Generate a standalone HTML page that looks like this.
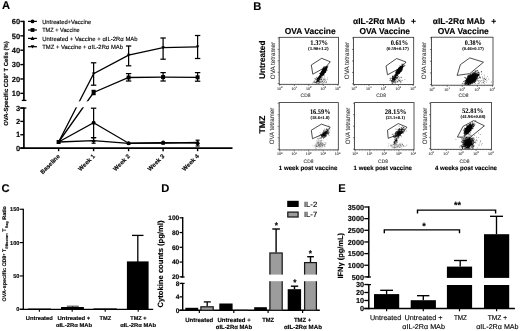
<!DOCTYPE html>
<html lang="en"><head><meta charset="utf-8"><title>Figure</title>
<style>
html,body{margin:0;padding:0;background:#fff;}
body{width:520px;height:331px;overflow:hidden;}
svg{display:block;font-family:"Liberation Sans", Arial, Helvetica, sans-serif;text-rendering:geometricPrecision;}
svg text{stroke:#000;stroke-width:0.13px;stroke-linejoin:round;}
svg text.s{stroke-width:0.05px;}
svg text.g{stroke:#3a3a3a;stroke-width:0.1px;}
</style></head>
<body>
<svg width="520" height="331" viewBox="0 0 520 331" style="filter:blur(0.35px)">
<rect width="520" height="331" fill="#fff"/>
<text x="1.90" y="9.20" font-size="11.2" text-anchor="start" fill="#000" font-weight="bold" >A</text>
<text x="253.30" y="9.60" font-size="11.2" text-anchor="start" fill="#000" font-weight="bold" >B</text>
<text x="1.60" y="191.60" font-size="11.2" text-anchor="start" fill="#000" font-weight="bold" >C</text>
<text x="161.30" y="191.60" font-size="11.2" text-anchor="start" fill="#000" font-weight="bold" >D</text>
<text x="338.30" y="191.60" font-size="11.2" text-anchor="start" fill="#000" font-weight="bold" >E</text>
<line x1="23.90" y1="20.70" x2="23.90" y2="101.00" stroke="#000" stroke-width="1.7" stroke-linecap="butt"/>
<line x1="23.90" y1="107.40" x2="23.90" y2="148.80" stroke="#000" stroke-width="1.7" stroke-linecap="butt"/>
<line x1="20.30" y1="148.10" x2="232.50" y2="148.10" stroke="#000" stroke-width="1.6" stroke-linecap="butt"/>
<line x1="20.30" y1="21.45" x2="23.90" y2="21.45" stroke="#000" stroke-width="1.4" stroke-linecap="butt"/>
<text x="20.10" y="24.14" font-size="7.5" text-anchor="end" fill="#000" font-weight="bold" >60</text>
<line x1="20.30" y1="35.83" x2="23.90" y2="35.83" stroke="#000" stroke-width="1.4" stroke-linecap="butt"/>
<text x="20.10" y="38.52" font-size="7.5" text-anchor="end" fill="#000" font-weight="bold" >50</text>
<line x1="20.30" y1="50.21" x2="23.90" y2="50.21" stroke="#000" stroke-width="1.4" stroke-linecap="butt"/>
<text x="20.10" y="52.89" font-size="7.5" text-anchor="end" fill="#000" font-weight="bold" >40</text>
<line x1="20.30" y1="64.59" x2="23.90" y2="64.59" stroke="#000" stroke-width="1.4" stroke-linecap="butt"/>
<text x="20.10" y="67.28" font-size="7.5" text-anchor="end" fill="#000" font-weight="bold" >30</text>
<line x1="20.30" y1="78.97" x2="23.90" y2="78.97" stroke="#000" stroke-width="1.4" stroke-linecap="butt"/>
<text x="20.10" y="81.66" font-size="7.5" text-anchor="end" fill="#000" font-weight="bold" >20</text>
<line x1="20.30" y1="93.35" x2="23.90" y2="93.35" stroke="#000" stroke-width="1.4" stroke-linecap="butt"/>
<text x="20.10" y="96.03" font-size="7.5" text-anchor="end" fill="#000" font-weight="bold" >10</text>
<line x1="20.30" y1="108.05" x2="23.90" y2="108.05" stroke="#000" stroke-width="1.4" stroke-linecap="butt"/>
<text x="20.10" y="110.73" font-size="7.5" text-anchor="end" fill="#000" font-weight="bold" >3</text>
<line x1="20.30" y1="121.40" x2="23.90" y2="121.40" stroke="#000" stroke-width="1.4" stroke-linecap="butt"/>
<text x="20.10" y="124.08" font-size="7.5" text-anchor="end" fill="#000" font-weight="bold" >2</text>
<line x1="20.30" y1="134.75" x2="23.90" y2="134.75" stroke="#000" stroke-width="1.4" stroke-linecap="butt"/>
<text x="20.10" y="137.44" font-size="7.5" text-anchor="end" fill="#000" font-weight="bold" >1</text>
<line x1="20.30" y1="148.10" x2="23.90" y2="148.10" stroke="#000" stroke-width="1.4" stroke-linecap="butt"/>
<text x="20.10" y="150.78" font-size="7.5" text-anchor="end" fill="#000" font-weight="bold" >0</text>
<line x1="21.80" y1="100.40" x2="26.40" y2="100.40" stroke="#000" stroke-width="1.3" stroke-linecap="butt"/>
<line x1="20.30" y1="108.05" x2="26.40" y2="108.05" stroke="#000" stroke-width="1.3" stroke-linecap="butt"/>
<line x1="58.60" y1="148.00" x2="58.60" y2="151.20" stroke="#000" stroke-width="1.4" stroke-linecap="butt"/>
<line x1="93.60" y1="148.00" x2="93.60" y2="151.20" stroke="#000" stroke-width="1.4" stroke-linecap="butt"/>
<line x1="128.60" y1="148.00" x2="128.60" y2="151.20" stroke="#000" stroke-width="1.4" stroke-linecap="butt"/>
<line x1="163.10" y1="148.00" x2="163.10" y2="151.20" stroke="#000" stroke-width="1.4" stroke-linecap="butt"/>
<line x1="197.60" y1="148.00" x2="197.60" y2="151.20" stroke="#000" stroke-width="1.4" stroke-linecap="butt"/>
<text transform="translate(58.1 154.4) rotate(-45)" font-size="6.1" font-weight="bold" text-anchor="end" x="0" y="3.2">Baseline</text>
<text transform="translate(93.1 154.4) rotate(-45)" font-size="6.1" font-weight="bold" text-anchor="end" x="0" y="3.2">Week 1</text>
<text transform="translate(128.1 154.4) rotate(-45)" font-size="6.1" font-weight="bold" text-anchor="end" x="0" y="3.2">Week 2</text>
<text transform="translate(162.6 154.4) rotate(-45)" font-size="6.1" font-weight="bold" text-anchor="end" x="0" y="3.2">Week 3</text>
<text transform="translate(197.1 154.4) rotate(-45)" font-size="6.1" font-weight="bold" text-anchor="end" x="0" y="3.2">Week 4</text>
<text transform="translate(5.90 83.50) rotate(-90)" x="0" y="2.11" font-size="5.9" text-anchor="middle" fill="#000" font-weight="bold" textLength="84.60" lengthAdjust="spacingAndGlyphs">OVA-Specific CD8<tspan dy="-2" font-size="3.8">+</tspan><tspan dy="2"> T Cells (%)</tspan></text>
<polyline fill="none" stroke="#000" stroke-width="1.3" points="58.60,142.00 93.60,73.80 128.60,55.10 163.10,47.60 197.60,46.80"/>
<polyline fill="none" stroke="#000" stroke-width="1.3" points="58.60,142.00 93.60,92.50 128.60,77.50 163.10,77.10 197.60,77.30"/>
<polyline fill="none" stroke="#000" stroke-width="1.3" points="58.60,142.00 93.60,122.80 128.60,143.20 163.10,142.60 197.60,143.20"/>
<polyline fill="none" stroke="#000" stroke-width="1.3" points="58.60,142.00 93.60,140.60 128.60,143.40 163.10,143.20 197.60,142.40"/>
<rect x="27.00" y="101.30" width="65.00" height="6.00" fill="#fff"/>
<line x1="93.60" y1="62.80" x2="93.60" y2="85.20" stroke="#000" stroke-width="1.25" stroke-linecap="butt"/>
<line x1="90.90" y1="62.80" x2="96.30" y2="62.80" stroke="#000" stroke-width="1.25" stroke-linecap="butt"/>
<line x1="90.90" y1="85.20" x2="96.30" y2="85.20" stroke="#000" stroke-width="1.25" stroke-linecap="butt"/>
<line x1="128.60" y1="46.00" x2="128.60" y2="65.80" stroke="#000" stroke-width="1.25" stroke-linecap="butt"/>
<line x1="125.90" y1="46.00" x2="131.30" y2="46.00" stroke="#000" stroke-width="1.25" stroke-linecap="butt"/>
<line x1="125.90" y1="65.80" x2="131.30" y2="65.80" stroke="#000" stroke-width="1.25" stroke-linecap="butt"/>
<line x1="163.10" y1="38.00" x2="163.10" y2="59.20" stroke="#000" stroke-width="1.25" stroke-linecap="butt"/>
<line x1="160.40" y1="38.00" x2="165.80" y2="38.00" stroke="#000" stroke-width="1.25" stroke-linecap="butt"/>
<line x1="160.40" y1="59.20" x2="165.80" y2="59.20" stroke="#000" stroke-width="1.25" stroke-linecap="butt"/>
<line x1="197.60" y1="35.50" x2="197.60" y2="58.50" stroke="#000" stroke-width="1.25" stroke-linecap="butt"/>
<line x1="194.90" y1="35.50" x2="200.30" y2="35.50" stroke="#000" stroke-width="1.25" stroke-linecap="butt"/>
<line x1="194.90" y1="58.50" x2="200.30" y2="58.50" stroke="#000" stroke-width="1.25" stroke-linecap="butt"/>
<line x1="93.60" y1="90.40" x2="93.60" y2="94.60" stroke="#000" stroke-width="1.25" stroke-linecap="butt"/>
<line x1="91.60" y1="90.40" x2="95.60" y2="90.40" stroke="#000" stroke-width="1.25" stroke-linecap="butt"/>
<line x1="91.60" y1="94.60" x2="95.60" y2="94.60" stroke="#000" stroke-width="1.25" stroke-linecap="butt"/>
<line x1="128.60" y1="73.60" x2="128.60" y2="81.00" stroke="#000" stroke-width="1.25" stroke-linecap="butt"/>
<line x1="125.90" y1="73.60" x2="131.30" y2="73.60" stroke="#000" stroke-width="1.25" stroke-linecap="butt"/>
<line x1="125.90" y1="81.00" x2="131.30" y2="81.00" stroke="#000" stroke-width="1.25" stroke-linecap="butt"/>
<line x1="163.10" y1="72.60" x2="163.10" y2="81.00" stroke="#000" stroke-width="1.25" stroke-linecap="butt"/>
<line x1="160.40" y1="72.60" x2="165.80" y2="72.60" stroke="#000" stroke-width="1.25" stroke-linecap="butt"/>
<line x1="160.40" y1="81.00" x2="165.80" y2="81.00" stroke="#000" stroke-width="1.25" stroke-linecap="butt"/>
<line x1="197.60" y1="72.60" x2="197.60" y2="81.20" stroke="#000" stroke-width="1.25" stroke-linecap="butt"/>
<line x1="194.90" y1="72.60" x2="200.30" y2="72.60" stroke="#000" stroke-width="1.25" stroke-linecap="butt"/>
<line x1="194.90" y1="81.20" x2="200.30" y2="81.20" stroke="#000" stroke-width="1.25" stroke-linecap="butt"/>
<line x1="93.60" y1="108.20" x2="93.60" y2="137.60" stroke="#000" stroke-width="1.25" stroke-linecap="butt"/>
<line x1="90.90" y1="108.20" x2="96.30" y2="108.20" stroke="#000" stroke-width="1.25" stroke-linecap="butt"/>
<line x1="90.90" y1="137.60" x2="96.30" y2="137.60" stroke="#000" stroke-width="1.25" stroke-linecap="butt"/>
<line x1="197.60" y1="140.20" x2="197.60" y2="146.00" stroke="#000" stroke-width="1.25" stroke-linecap="butt"/>
<line x1="195.60" y1="140.20" x2="199.60" y2="140.20" stroke="#000" stroke-width="1.25" stroke-linecap="butt"/>
<line x1="195.60" y1="146.00" x2="199.60" y2="146.00" stroke="#000" stroke-width="1.25" stroke-linecap="butt"/>
<line x1="93.60" y1="137.80" x2="93.60" y2="143.20" stroke="#000" stroke-width="1.25" stroke-linecap="butt"/>
<line x1="91.60" y1="137.80" x2="95.60" y2="137.80" stroke="#000" stroke-width="1.25" stroke-linecap="butt"/>
<line x1="91.60" y1="143.20" x2="95.60" y2="143.20" stroke="#000" stroke-width="1.25" stroke-linecap="butt"/>
<polygon points="91.90,72.44 95.30,72.44 93.60,75.50" fill="#000"/>
<polygon points="126.90,53.74 130.30,53.74 128.60,56.80" fill="#000"/>
<polygon points="161.40,46.24 164.80,46.24 163.10,49.30" fill="#000"/>
<polygon points="195.90,45.44 199.30,45.44 197.60,48.50" fill="#000"/>
<rect x="56.60" y="140.00" width="4.00" height="4.00" fill="#000"/>
<rect x="91.60" y="90.50" width="4.00" height="4.00" fill="#000"/>
<rect x="126.60" y="75.50" width="4.00" height="4.00" fill="#000"/>
<rect x="161.10" y="75.10" width="4.00" height="4.00" fill="#000"/>
<rect x="195.60" y="75.30" width="4.00" height="4.00" fill="#000"/>
<circle cx="93.60" cy="122.80" r="2.0" fill="#000"/>
<circle cx="128.60" cy="143.20" r="2.0" fill="#000"/>
<circle cx="163.10" cy="142.60" r="2.0" fill="#000"/>
<circle cx="197.60" cy="143.20" r="2.0" fill="#000"/>
<polygon points="91.60,142.10 95.60,142.10 93.60,138.50" fill="#000"/>
<polygon points="126.60,144.90 130.60,144.90 128.60,141.30" fill="#000"/>
<polygon points="161.10,144.70 165.10,144.70 163.10,141.10" fill="#000"/>
<polygon points="195.60,143.90 199.60,143.90 197.60,140.30" fill="#000"/>
<line x1="28.00" y1="21.40" x2="36.90" y2="21.40" stroke="#000" stroke-width="1.25" stroke-linecap="butt"/>
<circle cx="32.50" cy="21.40" r="1.9" fill="#000"/>
<text x="42.20" y="23.65" font-size="6.0" text-anchor="start" fill="#000" textLength="49.00" lengthAdjust="spacingAndGlyphs" >Untreated+Vaccine</text>
<line x1="28.00" y1="30.00" x2="36.90" y2="30.00" stroke="#000" stroke-width="1.25" stroke-linecap="butt"/>
<rect x="30.60" y="28.10" width="3.80" height="3.80" fill="#000"/>
<text x="42.20" y="32.25" font-size="6.0" text-anchor="start" fill="#000" textLength="37.50" lengthAdjust="spacingAndGlyphs" >TMZ + Vaccine</text>
<line x1="28.00" y1="38.40" x2="36.90" y2="38.40" stroke="#000" stroke-width="1.25" stroke-linecap="butt"/>
<polygon points="30.50,39.90 34.50,39.90 32.50,36.30" fill="#000"/>
<text x="42.20" y="40.65" font-size="6.0" text-anchor="start" fill="#000" textLength="95.40" lengthAdjust="spacingAndGlyphs" >Untreated + Vaccine + αIL-2Rα MAb</text>
<line x1="28.00" y1="46.70" x2="36.90" y2="46.70" stroke="#000" stroke-width="1.25" stroke-linecap="butt"/>
<polygon points="30.70,45.26 34.30,45.26 32.50,48.50" fill="#000"/>
<text x="42.20" y="48.95" font-size="6.0" text-anchor="start" fill="#000" textLength="80.80" lengthAdjust="spacingAndGlyphs" >TMZ + Vaccine + αIL-2Rα MAb</text>
<text x="310.20" y="33.84" font-size="8.5" text-anchor="middle" fill="#000" font-weight="bold" textLength="51.00" lengthAdjust="spacingAndGlyphs" >OVA Vaccine</text>
<text x="353.10" y="24.04" font-size="8.5" text-anchor="start" fill="#000" font-weight="bold" textLength="52.00" lengthAdjust="spacingAndGlyphs" >αIL-2Rα MAb</text>
<text x="411.00" y="24.04" font-size="8.5" text-anchor="start" fill="#000" font-weight="bold" >+</text>
<text x="384.70" y="33.74" font-size="8.5" text-anchor="middle" fill="#000" font-weight="bold" textLength="50.60" lengthAdjust="spacingAndGlyphs" >OVA Vaccine</text>
<text x="432.80" y="24.04" font-size="8.5" text-anchor="start" fill="#000" font-weight="bold" textLength="52.20" lengthAdjust="spacingAndGlyphs" >αIL-2Rα MAb</text>
<text x="491.20" y="24.04" font-size="8.5" text-anchor="start" fill="#000" font-weight="bold" >+</text>
<text x="463.30" y="33.74" font-size="8.5" text-anchor="middle" fill="#000" font-weight="bold" textLength="51.00" lengthAdjust="spacingAndGlyphs" >OVA Vaccine</text>
<text transform="translate(262.40 59.80) rotate(-90)" x="0" y="2.97" font-size="8.3" text-anchor="middle" fill="#000" font-weight="bold" textLength="38.40" lengthAdjust="spacingAndGlyphs">Untreated</text>
<text transform="translate(262.20 124.60) rotate(-90)" x="0" y="2.97" font-size="8.3" text-anchor="middle" fill="#000" font-weight="bold" textLength="17.90" lengthAdjust="spacingAndGlyphs">TMZ</text>
<text transform="translate(272.30 60.50) rotate(-90)" x="0" y="2.29" font-size="6.4" text-anchor="middle" fill="#3a3a3a" class="g" textLength="37.30" lengthAdjust="spacingAndGlyphs">OVA tetramer</text>
<text transform="translate(271.70 126.00) rotate(-90)" x="0" y="2.29" font-size="6.4" text-anchor="middle" fill="#3a3a3a" class="g" textLength="36.60" lengthAdjust="spacingAndGlyphs">OVA tetramer</text>
<text transform="translate(346.80 60.50) rotate(-90)" x="0" y="2.29" font-size="6.4" text-anchor="middle" fill="#3a3a3a" class="g" textLength="37.30" lengthAdjust="spacingAndGlyphs">OVA tetramer</text>
<text transform="translate(347.50 126.00) rotate(-90)" x="0" y="2.29" font-size="6.4" text-anchor="middle" fill="#3a3a3a" class="g" textLength="36.60" lengthAdjust="spacingAndGlyphs">OVA tetramer</text>
<text transform="translate(424.00 60.50) rotate(-90)" x="0" y="2.29" font-size="6.4" text-anchor="middle" fill="#3a3a3a" class="g" textLength="37.30" lengthAdjust="spacingAndGlyphs">OVA tetramer</text>
<text transform="translate(424.90 126.00) rotate(-90)" x="0" y="2.29" font-size="6.4" text-anchor="middle" fill="#3a3a3a" class="g" textLength="36.60" lengthAdjust="spacingAndGlyphs">OVA tetramer</text>
<rect x="279.20" y="37.30" width="59.20" height="47.00" fill="none" stroke="#2a2a2a" stroke-width="0.8"/>
<line x1="279.80" y1="84.30" x2="279.80" y2="85.90" stroke="#222" stroke-width="0.6" stroke-linecap="butt"/>
<text x="276.90" y="89.60" font-size="3.7" fill="#333" class="g">10<tspan dy="-1.5" font-size="2.6">0</tspan></text>
<line x1="277.60" y1="83.70" x2="279.20" y2="83.70" stroke="#222" stroke-width="0.6" stroke-linecap="butt"/>
<line x1="284.16" y1="84.30" x2="284.16" y2="85.20" stroke="#444" stroke-width="0.35" stroke-linecap="butt"/>
<line x1="278.30" y1="80.25" x2="279.20" y2="80.25" stroke="#444" stroke-width="0.35" stroke-linecap="butt"/>
<line x1="286.72" y1="84.30" x2="286.72" y2="85.20" stroke="#444" stroke-width="0.35" stroke-linecap="butt"/>
<line x1="278.30" y1="78.24" x2="279.20" y2="78.24" stroke="#444" stroke-width="0.35" stroke-linecap="butt"/>
<line x1="289.94" y1="84.30" x2="289.94" y2="85.20" stroke="#444" stroke-width="0.35" stroke-linecap="butt"/>
<line x1="278.30" y1="75.70" x2="279.20" y2="75.70" stroke="#444" stroke-width="0.35" stroke-linecap="butt"/>
<line x1="292.05" y1="84.30" x2="292.05" y2="85.20" stroke="#444" stroke-width="0.35" stroke-linecap="butt"/>
<line x1="278.30" y1="74.02" x2="279.20" y2="74.02" stroke="#444" stroke-width="0.35" stroke-linecap="butt"/>
<line x1="294.30" y1="84.30" x2="294.30" y2="85.90" stroke="#222" stroke-width="0.6" stroke-linecap="butt"/>
<text x="291.40" y="89.60" font-size="3.7" fill="#333" class="g">10<tspan dy="-1.5" font-size="2.6">1</tspan></text>
<line x1="277.60" y1="72.25" x2="279.20" y2="72.25" stroke="#222" stroke-width="0.6" stroke-linecap="butt"/>
<line x1="298.66" y1="84.30" x2="298.66" y2="85.20" stroke="#444" stroke-width="0.35" stroke-linecap="butt"/>
<line x1="278.30" y1="68.80" x2="279.20" y2="68.80" stroke="#444" stroke-width="0.35" stroke-linecap="butt"/>
<line x1="301.22" y1="84.30" x2="301.22" y2="85.20" stroke="#444" stroke-width="0.35" stroke-linecap="butt"/>
<line x1="278.30" y1="66.79" x2="279.20" y2="66.79" stroke="#444" stroke-width="0.35" stroke-linecap="butt"/>
<line x1="304.44" y1="84.30" x2="304.44" y2="85.20" stroke="#444" stroke-width="0.35" stroke-linecap="butt"/>
<line x1="278.30" y1="64.25" x2="279.20" y2="64.25" stroke="#444" stroke-width="0.35" stroke-linecap="butt"/>
<line x1="306.55" y1="84.30" x2="306.55" y2="85.20" stroke="#444" stroke-width="0.35" stroke-linecap="butt"/>
<line x1="278.30" y1="62.57" x2="279.20" y2="62.57" stroke="#444" stroke-width="0.35" stroke-linecap="butt"/>
<line x1="308.80" y1="84.30" x2="308.80" y2="85.90" stroke="#222" stroke-width="0.6" stroke-linecap="butt"/>
<text x="305.90" y="89.60" font-size="3.7" fill="#333" class="g">10<tspan dy="-1.5" font-size="2.6">2</tspan></text>
<line x1="277.60" y1="60.80" x2="279.20" y2="60.80" stroke="#222" stroke-width="0.6" stroke-linecap="butt"/>
<line x1="313.16" y1="84.30" x2="313.16" y2="85.20" stroke="#444" stroke-width="0.35" stroke-linecap="butt"/>
<line x1="278.30" y1="57.35" x2="279.20" y2="57.35" stroke="#444" stroke-width="0.35" stroke-linecap="butt"/>
<line x1="315.72" y1="84.30" x2="315.72" y2="85.20" stroke="#444" stroke-width="0.35" stroke-linecap="butt"/>
<line x1="278.30" y1="55.34" x2="279.20" y2="55.34" stroke="#444" stroke-width="0.35" stroke-linecap="butt"/>
<line x1="318.94" y1="84.30" x2="318.94" y2="85.20" stroke="#444" stroke-width="0.35" stroke-linecap="butt"/>
<line x1="278.30" y1="52.80" x2="279.20" y2="52.80" stroke="#444" stroke-width="0.35" stroke-linecap="butt"/>
<line x1="321.05" y1="84.30" x2="321.05" y2="85.20" stroke="#444" stroke-width="0.35" stroke-linecap="butt"/>
<line x1="278.30" y1="51.12" x2="279.20" y2="51.12" stroke="#444" stroke-width="0.35" stroke-linecap="butt"/>
<line x1="323.30" y1="84.30" x2="323.30" y2="85.90" stroke="#222" stroke-width="0.6" stroke-linecap="butt"/>
<text x="320.40" y="89.60" font-size="3.7" fill="#333" class="g">10<tspan dy="-1.5" font-size="2.6">3</tspan></text>
<line x1="277.60" y1="49.35" x2="279.20" y2="49.35" stroke="#222" stroke-width="0.6" stroke-linecap="butt"/>
<line x1="327.66" y1="84.30" x2="327.66" y2="85.20" stroke="#444" stroke-width="0.35" stroke-linecap="butt"/>
<line x1="278.30" y1="45.90" x2="279.20" y2="45.90" stroke="#444" stroke-width="0.35" stroke-linecap="butt"/>
<line x1="330.22" y1="84.30" x2="330.22" y2="85.20" stroke="#444" stroke-width="0.35" stroke-linecap="butt"/>
<line x1="278.30" y1="43.89" x2="279.20" y2="43.89" stroke="#444" stroke-width="0.35" stroke-linecap="butt"/>
<line x1="333.44" y1="84.30" x2="333.44" y2="85.20" stroke="#444" stroke-width="0.35" stroke-linecap="butt"/>
<line x1="278.30" y1="41.35" x2="279.20" y2="41.35" stroke="#444" stroke-width="0.35" stroke-linecap="butt"/>
<line x1="335.55" y1="84.30" x2="335.55" y2="85.20" stroke="#444" stroke-width="0.35" stroke-linecap="butt"/>
<line x1="278.30" y1="39.67" x2="279.20" y2="39.67" stroke="#444" stroke-width="0.35" stroke-linecap="butt"/>
<line x1="337.80" y1="84.30" x2="337.80" y2="85.90" stroke="#222" stroke-width="0.6" stroke-linecap="butt"/>
<text x="334.90" y="89.60" font-size="3.7" fill="#333" class="g">10<tspan dy="-1.5" font-size="2.6">4</tspan></text>
<line x1="277.60" y1="37.90" x2="279.20" y2="37.90" stroke="#222" stroke-width="0.6" stroke-linecap="butt"/>
<text x="305.50" y="96.55" font-size="4.9" text-anchor="middle" fill="#3a3a3a" class="g" >CD8</text>
<rect x="353.60" y="37.30" width="60.10" height="47.20" fill="none" stroke="#2a2a2a" stroke-width="0.8"/>
<line x1="354.20" y1="84.50" x2="354.20" y2="86.10" stroke="#222" stroke-width="0.6" stroke-linecap="butt"/>
<text x="351.30" y="89.80" font-size="3.7" fill="#333" class="g">10<tspan dy="-1.5" font-size="2.6">0</tspan></text>
<line x1="352.00" y1="83.90" x2="353.60" y2="83.90" stroke="#222" stroke-width="0.6" stroke-linecap="butt"/>
<line x1="358.63" y1="84.50" x2="358.63" y2="85.40" stroke="#444" stroke-width="0.35" stroke-linecap="butt"/>
<line x1="352.70" y1="80.44" x2="353.60" y2="80.44" stroke="#444" stroke-width="0.35" stroke-linecap="butt"/>
<line x1="361.23" y1="84.50" x2="361.23" y2="85.40" stroke="#444" stroke-width="0.35" stroke-linecap="butt"/>
<line x1="352.70" y1="78.41" x2="353.60" y2="78.41" stroke="#444" stroke-width="0.35" stroke-linecap="butt"/>
<line x1="364.49" y1="84.50" x2="364.49" y2="85.40" stroke="#444" stroke-width="0.35" stroke-linecap="butt"/>
<line x1="352.70" y1="75.86" x2="353.60" y2="75.86" stroke="#444" stroke-width="0.35" stroke-linecap="butt"/>
<line x1="366.64" y1="84.50" x2="366.64" y2="85.40" stroke="#444" stroke-width="0.35" stroke-linecap="butt"/>
<line x1="352.70" y1="74.18" x2="353.60" y2="74.18" stroke="#444" stroke-width="0.35" stroke-linecap="butt"/>
<line x1="368.93" y1="84.50" x2="368.93" y2="86.10" stroke="#222" stroke-width="0.6" stroke-linecap="butt"/>
<text x="366.03" y="89.80" font-size="3.7" fill="#333" class="g">10<tspan dy="-1.5" font-size="2.6">1</tspan></text>
<line x1="352.00" y1="72.40" x2="353.60" y2="72.40" stroke="#222" stroke-width="0.6" stroke-linecap="butt"/>
<line x1="373.36" y1="84.50" x2="373.36" y2="85.40" stroke="#444" stroke-width="0.35" stroke-linecap="butt"/>
<line x1="352.70" y1="68.94" x2="353.60" y2="68.94" stroke="#444" stroke-width="0.35" stroke-linecap="butt"/>
<line x1="375.95" y1="84.50" x2="375.95" y2="85.40" stroke="#444" stroke-width="0.35" stroke-linecap="butt"/>
<line x1="352.70" y1="66.91" x2="353.60" y2="66.91" stroke="#444" stroke-width="0.35" stroke-linecap="butt"/>
<line x1="379.22" y1="84.50" x2="379.22" y2="85.40" stroke="#444" stroke-width="0.35" stroke-linecap="butt"/>
<line x1="352.70" y1="64.36" x2="353.60" y2="64.36" stroke="#444" stroke-width="0.35" stroke-linecap="butt"/>
<line x1="381.37" y1="84.50" x2="381.37" y2="85.40" stroke="#444" stroke-width="0.35" stroke-linecap="butt"/>
<line x1="352.70" y1="62.68" x2="353.60" y2="62.68" stroke="#444" stroke-width="0.35" stroke-linecap="butt"/>
<line x1="383.65" y1="84.50" x2="383.65" y2="86.10" stroke="#222" stroke-width="0.6" stroke-linecap="butt"/>
<text x="380.75" y="89.80" font-size="3.7" fill="#333" class="g">10<tspan dy="-1.5" font-size="2.6">2</tspan></text>
<line x1="352.00" y1="60.90" x2="353.60" y2="60.90" stroke="#222" stroke-width="0.6" stroke-linecap="butt"/>
<line x1="388.08" y1="84.50" x2="388.08" y2="85.40" stroke="#444" stroke-width="0.35" stroke-linecap="butt"/>
<line x1="352.70" y1="57.44" x2="353.60" y2="57.44" stroke="#444" stroke-width="0.35" stroke-linecap="butt"/>
<line x1="390.68" y1="84.50" x2="390.68" y2="85.40" stroke="#444" stroke-width="0.35" stroke-linecap="butt"/>
<line x1="352.70" y1="55.41" x2="353.60" y2="55.41" stroke="#444" stroke-width="0.35" stroke-linecap="butt"/>
<line x1="393.94" y1="84.50" x2="393.94" y2="85.40" stroke="#444" stroke-width="0.35" stroke-linecap="butt"/>
<line x1="352.70" y1="52.86" x2="353.60" y2="52.86" stroke="#444" stroke-width="0.35" stroke-linecap="butt"/>
<line x1="396.09" y1="84.50" x2="396.09" y2="85.40" stroke="#444" stroke-width="0.35" stroke-linecap="butt"/>
<line x1="352.70" y1="51.18" x2="353.60" y2="51.18" stroke="#444" stroke-width="0.35" stroke-linecap="butt"/>
<line x1="398.38" y1="84.50" x2="398.38" y2="86.10" stroke="#222" stroke-width="0.6" stroke-linecap="butt"/>
<text x="395.48" y="89.80" font-size="3.7" fill="#333" class="g">10<tspan dy="-1.5" font-size="2.6">3</tspan></text>
<line x1="352.00" y1="49.40" x2="353.60" y2="49.40" stroke="#222" stroke-width="0.6" stroke-linecap="butt"/>
<line x1="402.81" y1="84.50" x2="402.81" y2="85.40" stroke="#444" stroke-width="0.35" stroke-linecap="butt"/>
<line x1="352.70" y1="45.94" x2="353.60" y2="45.94" stroke="#444" stroke-width="0.35" stroke-linecap="butt"/>
<line x1="405.40" y1="84.50" x2="405.40" y2="85.40" stroke="#444" stroke-width="0.35" stroke-linecap="butt"/>
<line x1="352.70" y1="43.91" x2="353.60" y2="43.91" stroke="#444" stroke-width="0.35" stroke-linecap="butt"/>
<line x1="408.67" y1="84.50" x2="408.67" y2="85.40" stroke="#444" stroke-width="0.35" stroke-linecap="butt"/>
<line x1="352.70" y1="41.36" x2="353.60" y2="41.36" stroke="#444" stroke-width="0.35" stroke-linecap="butt"/>
<line x1="410.82" y1="84.50" x2="410.82" y2="85.40" stroke="#444" stroke-width="0.35" stroke-linecap="butt"/>
<line x1="352.70" y1="39.68" x2="353.60" y2="39.68" stroke="#444" stroke-width="0.35" stroke-linecap="butt"/>
<line x1="413.10" y1="84.50" x2="413.10" y2="86.10" stroke="#222" stroke-width="0.6" stroke-linecap="butt"/>
<text x="410.20" y="89.80" font-size="3.7" fill="#333" class="g">10<tspan dy="-1.5" font-size="2.6">4</tspan></text>
<line x1="352.00" y1="37.90" x2="353.60" y2="37.90" stroke="#222" stroke-width="0.6" stroke-linecap="butt"/>
<text x="381.20" y="96.55" font-size="4.9" text-anchor="middle" fill="#3a3a3a" class="g" >CD8</text>
<rect x="431.50" y="37.20" width="61.50" height="48.00" fill="none" stroke="#2a2a2a" stroke-width="0.8"/>
<line x1="432.10" y1="85.20" x2="432.10" y2="86.80" stroke="#222" stroke-width="0.6" stroke-linecap="butt"/>
<text x="429.20" y="90.50" font-size="3.7" fill="#333" class="g">10<tspan dy="-1.5" font-size="2.6">0</tspan></text>
<line x1="429.90" y1="84.60" x2="431.50" y2="84.60" stroke="#222" stroke-width="0.6" stroke-linecap="butt"/>
<line x1="436.64" y1="85.20" x2="436.64" y2="86.10" stroke="#444" stroke-width="0.35" stroke-linecap="butt"/>
<line x1="430.60" y1="81.08" x2="431.50" y2="81.08" stroke="#444" stroke-width="0.35" stroke-linecap="butt"/>
<line x1="439.29" y1="85.20" x2="439.29" y2="86.10" stroke="#444" stroke-width="0.35" stroke-linecap="butt"/>
<line x1="430.60" y1="79.02" x2="431.50" y2="79.02" stroke="#444" stroke-width="0.35" stroke-linecap="butt"/>
<line x1="442.64" y1="85.20" x2="442.64" y2="86.10" stroke="#444" stroke-width="0.35" stroke-linecap="butt"/>
<line x1="430.60" y1="76.42" x2="431.50" y2="76.42" stroke="#444" stroke-width="0.35" stroke-linecap="butt"/>
<line x1="444.84" y1="85.20" x2="444.84" y2="86.10" stroke="#444" stroke-width="0.35" stroke-linecap="butt"/>
<line x1="430.60" y1="74.71" x2="431.50" y2="74.71" stroke="#444" stroke-width="0.35" stroke-linecap="butt"/>
<line x1="447.18" y1="85.20" x2="447.18" y2="86.80" stroke="#222" stroke-width="0.6" stroke-linecap="butt"/>
<text x="444.28" y="90.50" font-size="3.7" fill="#333" class="g">10<tspan dy="-1.5" font-size="2.6">1</tspan></text>
<line x1="429.90" y1="72.90" x2="431.50" y2="72.90" stroke="#222" stroke-width="0.6" stroke-linecap="butt"/>
<line x1="451.71" y1="85.20" x2="451.71" y2="86.10" stroke="#444" stroke-width="0.35" stroke-linecap="butt"/>
<line x1="430.60" y1="69.38" x2="431.50" y2="69.38" stroke="#444" stroke-width="0.35" stroke-linecap="butt"/>
<line x1="454.37" y1="85.20" x2="454.37" y2="86.10" stroke="#444" stroke-width="0.35" stroke-linecap="butt"/>
<line x1="430.60" y1="67.32" x2="431.50" y2="67.32" stroke="#444" stroke-width="0.35" stroke-linecap="butt"/>
<line x1="457.71" y1="85.20" x2="457.71" y2="86.10" stroke="#444" stroke-width="0.35" stroke-linecap="butt"/>
<line x1="430.60" y1="64.72" x2="431.50" y2="64.72" stroke="#444" stroke-width="0.35" stroke-linecap="butt"/>
<line x1="459.91" y1="85.20" x2="459.91" y2="86.10" stroke="#444" stroke-width="0.35" stroke-linecap="butt"/>
<line x1="430.60" y1="63.01" x2="431.50" y2="63.01" stroke="#444" stroke-width="0.35" stroke-linecap="butt"/>
<line x1="462.25" y1="85.20" x2="462.25" y2="86.80" stroke="#222" stroke-width="0.6" stroke-linecap="butt"/>
<text x="459.35" y="90.50" font-size="3.7" fill="#333" class="g">10<tspan dy="-1.5" font-size="2.6">2</tspan></text>
<line x1="429.90" y1="61.20" x2="431.50" y2="61.20" stroke="#222" stroke-width="0.6" stroke-linecap="butt"/>
<line x1="466.79" y1="85.20" x2="466.79" y2="86.10" stroke="#444" stroke-width="0.35" stroke-linecap="butt"/>
<line x1="430.60" y1="57.68" x2="431.50" y2="57.68" stroke="#444" stroke-width="0.35" stroke-linecap="butt"/>
<line x1="469.44" y1="85.20" x2="469.44" y2="86.10" stroke="#444" stroke-width="0.35" stroke-linecap="butt"/>
<line x1="430.60" y1="55.62" x2="431.50" y2="55.62" stroke="#444" stroke-width="0.35" stroke-linecap="butt"/>
<line x1="472.79" y1="85.20" x2="472.79" y2="86.10" stroke="#444" stroke-width="0.35" stroke-linecap="butt"/>
<line x1="430.60" y1="53.02" x2="431.50" y2="53.02" stroke="#444" stroke-width="0.35" stroke-linecap="butt"/>
<line x1="474.99" y1="85.20" x2="474.99" y2="86.10" stroke="#444" stroke-width="0.35" stroke-linecap="butt"/>
<line x1="430.60" y1="51.31" x2="431.50" y2="51.31" stroke="#444" stroke-width="0.35" stroke-linecap="butt"/>
<line x1="477.33" y1="85.20" x2="477.33" y2="86.80" stroke="#222" stroke-width="0.6" stroke-linecap="butt"/>
<text x="474.43" y="90.50" font-size="3.7" fill="#333" class="g">10<tspan dy="-1.5" font-size="2.6">3</tspan></text>
<line x1="429.90" y1="49.50" x2="431.50" y2="49.50" stroke="#222" stroke-width="0.6" stroke-linecap="butt"/>
<line x1="481.86" y1="85.20" x2="481.86" y2="86.10" stroke="#444" stroke-width="0.35" stroke-linecap="butt"/>
<line x1="430.60" y1="45.98" x2="431.50" y2="45.98" stroke="#444" stroke-width="0.35" stroke-linecap="butt"/>
<line x1="484.52" y1="85.20" x2="484.52" y2="86.10" stroke="#444" stroke-width="0.35" stroke-linecap="butt"/>
<line x1="430.60" y1="43.92" x2="431.50" y2="43.92" stroke="#444" stroke-width="0.35" stroke-linecap="butt"/>
<line x1="487.86" y1="85.20" x2="487.86" y2="86.10" stroke="#444" stroke-width="0.35" stroke-linecap="butt"/>
<line x1="430.60" y1="41.32" x2="431.50" y2="41.32" stroke="#444" stroke-width="0.35" stroke-linecap="butt"/>
<line x1="490.06" y1="85.20" x2="490.06" y2="86.10" stroke="#444" stroke-width="0.35" stroke-linecap="butt"/>
<line x1="430.60" y1="39.61" x2="431.50" y2="39.61" stroke="#444" stroke-width="0.35" stroke-linecap="butt"/>
<line x1="492.40" y1="85.20" x2="492.40" y2="86.80" stroke="#222" stroke-width="0.6" stroke-linecap="butt"/>
<text x="489.50" y="90.50" font-size="3.7" fill="#333" class="g">10<tspan dy="-1.5" font-size="2.6">4</tspan></text>
<line x1="429.90" y1="37.80" x2="431.50" y2="37.80" stroke="#222" stroke-width="0.6" stroke-linecap="butt"/>
<text x="463.50" y="96.55" font-size="4.9" text-anchor="middle" fill="#3a3a3a" class="g" >CD8</text>
<rect x="279.20" y="102.60" width="59.10" height="47.30" fill="none" stroke="#2a2a2a" stroke-width="0.8"/>
<line x1="279.80" y1="149.90" x2="279.80" y2="151.50" stroke="#222" stroke-width="0.6" stroke-linecap="butt"/>
<text x="276.90" y="155.20" font-size="3.7" fill="#333" class="g">10<tspan dy="-1.5" font-size="2.6">0</tspan></text>
<line x1="277.60" y1="149.30" x2="279.20" y2="149.30" stroke="#222" stroke-width="0.6" stroke-linecap="butt"/>
<line x1="284.16" y1="149.90" x2="284.16" y2="150.80" stroke="#444" stroke-width="0.35" stroke-linecap="butt"/>
<line x1="278.30" y1="145.83" x2="279.20" y2="145.83" stroke="#444" stroke-width="0.35" stroke-linecap="butt"/>
<line x1="286.71" y1="149.90" x2="286.71" y2="150.80" stroke="#444" stroke-width="0.35" stroke-linecap="butt"/>
<line x1="278.30" y1="143.80" x2="279.20" y2="143.80" stroke="#444" stroke-width="0.35" stroke-linecap="butt"/>
<line x1="289.92" y1="149.90" x2="289.92" y2="150.80" stroke="#444" stroke-width="0.35" stroke-linecap="butt"/>
<line x1="278.30" y1="141.24" x2="279.20" y2="141.24" stroke="#444" stroke-width="0.35" stroke-linecap="butt"/>
<line x1="292.03" y1="149.90" x2="292.03" y2="150.80" stroke="#444" stroke-width="0.35" stroke-linecap="butt"/>
<line x1="278.30" y1="139.56" x2="279.20" y2="139.56" stroke="#444" stroke-width="0.35" stroke-linecap="butt"/>
<line x1="294.28" y1="149.90" x2="294.28" y2="151.50" stroke="#222" stroke-width="0.6" stroke-linecap="butt"/>
<text x="291.38" y="155.20" font-size="3.7" fill="#333" class="g">10<tspan dy="-1.5" font-size="2.6">1</tspan></text>
<line x1="277.60" y1="137.78" x2="279.20" y2="137.78" stroke="#222" stroke-width="0.6" stroke-linecap="butt"/>
<line x1="298.63" y1="149.90" x2="298.63" y2="150.80" stroke="#444" stroke-width="0.35" stroke-linecap="butt"/>
<line x1="278.30" y1="134.31" x2="279.20" y2="134.31" stroke="#444" stroke-width="0.35" stroke-linecap="butt"/>
<line x1="301.18" y1="149.90" x2="301.18" y2="150.80" stroke="#444" stroke-width="0.35" stroke-linecap="butt"/>
<line x1="278.30" y1="132.28" x2="279.20" y2="132.28" stroke="#444" stroke-width="0.35" stroke-linecap="butt"/>
<line x1="304.39" y1="149.90" x2="304.39" y2="150.80" stroke="#444" stroke-width="0.35" stroke-linecap="butt"/>
<line x1="278.30" y1="129.72" x2="279.20" y2="129.72" stroke="#444" stroke-width="0.35" stroke-linecap="butt"/>
<line x1="306.51" y1="149.90" x2="306.51" y2="150.80" stroke="#444" stroke-width="0.35" stroke-linecap="butt"/>
<line x1="278.30" y1="128.04" x2="279.20" y2="128.04" stroke="#444" stroke-width="0.35" stroke-linecap="butt"/>
<line x1="308.75" y1="149.90" x2="308.75" y2="151.50" stroke="#222" stroke-width="0.6" stroke-linecap="butt"/>
<text x="305.85" y="155.20" font-size="3.7" fill="#333" class="g">10<tspan dy="-1.5" font-size="2.6">2</tspan></text>
<line x1="277.60" y1="126.25" x2="279.20" y2="126.25" stroke="#222" stroke-width="0.6" stroke-linecap="butt"/>
<line x1="313.11" y1="149.90" x2="313.11" y2="150.80" stroke="#444" stroke-width="0.35" stroke-linecap="butt"/>
<line x1="278.30" y1="122.78" x2="279.20" y2="122.78" stroke="#444" stroke-width="0.35" stroke-linecap="butt"/>
<line x1="315.66" y1="149.90" x2="315.66" y2="150.80" stroke="#444" stroke-width="0.35" stroke-linecap="butt"/>
<line x1="278.30" y1="120.75" x2="279.20" y2="120.75" stroke="#444" stroke-width="0.35" stroke-linecap="butt"/>
<line x1="318.87" y1="149.90" x2="318.87" y2="150.80" stroke="#444" stroke-width="0.35" stroke-linecap="butt"/>
<line x1="278.30" y1="118.19" x2="279.20" y2="118.19" stroke="#444" stroke-width="0.35" stroke-linecap="butt"/>
<line x1="320.98" y1="149.90" x2="320.98" y2="150.80" stroke="#444" stroke-width="0.35" stroke-linecap="butt"/>
<line x1="278.30" y1="116.51" x2="279.20" y2="116.51" stroke="#444" stroke-width="0.35" stroke-linecap="butt"/>
<line x1="323.23" y1="149.90" x2="323.23" y2="151.50" stroke="#222" stroke-width="0.6" stroke-linecap="butt"/>
<text x="320.33" y="155.20" font-size="3.7" fill="#333" class="g">10<tspan dy="-1.5" font-size="2.6">3</tspan></text>
<line x1="277.60" y1="114.73" x2="279.20" y2="114.73" stroke="#222" stroke-width="0.6" stroke-linecap="butt"/>
<line x1="327.58" y1="149.90" x2="327.58" y2="150.80" stroke="#444" stroke-width="0.35" stroke-linecap="butt"/>
<line x1="278.30" y1="111.26" x2="279.20" y2="111.26" stroke="#444" stroke-width="0.35" stroke-linecap="butt"/>
<line x1="330.13" y1="149.90" x2="330.13" y2="150.80" stroke="#444" stroke-width="0.35" stroke-linecap="butt"/>
<line x1="278.30" y1="109.23" x2="279.20" y2="109.23" stroke="#444" stroke-width="0.35" stroke-linecap="butt"/>
<line x1="333.34" y1="149.90" x2="333.34" y2="150.80" stroke="#444" stroke-width="0.35" stroke-linecap="butt"/>
<line x1="278.30" y1="106.67" x2="279.20" y2="106.67" stroke="#444" stroke-width="0.35" stroke-linecap="butt"/>
<line x1="335.46" y1="149.90" x2="335.46" y2="150.80" stroke="#444" stroke-width="0.35" stroke-linecap="butt"/>
<line x1="278.30" y1="104.99" x2="279.20" y2="104.99" stroke="#444" stroke-width="0.35" stroke-linecap="butt"/>
<line x1="337.70" y1="149.90" x2="337.70" y2="151.50" stroke="#222" stroke-width="0.6" stroke-linecap="butt"/>
<text x="334.80" y="155.20" font-size="3.7" fill="#333" class="g">10<tspan dy="-1.5" font-size="2.6">4</tspan></text>
<line x1="277.60" y1="103.20" x2="279.20" y2="103.20" stroke="#222" stroke-width="0.6" stroke-linecap="butt"/>
<text x="308.50" y="162.85" font-size="4.9" text-anchor="middle" fill="#3a3a3a" class="g" >CD8</text>
<rect x="354.60" y="102.60" width="59.40" height="47.20" fill="none" stroke="#2a2a2a" stroke-width="0.8"/>
<line x1="355.20" y1="149.80" x2="355.20" y2="151.40" stroke="#222" stroke-width="0.6" stroke-linecap="butt"/>
<text x="352.30" y="155.10" font-size="3.7" fill="#333" class="g">10<tspan dy="-1.5" font-size="2.6">0</tspan></text>
<line x1="353.00" y1="149.20" x2="354.60" y2="149.20" stroke="#222" stroke-width="0.6" stroke-linecap="butt"/>
<line x1="359.58" y1="149.80" x2="359.58" y2="150.70" stroke="#444" stroke-width="0.35" stroke-linecap="butt"/>
<line x1="353.70" y1="145.74" x2="354.60" y2="145.74" stroke="#444" stroke-width="0.35" stroke-linecap="butt"/>
<line x1="362.14" y1="149.80" x2="362.14" y2="150.70" stroke="#444" stroke-width="0.35" stroke-linecap="butt"/>
<line x1="353.70" y1="143.71" x2="354.60" y2="143.71" stroke="#444" stroke-width="0.35" stroke-linecap="butt"/>
<line x1="365.37" y1="149.80" x2="365.37" y2="150.70" stroke="#444" stroke-width="0.35" stroke-linecap="butt"/>
<line x1="353.70" y1="141.16" x2="354.60" y2="141.16" stroke="#444" stroke-width="0.35" stroke-linecap="butt"/>
<line x1="367.50" y1="149.80" x2="367.50" y2="150.70" stroke="#444" stroke-width="0.35" stroke-linecap="butt"/>
<line x1="353.70" y1="139.48" x2="354.60" y2="139.48" stroke="#444" stroke-width="0.35" stroke-linecap="butt"/>
<line x1="369.75" y1="149.80" x2="369.75" y2="151.40" stroke="#222" stroke-width="0.6" stroke-linecap="butt"/>
<text x="366.85" y="155.10" font-size="3.7" fill="#333" class="g">10<tspan dy="-1.5" font-size="2.6">1</tspan></text>
<line x1="353.00" y1="137.70" x2="354.60" y2="137.70" stroke="#222" stroke-width="0.6" stroke-linecap="butt"/>
<line x1="374.13" y1="149.80" x2="374.13" y2="150.70" stroke="#444" stroke-width="0.35" stroke-linecap="butt"/>
<line x1="353.70" y1="134.24" x2="354.60" y2="134.24" stroke="#444" stroke-width="0.35" stroke-linecap="butt"/>
<line x1="376.69" y1="149.80" x2="376.69" y2="150.70" stroke="#444" stroke-width="0.35" stroke-linecap="butt"/>
<line x1="353.70" y1="132.21" x2="354.60" y2="132.21" stroke="#444" stroke-width="0.35" stroke-linecap="butt"/>
<line x1="379.92" y1="149.80" x2="379.92" y2="150.70" stroke="#444" stroke-width="0.35" stroke-linecap="butt"/>
<line x1="353.70" y1="129.66" x2="354.60" y2="129.66" stroke="#444" stroke-width="0.35" stroke-linecap="butt"/>
<line x1="382.05" y1="149.80" x2="382.05" y2="150.70" stroke="#444" stroke-width="0.35" stroke-linecap="butt"/>
<line x1="353.70" y1="127.98" x2="354.60" y2="127.98" stroke="#444" stroke-width="0.35" stroke-linecap="butt"/>
<line x1="384.30" y1="149.80" x2="384.30" y2="151.40" stroke="#222" stroke-width="0.6" stroke-linecap="butt"/>
<text x="381.40" y="155.10" font-size="3.7" fill="#333" class="g">10<tspan dy="-1.5" font-size="2.6">2</tspan></text>
<line x1="353.00" y1="126.20" x2="354.60" y2="126.20" stroke="#222" stroke-width="0.6" stroke-linecap="butt"/>
<line x1="388.68" y1="149.80" x2="388.68" y2="150.70" stroke="#444" stroke-width="0.35" stroke-linecap="butt"/>
<line x1="353.70" y1="122.74" x2="354.60" y2="122.74" stroke="#444" stroke-width="0.35" stroke-linecap="butt"/>
<line x1="391.24" y1="149.80" x2="391.24" y2="150.70" stroke="#444" stroke-width="0.35" stroke-linecap="butt"/>
<line x1="353.70" y1="120.71" x2="354.60" y2="120.71" stroke="#444" stroke-width="0.35" stroke-linecap="butt"/>
<line x1="394.47" y1="149.80" x2="394.47" y2="150.70" stroke="#444" stroke-width="0.35" stroke-linecap="butt"/>
<line x1="353.70" y1="118.16" x2="354.60" y2="118.16" stroke="#444" stroke-width="0.35" stroke-linecap="butt"/>
<line x1="396.60" y1="149.80" x2="396.60" y2="150.70" stroke="#444" stroke-width="0.35" stroke-linecap="butt"/>
<line x1="353.70" y1="116.48" x2="354.60" y2="116.48" stroke="#444" stroke-width="0.35" stroke-linecap="butt"/>
<line x1="398.85" y1="149.80" x2="398.85" y2="151.40" stroke="#222" stroke-width="0.6" stroke-linecap="butt"/>
<text x="395.95" y="155.10" font-size="3.7" fill="#333" class="g">10<tspan dy="-1.5" font-size="2.6">3</tspan></text>
<line x1="353.00" y1="114.70" x2="354.60" y2="114.70" stroke="#222" stroke-width="0.6" stroke-linecap="butt"/>
<line x1="403.23" y1="149.80" x2="403.23" y2="150.70" stroke="#444" stroke-width="0.35" stroke-linecap="butt"/>
<line x1="353.70" y1="111.24" x2="354.60" y2="111.24" stroke="#444" stroke-width="0.35" stroke-linecap="butt"/>
<line x1="405.79" y1="149.80" x2="405.79" y2="150.70" stroke="#444" stroke-width="0.35" stroke-linecap="butt"/>
<line x1="353.70" y1="109.21" x2="354.60" y2="109.21" stroke="#444" stroke-width="0.35" stroke-linecap="butt"/>
<line x1="409.02" y1="149.80" x2="409.02" y2="150.70" stroke="#444" stroke-width="0.35" stroke-linecap="butt"/>
<line x1="353.70" y1="106.66" x2="354.60" y2="106.66" stroke="#444" stroke-width="0.35" stroke-linecap="butt"/>
<line x1="411.15" y1="149.80" x2="411.15" y2="150.70" stroke="#444" stroke-width="0.35" stroke-linecap="butt"/>
<line x1="353.70" y1="104.98" x2="354.60" y2="104.98" stroke="#444" stroke-width="0.35" stroke-linecap="butt"/>
<line x1="413.40" y1="149.80" x2="413.40" y2="151.40" stroke="#222" stroke-width="0.6" stroke-linecap="butt"/>
<text x="410.50" y="155.10" font-size="3.7" fill="#333" class="g">10<tspan dy="-1.5" font-size="2.6">4</tspan></text>
<line x1="353.00" y1="103.20" x2="354.60" y2="103.20" stroke="#222" stroke-width="0.6" stroke-linecap="butt"/>
<text x="383.00" y="162.85" font-size="4.9" text-anchor="middle" fill="#3a3a3a" class="g" >CD8</text>
<rect x="430.70" y="102.60" width="60.90" height="46.70" fill="none" stroke="#2a2a2a" stroke-width="0.8"/>
<line x1="431.30" y1="149.30" x2="431.30" y2="150.90" stroke="#222" stroke-width="0.6" stroke-linecap="butt"/>
<text x="428.40" y="154.60" font-size="3.7" fill="#333" class="g">10<tspan dy="-1.5" font-size="2.6">0</tspan></text>
<line x1="429.10" y1="148.70" x2="430.70" y2="148.70" stroke="#222" stroke-width="0.6" stroke-linecap="butt"/>
<line x1="435.79" y1="149.30" x2="435.79" y2="150.20" stroke="#444" stroke-width="0.35" stroke-linecap="butt"/>
<line x1="429.80" y1="145.28" x2="430.70" y2="145.28" stroke="#444" stroke-width="0.35" stroke-linecap="butt"/>
<line x1="438.42" y1="149.30" x2="438.42" y2="150.20" stroke="#444" stroke-width="0.35" stroke-linecap="butt"/>
<line x1="429.80" y1="143.27" x2="430.70" y2="143.27" stroke="#444" stroke-width="0.35" stroke-linecap="butt"/>
<line x1="441.73" y1="149.30" x2="441.73" y2="150.20" stroke="#444" stroke-width="0.35" stroke-linecap="butt"/>
<line x1="429.80" y1="140.75" x2="430.70" y2="140.75" stroke="#444" stroke-width="0.35" stroke-linecap="butt"/>
<line x1="443.91" y1="149.30" x2="443.91" y2="150.20" stroke="#444" stroke-width="0.35" stroke-linecap="butt"/>
<line x1="429.80" y1="139.09" x2="430.70" y2="139.09" stroke="#444" stroke-width="0.35" stroke-linecap="butt"/>
<line x1="446.23" y1="149.30" x2="446.23" y2="150.90" stroke="#222" stroke-width="0.6" stroke-linecap="butt"/>
<text x="443.33" y="154.60" font-size="3.7" fill="#333" class="g">10<tspan dy="-1.5" font-size="2.6">1</tspan></text>
<line x1="429.10" y1="137.33" x2="430.70" y2="137.33" stroke="#222" stroke-width="0.6" stroke-linecap="butt"/>
<line x1="450.72" y1="149.30" x2="450.72" y2="150.20" stroke="#444" stroke-width="0.35" stroke-linecap="butt"/>
<line x1="429.80" y1="133.90" x2="430.70" y2="133.90" stroke="#444" stroke-width="0.35" stroke-linecap="butt"/>
<line x1="453.35" y1="149.30" x2="453.35" y2="150.20" stroke="#444" stroke-width="0.35" stroke-linecap="butt"/>
<line x1="429.80" y1="131.90" x2="430.70" y2="131.90" stroke="#444" stroke-width="0.35" stroke-linecap="butt"/>
<line x1="456.66" y1="149.30" x2="456.66" y2="150.20" stroke="#444" stroke-width="0.35" stroke-linecap="butt"/>
<line x1="429.80" y1="129.37" x2="430.70" y2="129.37" stroke="#444" stroke-width="0.35" stroke-linecap="butt"/>
<line x1="458.84" y1="149.30" x2="458.84" y2="150.20" stroke="#444" stroke-width="0.35" stroke-linecap="butt"/>
<line x1="429.80" y1="127.71" x2="430.70" y2="127.71" stroke="#444" stroke-width="0.35" stroke-linecap="butt"/>
<line x1="461.15" y1="149.30" x2="461.15" y2="150.90" stroke="#222" stroke-width="0.6" stroke-linecap="butt"/>
<text x="458.25" y="154.60" font-size="3.7" fill="#333" class="g">10<tspan dy="-1.5" font-size="2.6">2</tspan></text>
<line x1="429.10" y1="125.95" x2="430.70" y2="125.95" stroke="#222" stroke-width="0.6" stroke-linecap="butt"/>
<line x1="465.64" y1="149.30" x2="465.64" y2="150.20" stroke="#444" stroke-width="0.35" stroke-linecap="butt"/>
<line x1="429.80" y1="122.53" x2="430.70" y2="122.53" stroke="#444" stroke-width="0.35" stroke-linecap="butt"/>
<line x1="468.27" y1="149.30" x2="468.27" y2="150.20" stroke="#444" stroke-width="0.35" stroke-linecap="butt"/>
<line x1="429.80" y1="120.52" x2="430.70" y2="120.52" stroke="#444" stroke-width="0.35" stroke-linecap="butt"/>
<line x1="471.58" y1="149.30" x2="471.58" y2="150.20" stroke="#444" stroke-width="0.35" stroke-linecap="butt"/>
<line x1="429.80" y1="118.00" x2="430.70" y2="118.00" stroke="#444" stroke-width="0.35" stroke-linecap="butt"/>
<line x1="473.76" y1="149.30" x2="473.76" y2="150.20" stroke="#444" stroke-width="0.35" stroke-linecap="butt"/>
<line x1="429.80" y1="116.34" x2="430.70" y2="116.34" stroke="#444" stroke-width="0.35" stroke-linecap="butt"/>
<line x1="476.08" y1="149.30" x2="476.08" y2="150.90" stroke="#222" stroke-width="0.6" stroke-linecap="butt"/>
<text x="473.18" y="154.60" font-size="3.7" fill="#333" class="g">10<tspan dy="-1.5" font-size="2.6">3</tspan></text>
<line x1="429.10" y1="114.58" x2="430.70" y2="114.58" stroke="#222" stroke-width="0.6" stroke-linecap="butt"/>
<line x1="480.57" y1="149.30" x2="480.57" y2="150.20" stroke="#444" stroke-width="0.35" stroke-linecap="butt"/>
<line x1="429.80" y1="111.15" x2="430.70" y2="111.15" stroke="#444" stroke-width="0.35" stroke-linecap="butt"/>
<line x1="483.20" y1="149.30" x2="483.20" y2="150.20" stroke="#444" stroke-width="0.35" stroke-linecap="butt"/>
<line x1="429.80" y1="109.15" x2="430.70" y2="109.15" stroke="#444" stroke-width="0.35" stroke-linecap="butt"/>
<line x1="486.51" y1="149.30" x2="486.51" y2="150.20" stroke="#444" stroke-width="0.35" stroke-linecap="butt"/>
<line x1="429.80" y1="106.62" x2="430.70" y2="106.62" stroke="#444" stroke-width="0.35" stroke-linecap="butt"/>
<line x1="488.69" y1="149.30" x2="488.69" y2="150.20" stroke="#444" stroke-width="0.35" stroke-linecap="butt"/>
<line x1="429.80" y1="104.96" x2="430.70" y2="104.96" stroke="#444" stroke-width="0.35" stroke-linecap="butt"/>
<line x1="491.00" y1="149.30" x2="491.00" y2="150.90" stroke="#222" stroke-width="0.6" stroke-linecap="butt"/>
<text x="488.10" y="154.60" font-size="3.7" fill="#333" class="g">10<tspan dy="-1.5" font-size="2.6">4</tspan></text>
<line x1="429.10" y1="103.20" x2="430.70" y2="103.20" stroke="#222" stroke-width="0.6" stroke-linecap="butt"/>
<text x="464.50" y="162.85" font-size="4.9" text-anchor="middle" fill="#3a3a3a" class="g" >CD8</text>
<text x="319.20" y="45.11" font-size="7.0" text-anchor="middle" fill="#000" font-weight="bold" class="s" font-family='"Liberation Serif", "Times New Roman", serif' textLength="17.70" lengthAdjust="spacingAndGlyphs" >1.37%</text>
<text x="318.40" y="49.81" font-size="4.5" text-anchor="middle" fill="#000" font-weight="bold" class="s" font-family='"Liberation Serif", "Times New Roman", serif' textLength="20.60" lengthAdjust="spacingAndGlyphs" >(1.90±1.2)</text>
<text x="399.40" y="45.11" font-size="7.0" text-anchor="middle" fill="#000" font-weight="bold" class="s" font-family='"Liberation Serif", "Times New Roman", serif' textLength="17.50" lengthAdjust="spacingAndGlyphs" >0.61%</text>
<text x="397.60" y="49.61" font-size="4.5" text-anchor="middle" fill="#000" font-weight="bold" class="s" font-family='"Liberation Serif", "Times New Roman", serif' textLength="22.20" lengthAdjust="spacingAndGlyphs" >(0.59±0.17)</text>
<text x="473.30" y="45.11" font-size="7.0" text-anchor="middle" fill="#000" font-weight="bold" class="s" font-family='"Liberation Serif", "Times New Roman", serif' textLength="17.00" lengthAdjust="spacingAndGlyphs" >0.38%</text>
<text x="473.00" y="49.61" font-size="4.5" text-anchor="middle" fill="#000" font-weight="bold" class="s" font-family='"Liberation Serif", "Times New Roman", serif' textLength="21.50" lengthAdjust="spacingAndGlyphs" >(0.46±0.17)</text>
<text x="320.20" y="114.01" font-size="7.0" text-anchor="middle" fill="#000" font-weight="bold" class="s" font-family='"Liberation Serif", "Times New Roman", serif' textLength="20.50" lengthAdjust="spacingAndGlyphs" >16.59%</text>
<text x="320.00" y="119.01" font-size="4.5" text-anchor="middle" fill="#000" font-weight="bold" class="s" font-family='"Liberation Serif", "Times New Roman", serif' textLength="19.00" lengthAdjust="spacingAndGlyphs" >(18.6±1.8)</text>
<text x="395.60" y="113.51" font-size="7.0" text-anchor="middle" fill="#000" font-weight="bold" class="s" font-family='"Liberation Serif", "Times New Roman", serif' textLength="21.80" lengthAdjust="spacingAndGlyphs" >28.15%</text>
<text x="395.40" y="119.21" font-size="4.5" text-anchor="middle" fill="#000" font-weight="bold" class="s" font-family='"Liberation Serif", "Times New Roman", serif' textLength="19.20" lengthAdjust="spacingAndGlyphs" >(23.1±8.1)</text>
<text x="472.70" y="112.91" font-size="7.0" text-anchor="middle" fill="#000" font-weight="bold" class="s" font-family='"Liberation Serif", "Times New Roman", serif' textLength="21.60" lengthAdjust="spacingAndGlyphs" >52.81%</text>
<text x="473.00" y="118.31" font-size="4.5" text-anchor="middle" fill="#000" font-weight="bold" class="s" font-family='"Liberation Serif", "Times New Roman", serif' textLength="24.90" lengthAdjust="spacingAndGlyphs" >(41.96±0.08)</text>
<text x="308.10" y="169.82" font-size="6.2" text-anchor="middle" fill="#000" font-weight="bold" textLength="58.50" lengthAdjust="spacingAndGlyphs" >1 week post vaccine</text>
<text x="382.80" y="169.82" font-size="6.2" text-anchor="middle" fill="#000" font-weight="bold" textLength="58.40" lengthAdjust="spacingAndGlyphs" >1 week post vaccine</text>
<text x="466.00" y="169.62" font-size="6.2" text-anchor="middle" fill="#000" font-weight="bold" textLength="62.00" lengthAdjust="spacingAndGlyphs" >4 weeks post vaccine</text>
<polygon fill="none" stroke="#111" stroke-width="0.75" points="311.3,65.0 321.7,58.3 330.3,61.8 325.8,67.0 312.8,74.2"/>
<polygon fill="none" stroke="#111" stroke-width="0.75" points="386.0,66.0 396.6,58.5 406.0,62.0 401.2,67.5 387.5,74.8"/>
<polygon fill="none" stroke="#111" stroke-width="0.75" points="457.1,75.4 460.4,64.6 469.8,57.9 483.5,62.2 469.8,73.6"/>
<polygon fill="none" stroke="#111" stroke-width="0.75" points="311.3,130.2 321.5,124.1 330.2,127.2 325.3,133.0 312.5,138.7"/>
<polygon fill="none" stroke="#111" stroke-width="0.75" points="387.5,130.2 398.3,123.6 406.9,127.2 402.5,133.0 388.2,138.3"/>
<polygon fill="none" stroke="#111" stroke-width="0.75" points="457.4,137.1 463.0,126.4 473.7,120.6 484.4,125.8 470.4,137.1"/>
<path d="M323.7 71.1h0.75M323.9 70.4h0.75M323.2 71.6h0.75M322.3 72.8h0.75M324.2 72.9h0.75M321.4 72.5h0.75M322.5 70.1h0.75M324.7 67.8h0.75M321.9 71.4h0.75M323.1 72.6h0.75M324.8 70.4h0.75M323.3 69.8h0.75M322.7 70.1h0.75M321.9 72.7h0.75M324.4 71.7h0.75M322.5 68.2h0.75M321.9 74.0h0.75M322.1 71.4h0.75M321.5 75.4h0.75M320.9 73.1h0.75M320.7 74.6h0.75M322.1 70.7h0.75M321.0 73.1h0.75M324.9 71.1h0.75M324.3 71.1h0.75M323.0 71.2h0.75M319.3 75.7h0.75M321.4 71.2h0.75M323.2 70.9h0.75M323.6 70.8h0.75M321.2 74.1h0.75M322.7 71.9h0.75M321.3 72.5h0.75M322.3 72.6h0.75M325.0 68.8h0.75M323.2 73.3h0.75M324.8 72.0h0.75M324.7 69.1h0.75M322.1 71.8h0.75M323.3 71.2h0.75M323.2 70.5h0.75M323.1 70.5h0.75M321.7 73.5h0.75M322.9 70.3h0.75M325.9 68.5h0.75M321.2 74.1h0.75M324.9 69.4h0.75M323.5 70.7h0.75M322.1 72.0h0.75M325.7 66.4h0.75M324.4 69.3h0.75M321.4 73.2h0.75M323.8 71.0h0.75M324.3 69.8h0.75M322.3 70.7h0.75M324.5 69.6h0.75M322.5 70.5h0.75M324.0 69.3h0.75M325.4 67.9h0.75M321.1 71.4h0.75M323.9 70.6h0.75M322.9 72.0h0.75M323.6 70.7h0.75M321.5 73.2h0.75M322.4 72.0h0.75M322.5 70.9h0.75M324.6 69.0h0.75M324.8 68.4h0.75M321.7 73.8h0.75M321.5 72.0h0.75M324.6 69.8h0.75M320.7 75.2h0.75M322.7 71.9h0.75M323.1 71.0h0.75M325.7 68.7h0.75M323.3 68.8h0.75M323.4 71.9h0.75M323.1 71.9h0.75M323.3 71.7h0.75M326.0 68.1h0.75M322.4 71.6h0.75M322.9 71.5h0.75M324.4 70.6h0.75M323.6 71.5h0.75M323.4 71.5h0.75M320.8 72.5h0.75M323.9 71.3h0.75M323.7 72.5h0.75M325.9 69.1h0.75M324.6 69.8h0.75M322.4 70.3h0.75M325.1 70.1h0.75M322.9 71.6h0.75M323.2 67.6h0.75M323.8 71.2h0.75M323.3 69.1h0.75M320.7 73.0h0.75M323.6 70.0h0.75M322.0 75.1h0.75M320.3 75.0h0.75M323.3 71.8h0.75M323.4 73.7h0.75M324.8 71.4h0.75M326.6 66.4h0.75M322.1 72.6h0.75M321.7 71.7h0.75M323.3 70.2h0.75M324.5 70.2h0.75M323.5 71.6h0.75M323.3 71.5h0.75M325.2 70.0h0.75M323.7 69.6h0.75M322.0 73.1h0.75M323.9 71.5h0.75M324.0 71.2h0.75M322.7 73.7h0.75M324.1 70.7h0.75M322.1 72.6h0.75M325.1 69.2h0.75M323.1 70.1h0.75M322.5 70.0h0.75M323.1 72.5h0.75M323.3 71.2h0.75M320.9 75.2h0.75M320.7 72.5h0.75M323.8 70.1h0.75M320.0 75.1h0.75M324.1 68.8h0.75M319.4 73.5h0.75M324.4 69.3h0.75M322.9 73.2h0.75M324.9 69.6h0.75M323.3 70.4h0.75M321.3 74.1h0.75M325.8 68.8h0.75M323.6 66.7h0.75M323.3 71.1h0.75M323.5 71.8h0.75M323.7 71.7h0.75M323.3 73.8h0.75M325.9 69.3h0.75M322.9 72.3h0.75M323.6 71.3h0.75M322.9 73.0h0.75M322.2 72.0h0.75M321.6 73.6h0.75M325.9 68.9h0.75M324.6 72.3h0.75M324.8 68.9h0.75M323.5 70.9h0.75M322.6 72.5h0.75M324.0 72.3h0.75M322.7 72.1h0.75M324.5 71.7h0.75M322.3 71.3h0.75M322.9 71.5h0.75M321.4 73.7h0.75M322.9 73.0h0.75M326.6 68.1h0.75M321.5 71.6h0.75M321.4 72.7h0.75M324.2 70.5h0.75M325.1 67.8h0.75M320.4 73.2h0.75M323.9 71.9h0.75M322.9 72.5h0.75M321.3 74.8h0.75M324.2 69.3h0.75M324.2 71.5h0.75M323.4 70.7h0.75M323.2 73.1h0.75M323.5 69.6h0.75M322.1 71.7h0.75M323.4 71.4h0.75M321.4 72.9h0.75M322.2 73.8h0.75M325.6 68.4h0.75M322.1 71.6h0.75M324.0 70.4h0.75M323.2 70.9h0.75M323.5 72.3h0.75M322.3 71.7h0.75M324.1 69.5h0.75M323.9 72.2h0.75M324.8 72.4h0.75M324.9 71.9h0.75M325.2 68.6h0.75M324.6 69.7h0.75M325.1 71.0h0.75M322.6 72.1h0.75M320.8 73.4h0.75M324.9 69.1h0.75M325.2 69.2h0.75M322.7 70.9h0.75M323.1 69.1h0.75M323.6 68.7h0.75M325.2 69.6h0.75M324.3 68.7h0.75M322.7 71.9h0.75M325.8 68.0h0.75M322.1 73.9h0.75M324.5 69.1h0.75M324.6 70.2h0.75M324.1 68.8h0.75M325.9 67.0h0.75M324.9 67.5h0.75M322.6 73.9h0.75M321.1 74.4h0.75M324.2 69.0h0.75M321.8 72.9h0.75M323.3 70.9h0.75M325.2 69.6h0.75M320.0 73.6h0.75M319.8 74.8h0.75M323.6 70.3h0.75M325.3 72.1h0.75M323.8 72.0h0.75M323.5 70.9h0.75M322.8 73.1h0.75M322.8 75.1h0.75M323.1 71.2h0.75M321.9 72.8h0.75M322.0 75.0h0.75M324.6 70.2h0.75M323.9 71.5h0.75M323.7 69.9h0.75M323.4 74.0h0.75M323.7 73.2h0.75M322.5 73.3h0.75M322.7 73.1h0.75M322.4 69.6h0.75M322.8 72.9h0.75M323.9 70.2h0.75M324.3 70.5h0.75M326.9 67.2h0.75M321.3 73.7h0.75M323.6 68.4h0.75M323.6 71.4h0.75M323.0 70.7h0.75M321.2 73.8h0.75M322.4 71.6h0.75M324.3 69.3h0.75M321.8 70.0h0.75M324.5 71.4h0.75M323.3 71.7h0.75M325.9 69.2h0.75M324.8 72.0h0.75M320.4 75.5h0.75M321.3 71.5h0.75M320.1 74.6h0.75M318.0 77.1h0.75M322.4 71.8h0.75M325.5 68.3h0.75M322.2 69.9h0.75M322.1 73.6h0.75M321.1 72.2h0.75M325.3 68.8h0.75M323.6 70.6h0.75M323.4 70.7h0.75M323.4 71.1h0.75M323.2 70.7h0.75M324.2 69.1h0.75M323.1 69.0h0.75M323.8 70.5h0.75M323.3 74.0h0.75M325.6 70.9h0.75M323.4 73.0h0.75M325.6 69.1h0.75M321.2 73.3h0.75M324.3 72.0h0.75M323.5 71.0h0.75M321.6 73.7h0.75M325.8 67.3h0.75M325.7 68.1h0.75M322.5 71.7h0.75M324.5 69.4h0.75M323.3 69.7h0.75M319.5 76.2h0.75M325.4 71.6h0.75M323.4 71.1h0.75M323.5 70.7h0.75M322.3 73.5h0.75M323.6 71.9h0.75M322.5 70.8h0.75M325.1 68.5h0.75M324.6 70.8h0.75M323.7 71.1h0.75M325.8 67.9h0.75M323.8 72.9h0.75M322.5 71.5h0.75M321.0 74.8h0.75M325.4 67.5h0.75M325.9 69.8h0.75M323.5 68.2h0.75M324.0 69.3h0.75M323.3 70.5h0.75M324.3 70.9h0.75M323.6 71.8h0.75M324.2 72.1h0.75M322.5 70.1h0.75M326.2 68.3h0.75M324.1 69.7h0.75M323.0 70.8h0.75M323.0 72.4h0.75M321.9 71.9h0.75M324.4 66.7h0.75M324.0 69.8h0.75M322.6 70.1h0.75M322.6 71.4h0.75M322.2 73.5h0.75M323.6 71.3h0.75M325.9 70.0h0.75M322.8 71.7h0.75M322.1 70.7h0.75M322.7 71.1h0.75M323.0 70.3h0.75M320.4 73.7h0.75M323.5 71.7h0.75M321.8 72.4h0.75M323.4 68.2h0.75M322.9 72.9h0.75M324.2 69.8h0.75M325.9 68.1h0.75M323.1 71.7h0.75M323.1 72.5h0.75M323.8 70.6h0.75M324.4 71.6h0.75M322.4 73.2h0.75M324.4 70.2h0.75M326.7 67.1h0.75M322.1 70.8h0.75M323.1 71.3h0.75M321.8 73.0h0.75M324.1 70.4h0.75M320.8 72.9h0.75M323.1 74.1h0.75M325.4 68.4h0.75M321.4 72.3h0.75M323.9 68.0h0.75M325.5 67.7h0.75M323.8 70.4h0.75M323.8 69.5h0.75M326.4 67.0h0.75M322.8 71.1h0.75M323.0 72.5h0.75M321.1 73.4h0.75M323.5 70.9h0.75M326.3 68.4h0.75M326.7 70.3h0.75M321.4 72.4h0.75M322.0 72.5h0.75M322.2 71.6h0.75M324.5 70.8h0.75M322.4 70.9h0.75M323.5 70.3h0.75M323.9 70.4h0.75M322.4 71.1h0.75M322.8 70.6h0.75M323.5 70.3h0.75M321.9 70.1h0.75M323.2 69.3h0.75M325.9 67.0h0.75M324.5 69.9h0.75M323.5 70.8h0.75M319.8 73.6h0.75M323.7 70.0h0.75M321.3 75.4h0.75M321.9 74.2h0.75M324.7 69.2h0.75M323.9 69.1h0.75M323.7 71.6h0.75M320.6 74.2h0.75M322.2 71.2h0.75M322.0 72.0h0.75M325.4 70.4h0.75M326.9 66.5h0.75M324.6 71.1h0.75M322.0 72.4h0.75M322.5 73.9h0.75M323.0 70.8h0.75M323.1 71.3h0.75M323.6 74.6h0.75M324.2 71.1h0.75M321.5 73.1h0.75M325.0 68.7h0.75M325.3 69.0h0.75M325.9 69.4h0.75M322.5 71.7h0.75M323.0 69.1h0.75M323.1 71.1h0.75M323.0 71.8h0.75M323.1 71.7h0.75M322.6 74.3h0.75M321.7 74.1h0.75M325.2 69.8h0.75M322.5 70.9h0.75M324.4 71.0h0.75M326.4 70.0h0.75M321.6 74.9h0.75M322.6 72.7h0.75M323.9 70.7h0.75M325.3 71.1h0.75M322.3 71.3h0.75M324.9 68.8h0.75M324.1 70.8h0.75M322.3 73.8h0.75M321.9 72.7h0.75M324.9 69.5h0.75M324.0 69.9h0.75M320.9 74.9h0.75M325.3 68.2h0.75M323.6 69.2h0.75M325.4 68.2h0.75M323.6 72.2h0.75M322.4 71.1h0.75M321.7 73.2h0.75M327.6 66.1h0.75M322.5 70.8h0.75M325.9 67.8h0.75M321.8 71.8h0.75M324.5 71.2h0.75M322.7 75.6h0.75M324.4 72.8h0.75M324.8 68.9h0.75M322.2 73.9h0.75M325.1 68.9h0.75M324.1 70.4h0.75M323.1 73.9h0.75M321.9 71.4h0.75M323.6 72.5h0.75M323.4 71.1h0.75M323.7 72.8h0.75M322.4 72.8h0.75M322.6 71.3h0.75M322.2 73.2h0.75M322.2 74.0h0.75M323.5 71.1h0.75M325.1 69.4h0.75M320.9 73.9h0.75M322.0 70.0h0.75M323.2 72.8h0.75M322.6 73.3h0.75M324.8 69.3h0.75M322.8 72.1h0.75M326.4 68.4h0.75M322.1 72.4h0.75M323.6 69.9h0.75M323.0 71.4h0.75M323.2 73.1h0.75M323.4 69.1h0.75M324.1 71.9h0.75M323.9 69.5h0.75M322.7 70.6h0.75M322.8 73.8h0.75M323.3 71.2h0.75M322.7 70.3h0.75M324.6 68.9h0.75M322.8 73.3h0.75M324.3 71.7h0.75M320.7 74.3h0.75M324.7 69.9h0.75M322.4 73.6h0.75M320.5 74.4h0.75M323.7 71.3h0.75M325.1 68.7h0.75M320.9 73.9h0.75M321.6 73.0h0.75M322.5 72.6h0.75M321.9 73.3h0.75M323.7 69.9h0.75M322.0 72.4h0.75M323.2 73.0h0.75M324.5 69.9h0.75M323.0 73.0h0.75M325.0 70.7h0.75M322.5 73.3h0.75M323.3 74.6h0.75M320.3 74.4h0.75M326.7 67.6h0.75M322.8 71.5h0.75" stroke="#000" stroke-width="0.75" stroke-opacity="0.95" fill="none"/>
<path d="M320.4 73.9h0.75M320.9 74.8h0.75M315.5 82.6h0.75M317.3 80.8h0.75M319.8 77.4h0.75M319.6 76.8h0.75M320.7 77.7h0.75M316.6 77.4h0.75M319.3 77.6h0.75M318.9 76.8h0.75M318.6 78.8h0.75M320.3 76.6h0.75M314.4 82.8h0.75M319.0 76.8h0.75M317.8 81.3h0.75M320.3 76.8h0.75M317.6 78.7h0.75M319.1 81.8h0.75M321.2 79.3h0.75M315.9 79.6h0.75M317.5 80.7h0.75M318.5 83.5h0.75M319.3 79.2h0.75M319.5 77.7h0.75M319.9 76.3h0.75M317.9 78.6h0.75M320.0 76.2h0.75M318.1 78.2h0.75M319.1 79.3h0.75M319.1 77.1h0.75M319.8 76.1h0.75M317.0 78.6h0.75M318.2 79.1h0.75M317.6 78.4h0.75M318.6 78.3h0.75M318.2 81.2h0.75M320.5 76.6h0.75M318.5 79.8h0.75M319.6 77.8h0.75M317.4 80.4h0.75M319.0 77.8h0.75M318.9 77.6h0.75M318.7 80.0h0.75M320.6 73.6h0.75M320.4 78.7h0.75M321.3 74.8h0.75M319.4 76.1h0.75M317.2 79.7h0.75M317.4 79.0h0.75M319.4 77.8h0.75M318.0 78.0h0.75M319.7 79.2h0.75M317.5 78.7h0.75M313.9 81.0h0.75M317.6 78.6h0.75M313.5 82.1h0.75M319.1 77.8h0.75M318.5 80.8h0.75M318.1 80.5h0.75M317.1 78.2h0.75M318.3 77.5h0.75M318.1 82.8h0.75M316.3 82.5h0.75M317.0 80.9h0.75M316.5 83.6h0.75M319.4 82.2h0.75M322.1 76.0h0.75M317.1 80.9h0.75M319.9 77.4h0.75M317.1 81.9h0.75M318.5 77.6h0.75M317.2 78.6h0.75M318.6 78.8h0.75M318.6 76.8h0.75M321.2 74.8h0.75M319.0 78.2h0.75M320.9 79.8h0.75M316.4 80.1h0.75M319.4 77.3h0.75M318.1 79.0h0.75M320.2 77.1h0.75M319.5 79.4h0.75M320.8 74.6h0.75M314.9 82.3h0.75M316.7 78.2h0.75M319.1 76.1h0.75M318.6 79.7h0.75M317.5 80.3h0.75M317.3 78.5h0.75M316.2 81.3h0.75M318.8 78.4h0.75M322.7 73.7h0.75M319.8 75.8h0.75M316.7 80.8h0.75M315.7 79.3h0.75M317.0 78.7h0.75M321.6 77.5h0.75M315.4 79.0h0.75M317.3 79.9h0.75M320.1 76.9h0.75M319.6 76.5h0.75M317.3 78.9h0.75M316.9 80.9h0.75M316.3 81.9h0.75M317.5 80.0h0.75M313.6 82.2h0.75M319.6 76.9h0.75M316.9 79.4h0.75M318.8 77.2h0.75M321.6 74.8h0.75M320.9 76.5h0.75M317.7 81.6h0.75M319.4 76.4h0.75M321.2 76.7h0.75M318.5 80.9h0.75M318.2 81.3h0.75M319.7 79.7h0.75M316.1 81.9h0.75M320.6 75.4h0.75" stroke="#000" stroke-width="0.75" stroke-opacity="0.8" fill="none"/>
<path d="M315.7 81.4h0.75M318.2 79.2h0.75M314.4 81.8h0.75M317.3 80.8h0.75M320.9 81.9h0.75M324.1 81.5h0.75M324.7 82.2h0.75M320.4 81.1h0.75M319.5 79.1h0.75M317.3 79.9h0.75M322.2 81.1h0.75M320.0 81.8h0.75M323.4 82.8h0.75M326.8 79.6h0.75M321.0 82.7h0.75M317.6 81.5h0.75M314.5 78.4h0.75M315.6 78.8h0.75M324.2 75.9h0.75M322.2 83.6h0.75M314.7 79.8h0.75M323.5 82.4h0.75M325.2 80.4h0.75M318.7 83.2h0.75M319.3 80.4h0.75M321.4 79.6h0.75M322.8 79.9h0.75M324.7 79.6h0.75M324.4 78.0h0.75M324.6 79.1h0.75M326.2 82.6h0.75M321.8 75.9h0.75M315.3 82.3h0.75M319.5 78.4h0.75M321.7 80.4h0.75M319.7 82.5h0.75M323.6 79.3h0.75M319.7 82.4h0.75M316.3 77.6h0.75M326.2 81.4h0.75M322.5 78.3h0.75M321.6 81.5h0.75M323.8 79.8h0.75M322.7 73.6h0.75M321.2 78.3h0.75M312.1 83.1h0.75M319.1 81.4h0.75M317.2 81.8h0.75M320.3 77.0h0.75M325.5 82.4h0.75M316.6 81.4h0.75M327.4 77.9h0.75M318.0 77.1h0.75M316.7 83.4h0.75M322.4 81.5h0.75M323.6 80.8h0.75M318.2 78.6h0.75M320.4 77.4h0.75M323.1 79.1h0.75M318.5 81.5h0.75M322.2 82.0h0.75" stroke="#000" stroke-width="0.75" stroke-opacity="0.55" fill="none"/>
<path d="M400.0 69.8h0.75M398.6 68.9h0.75M398.6 72.4h0.75M397.9 73.5h0.75M398.6 69.9h0.75M397.4 71.4h0.75M397.1 73.1h0.75M397.1 72.9h0.75M397.5 70.8h0.75M396.6 74.4h0.75M395.5 72.1h0.75M396.3 73.4h0.75M398.9 69.7h0.75M399.3 69.3h0.75M402.0 66.3h0.75M395.9 72.8h0.75M398.3 72.0h0.75M400.1 68.3h0.75M398.1 70.4h0.75M397.5 70.3h0.75M400.5 66.2h0.75M398.7 71.2h0.75M396.6 72.2h0.75M397.1 73.0h0.75M400.1 70.1h0.75M400.1 70.2h0.75M398.0 73.9h0.75M397.3 72.2h0.75M398.9 68.7h0.75M400.4 69.6h0.75M398.2 71.8h0.75M400.6 69.6h0.75M399.7 69.1h0.75M397.2 74.5h0.75M399.0 71.4h0.75M400.0 69.8h0.75M398.4 71.7h0.75M396.1 74.9h0.75M398.7 71.0h0.75M400.1 68.9h0.75M401.9 67.5h0.75M395.4 74.5h0.75M403.9 65.8h0.75M397.2 72.6h0.75M401.0 68.8h0.75M400.6 67.7h0.75M400.1 68.2h0.75M400.5 71.0h0.75M397.0 72.5h0.75M398.9 68.4h0.75M397.4 71.4h0.75M395.1 75.3h0.75M404.5 65.6h0.75M400.1 69.0h0.75M402.2 67.0h0.75M396.9 71.7h0.75M401.2 67.5h0.75M401.6 67.4h0.75M402.4 68.0h0.75M398.4 70.0h0.75M397.6 73.1h0.75M398.9 70.8h0.75M395.0 74.3h0.75M396.4 73.8h0.75M398.8 70.0h0.75M395.9 71.2h0.75M399.1 70.9h0.75M399.1 70.8h0.75M401.4 66.1h0.75M399.8 67.0h0.75M399.9 71.1h0.75M400.8 68.0h0.75M398.5 72.4h0.75M399.4 71.7h0.75M399.8 68.2h0.75M397.7 73.2h0.75M398.3 70.8h0.75M397.0 73.0h0.75M399.0 70.0h0.75M401.2 67.0h0.75M398.6 72.4h0.75M399.3 69.9h0.75M397.5 72.1h0.75M397.1 72.5h0.75M397.4 73.0h0.75M400.4 66.9h0.75M401.9 65.2h0.75M399.6 69.3h0.75M397.5 71.5h0.75M399.8 68.8h0.75M398.0 70.7h0.75M401.4 69.6h0.75M400.2 70.4h0.75M399.6 69.9h0.75M399.7 69.0h0.75M399.6 72.6h0.75M398.5 71.3h0.75M396.4 73.8h0.75M398.5 71.4h0.75M397.1 73.4h0.75M399.7 71.3h0.75M397.5 72.3h0.75M400.5 71.1h0.75M398.9 68.9h0.75M397.3 73.5h0.75M397.0 71.5h0.75M398.8 73.1h0.75M399.7 68.6h0.75M401.3 66.8h0.75M400.8 69.0h0.75M399.3 71.6h0.75M400.2 66.8h0.75M396.5 73.2h0.75M400.1 66.5h0.75M398.1 71.7h0.75M394.8 75.9h0.75M402.5 64.7h0.75M400.7 66.7h0.75M397.2 72.2h0.75M398.6 69.6h0.75M399.0 71.0h0.75M400.1 70.8h0.75M395.4 72.4h0.75M397.8 71.6h0.75M399.3 69.1h0.75M399.6 70.1h0.75M400.0 67.4h0.75M398.9 70.1h0.75M401.5 65.0h0.75M398.4 72.1h0.75M399.3 69.8h0.75M396.0 74.1h0.75M397.4 73.0h0.75M400.6 67.5h0.75M396.5 71.5h0.75M400.1 69.5h0.75M399.0 70.6h0.75M397.3 72.4h0.75M399.1 71.5h0.75M399.0 71.9h0.75M397.4 70.8h0.75M399.4 68.4h0.75M400.9 69.7h0.75M399.1 72.2h0.75M397.1 71.8h0.75M398.5 69.1h0.75M398.3 70.2h0.75M400.0 68.0h0.75M401.6 64.1h0.75M400.1 68.6h0.75M398.0 69.7h0.75M397.8 70.1h0.75M398.3 72.5h0.75M397.1 71.8h0.75M397.4 72.3h0.75M398.8 71.4h0.75M398.9 71.6h0.75M399.7 68.6h0.75M398.4 71.1h0.75M398.0 70.3h0.75M398.4 73.6h0.75M401.7 67.2h0.75M398.9 68.7h0.75M401.5 66.6h0.75M400.5 69.0h0.75M401.4 67.5h0.75M399.8 71.7h0.75M400.9 69.5h0.75M402.4 64.5h0.75M397.1 72.8h0.75M399.7 67.3h0.75M401.5 66.9h0.75M399.6 69.5h0.75M401.9 70.1h0.75M400.8 67.7h0.75M396.5 70.7h0.75M399.0 69.1h0.75M397.7 72.2h0.75M397.0 71.1h0.75M397.4 71.2h0.75M398.4 70.4h0.75M399.4 70.2h0.75M399.4 69.3h0.75M396.2 72.8h0.75M402.4 66.5h0.75M400.2 67.6h0.75M399.6 68.5h0.75M397.4 70.4h0.75M398.2 70.1h0.75M400.2 69.5h0.75M398.4 68.6h0.75M396.4 73.8h0.75M400.5 69.1h0.75M402.9 64.0h0.75M396.4 74.3h0.75M399.6 67.7h0.75M400.4 70.2h0.75M399.5 71.1h0.75M401.1 67.5h0.75M395.9 71.9h0.75M398.4 69.4h0.75M401.7 67.7h0.75M399.8 71.5h0.75M398.5 71.3h0.75M399.9 70.7h0.75M397.8 70.9h0.75M401.0 67.0h0.75M397.6 72.2h0.75M400.5 68.7h0.75M396.0 72.2h0.75M400.5 69.4h0.75M399.7 71.2h0.75M394.3 75.2h0.75M397.9 69.7h0.75M397.6 72.7h0.75M397.8 70.9h0.75M399.5 65.9h0.75M397.8 73.0h0.75M397.4 72.6h0.75M400.7 67.0h0.75M400.5 71.1h0.75M401.3 67.1h0.75M398.9 69.3h0.75M397.7 72.2h0.75M398.1 69.9h0.75M400.2 67.3h0.75M400.6 68.5h0.75M398.5 70.0h0.75M398.7 70.0h0.75M399.9 71.4h0.75M398.6 71.9h0.75M402.3 66.6h0.75M399.3 70.5h0.75M397.6 72.9h0.75M399.2 72.0h0.75M400.0 68.8h0.75M401.1 69.9h0.75M398.0 70.1h0.75M397.7 71.6h0.75M398.0 69.6h0.75M396.2 73.7h0.75M397.3 73.3h0.75M401.1 69.3h0.75M397.7 71.0h0.75M399.5 69.5h0.75M400.4 67.6h0.75M399.3 68.6h0.75M398.1 69.7h0.75M402.1 65.8h0.75M398.7 68.0h0.75M398.5 71.1h0.75M400.0 68.8h0.75M399.0 69.1h0.75M396.9 71.6h0.75M398.0 69.5h0.75M400.0 71.6h0.75M395.1 73.8h0.75M399.7 71.4h0.75M398.9 71.2h0.75M398.0 71.0h0.75M395.7 73.2h0.75M399.1 71.6h0.75M400.0 71.2h0.75M398.4 69.6h0.75M397.0 72.5h0.75M400.6 69.5h0.75M397.3 73.0h0.75M400.0 71.7h0.75M400.4 67.3h0.75M398.3 72.0h0.75M397.3 70.8h0.75M401.9 69.1h0.75M397.8 70.8h0.75M396.9 69.8h0.75M399.1 69.8h0.75M400.3 68.0h0.75M397.0 75.9h0.75M397.4 71.9h0.75M397.4 72.4h0.75M397.7 72.9h0.75M398.7 72.9h0.75M397.6 72.0h0.75M400.1 70.2h0.75M398.0 72.4h0.75M398.9 69.9h0.75M399.5 69.5h0.75M397.8 71.8h0.75M398.5 69.6h0.75M402.2 67.5h0.75M398.4 68.9h0.75M398.8 72.2h0.75M399.5 70.9h0.75M397.5 72.2h0.75M398.8 69.4h0.75M400.0 68.4h0.75M398.0 72.2h0.75M399.1 71.1h0.75M400.7 68.1h0.75M398.9 71.8h0.75M398.8 69.6h0.75M397.6 72.6h0.75M396.6 71.2h0.75M398.7 71.7h0.75M402.1 65.9h0.75M398.0 70.9h0.75M398.9 72.0h0.75M398.6 71.8h0.75M396.7 69.3h0.75M399.9 69.0h0.75M398.2 69.2h0.75M402.6 66.6h0.75M400.9 71.1h0.75M400.6 67.1h0.75M399.3 69.8h0.75M399.6 68.9h0.75M397.1 73.4h0.75M399.2 70.9h0.75M399.7 71.1h0.75M397.9 70.3h0.75M396.9 75.5h0.75M399.5 68.0h0.75M398.5 71.2h0.75M399.1 71.8h0.75M399.0 71.2h0.75M397.9 70.3h0.75M399.0 69.1h0.75M396.8 72.7h0.75M397.5 72.2h0.75M400.1 70.3h0.75M398.2 69.4h0.75M398.7 71.3h0.75M398.5 71.8h0.75M398.1 72.3h0.75M399.1 70.6h0.75M401.7 68.6h0.75M397.7 72.7h0.75M401.7 67.6h0.75M400.5 68.8h0.75M399.5 72.1h0.75M398.7 67.8h0.75M397.7 73.9h0.75M396.2 73.7h0.75M396.9 72.8h0.75M397.6 70.7h0.75M397.1 70.1h0.75M397.9 71.2h0.75M398.6 69.8h0.75M396.2 74.9h0.75M398.6 68.6h0.75M397.9 73.9h0.75M398.1 71.8h0.75M398.1 71.0h0.75M396.7 72.3h0.75M396.4 72.7h0.75M396.7 71.8h0.75M398.5 70.1h0.75M399.8 69.1h0.75M399.6 69.1h0.75M396.5 71.6h0.75M397.6 71.8h0.75M397.0 71.7h0.75M399.7 69.5h0.75M397.3 75.4h0.75M401.1 68.1h0.75M398.0 71.1h0.75M396.6 71.1h0.75M398.4 68.9h0.75M399.2 67.4h0.75M399.9 70.0h0.75M399.9 67.8h0.75M399.1 70.1h0.75M400.2 67.5h0.75M400.7 67.8h0.75M399.7 71.2h0.75M400.5 67.0h0.75M398.9 69.8h0.75M398.5 69.7h0.75M398.2 72.6h0.75M397.8 70.4h0.75M399.2 68.2h0.75M396.1 72.3h0.75M398.9 68.3h0.75M399.7 69.8h0.75M401.1 71.0h0.75M395.0 74.3h0.75M399.4 71.0h0.75M400.0 69.1h0.75M397.0 71.3h0.75M398.8 70.0h0.75M395.3 75.1h0.75M399.4 68.6h0.75M399.3 72.6h0.75M398.8 67.6h0.75M396.5 74.3h0.75M400.1 69.0h0.75M398.2 70.5h0.75M400.2 68.7h0.75M398.2 72.6h0.75M398.1 71.6h0.75M402.4 65.9h0.75M398.2 72.3h0.75M396.5 70.8h0.75M399.5 71.6h0.75M399.0 73.5h0.75M401.3 68.3h0.75M402.1 67.3h0.75M396.9 71.1h0.75M396.3 73.8h0.75M400.0 67.5h0.75M400.1 67.7h0.75M400.8 69.1h0.75M400.0 67.5h0.75M397.6 72.0h0.75M397.3 69.7h0.75M396.8 73.1h0.75M396.9 73.2h0.75M399.8 67.9h0.75M397.4 71.3h0.75M403.5 66.6h0.75M398.2 69.6h0.75M397.3 71.1h0.75M399.5 68.3h0.75M402.3 67.2h0.75M401.1 70.3h0.75M397.4 73.0h0.75M398.9 69.2h0.75M400.6 67.3h0.75M398.9 71.8h0.75M397.2 71.4h0.75M401.4 68.9h0.75M400.1 70.7h0.75M397.4 72.6h0.75M398.8 71.4h0.75M398.3 72.2h0.75M400.4 70.5h0.75M398.3 69.6h0.75M401.4 68.5h0.75M399.7 68.7h0.75M396.1 73.1h0.75M399.6 69.5h0.75M400.0 68.4h0.75M398.9 68.9h0.75M399.3 67.4h0.75M397.5 71.0h0.75M398.5 73.0h0.75M401.6 69.4h0.75M397.8 72.8h0.75M396.6 75.3h0.75M400.0 67.9h0.75M397.8 71.7h0.75M398.7 71.1h0.75M396.1 72.6h0.75M396.3 72.5h0.75M397.3 72.7h0.75M398.2 70.9h0.75M398.7 69.0h0.75M395.9 75.2h0.75M399.8 68.6h0.75M397.9 73.2h0.75M397.4 72.5h0.75M399.7 68.8h0.75M398.9 70.5h0.75M396.6 73.4h0.75M401.1 66.2h0.75M397.4 71.9h0.75M399.8 70.2h0.75M399.6 70.2h0.75M401.8 68.0h0.75M397.1 70.4h0.75M400.1 68.0h0.75M397.5 71.6h0.75M400.6 68.1h0.75M397.5 71.6h0.75M398.0 70.8h0.75M402.2 66.8h0.75M399.5 69.7h0.75M398.2 69.5h0.75M403.0 66.4h0.75M400.1 70.0h0.75M397.3 71.7h0.75" stroke="#000" stroke-width="0.75" stroke-opacity="0.95" fill="none"/>
<path d="M395.4 76.7h0.75M390.4 78.1h0.75M395.6 75.9h0.75M392.8 78.2h0.75M393.9 80.8h0.75M393.0 78.8h0.75M392.0 79.3h0.75M393.9 77.7h0.75M394.2 77.9h0.75M393.3 77.8h0.75M392.9 79.4h0.75M393.7 77.9h0.75M391.7 82.7h0.75M395.9 78.9h0.75M396.1 76.2h0.75M394.5 77.8h0.75M394.3 79.8h0.75M394.5 79.2h0.75M395.1 79.5h0.75M394.0 80.1h0.75M392.8 79.4h0.75M392.7 80.3h0.75M395.7 75.8h0.75M394.0 78.4h0.75M395.4 76.3h0.75M392.7 78.2h0.75M392.0 76.7h0.75M392.9 78.1h0.75M392.7 75.9h0.75M395.1 76.5h0.75M394.2 77.7h0.75M391.3 78.6h0.75M393.3 80.3h0.75M397.1 75.2h0.75M393.5 78.9h0.75M394.9 79.9h0.75M397.7 76.3h0.75M394.3 75.1h0.75M395.5 77.7h0.75M393.6 79.3h0.75M397.7 73.5h0.75M395.2 78.0h0.75M394.0 76.6h0.75M393.0 78.2h0.75M390.9 80.7h0.75M391.1 80.6h0.75M394.3 77.3h0.75M393.1 76.4h0.75M392.5 78.1h0.75M392.6 81.1h0.75M391.6 81.2h0.75M393.7 79.1h0.75M389.9 80.1h0.75M394.4 75.8h0.75M395.0 75.4h0.75M398.0 72.2h0.75M394.6 76.0h0.75M393.8 80.1h0.75M392.4 80.0h0.75M392.9 79.5h0.75M394.2 79.0h0.75M394.8 75.8h0.75M395.7 77.6h0.75M395.1 77.2h0.75M394.3 77.8h0.75M394.8 76.8h0.75M396.4 75.4h0.75M393.1 81.1h0.75M394.0 79.8h0.75M392.1 81.4h0.75M397.0 75.3h0.75M395.8 75.5h0.75M396.1 77.4h0.75M392.0 80.7h0.75M392.2 76.5h0.75M394.7 79.5h0.75M394.0 78.1h0.75M392.5 77.9h0.75M394.4 77.0h0.75M392.4 78.5h0.75M397.0 77.7h0.75M394.6 78.0h0.75M391.9 77.8h0.75M394.1 78.8h0.75M392.8 78.9h0.75M396.7 77.7h0.75M392.4 78.1h0.75M392.2 76.2h0.75M393.3 79.1h0.75M391.3 81.1h0.75M394.8 76.0h0.75M390.3 79.1h0.75M395.2 77.0h0.75M395.9 78.4h0.75M389.6 80.5h0.75M393.4 81.0h0.75M392.5 78.9h0.75M394.7 81.4h0.75M392.4 81.0h0.75M394.7 76.5h0.75M394.4 79.4h0.75M394.8 77.7h0.75M392.6 78.7h0.75M394.9 78.0h0.75M392.2 79.5h0.75M392.1 77.1h0.75M396.5 78.2h0.75M393.6 77.9h0.75M392.6 78.8h0.75M392.5 80.7h0.75M392.6 76.9h0.75M393.1 76.6h0.75M393.0 78.4h0.75M392.2 79.5h0.75M394.7 77.1h0.75M398.5 73.6h0.75M392.9 78.5h0.75M394.7 77.8h0.75" stroke="#000" stroke-width="0.75" stroke-opacity="0.8" fill="none"/>
<path d="M398.1 80.9h0.75M391.7 80.3h0.75M396.8 81.3h0.75M392.6 81.7h0.75M400.0 81.5h0.75M396.6 77.4h0.75M395.9 80.8h0.75M391.0 81.5h0.75M395.5 78.0h0.75M393.3 81.8h0.75M398.3 80.0h0.75M395.1 79.8h0.75M393.2 82.2h0.75M398.2 76.6h0.75M398.3 79.8h0.75M394.0 82.1h0.75M400.0 80.1h0.75M395.4 83.3h0.75M394.0 78.2h0.75M395.3 77.1h0.75M393.3 81.8h0.75M394.5 82.0h0.75M401.5 80.5h0.75M400.5 77.3h0.75M395.4 82.6h0.75M400.9 77.2h0.75M394.8 77.3h0.75M399.1 80.5h0.75M397.2 81.9h0.75M404.5 79.6h0.75M391.8 82.3h0.75M401.1 82.1h0.75M393.8 78.7h0.75M393.9 77.8h0.75M400.2 82.9h0.75M399.0 81.0h0.75M398.7 80.4h0.75M399.3 80.1h0.75M401.3 77.5h0.75M399.5 81.2h0.75M393.5 82.4h0.75M394.8 81.8h0.75M400.1 81.9h0.75M397.5 81.4h0.75M391.6 83.5h0.75M396.4 77.7h0.75M395.5 81.9h0.75M397.0 79.0h0.75M394.3 80.7h0.75M392.5 83.8h0.75M402.3 80.3h0.75M389.6 78.4h0.75M396.9 81.5h0.75M397.2 77.4h0.75M397.5 78.2h0.75M391.9 83.0h0.75M394.5 80.2h0.75M396.8 82.3h0.75M394.0 82.9h0.75M392.2 83.3h0.75M398.8 77.7h0.75M399.3 78.1h0.75" stroke="#000" stroke-width="0.75" stroke-opacity="0.55" fill="none"/>
<path d="M468.4 81.8h0.75M469.7 80.2h0.75M470.3 81.6h0.75M470.0 78.8h0.75M469.1 82.2h0.75M465.7 80.9h0.75M466.6 81.6h0.75M470.2 75.2h0.75M473.1 80.7h0.75M474.8 77.1h0.75M472.7 74.7h0.75M470.2 79.7h0.75M474.2 78.5h0.75M467.7 83.2h0.75M478.1 73.6h0.75M473.5 74.7h0.75M469.8 78.6h0.75M468.0 82.0h0.75M473.4 79.2h0.75M464.9 82.5h0.75M467.6 79.4h0.75M474.7 78.5h0.75M470.3 77.5h0.75M471.1 81.6h0.75M474.2 76.8h0.75M469.3 82.7h0.75M474.1 80.5h0.75M470.6 81.1h0.75M469.7 82.1h0.75M471.4 76.5h0.75M467.6 80.5h0.75M477.3 74.9h0.75M471.4 82.4h0.75M478.5 75.7h0.75M473.3 77.8h0.75M468.1 82.2h0.75M468.6 83.7h0.75M471.7 78.5h0.75M473.0 77.1h0.75M466.3 80.7h0.75M475.7 77.2h0.75M467.7 79.5h0.75M472.2 79.3h0.75M470.6 76.0h0.75M474.2 78.9h0.75M464.9 82.1h0.75M476.8 75.9h0.75M470.9 75.3h0.75M469.5 79.4h0.75M469.7 83.1h0.75M465.4 82.1h0.75M467.4 82.5h0.75M472.2 76.9h0.75M467.5 76.7h0.75M468.4 82.2h0.75M470.2 80.8h0.75M474.3 73.4h0.75M471.0 80.5h0.75M468.6 79.3h0.75M473.8 74.1h0.75M472.5 77.7h0.75M470.5 77.9h0.75M472.2 83.5h0.75M464.9 80.8h0.75M468.8 82.9h0.75M471.0 81.4h0.75M468.2 76.8h0.75M470.1 75.7h0.75M473.4 78.2h0.75M471.2 77.7h0.75M472.3 78.9h0.75M469.7 83.0h0.75M464.7 83.9h0.75M468.4 78.8h0.75M465.2 77.7h0.75M469.6 80.8h0.75M469.3 78.4h0.75M468.1 82.5h0.75M468.3 82.0h0.75M469.2 77.3h0.75M473.6 80.9h0.75M470.7 82.0h0.75M473.6 78.8h0.75M469.2 77.9h0.75M467.8 80.9h0.75M470.7 78.1h0.75M476.0 73.6h0.75M467.9 79.1h0.75M475.0 76.5h0.75M475.4 75.7h0.75M475.9 75.6h0.75M468.3 80.3h0.75M478.4 75.5h0.75M471.8 78.9h0.75M467.2 75.9h0.75M469.8 78.6h0.75M472.8 77.3h0.75M472.5 80.1h0.75M470.3 78.9h0.75M474.5 75.3h0.75M468.4 79.9h0.75M469.1 82.4h0.75M472.9 76.3h0.75M472.5 76.3h0.75M473.4 75.1h0.75M468.8 82.4h0.75M473.6 75.4h0.75M470.5 75.4h0.75M476.9 75.3h0.75M466.8 81.1h0.75M472.2 78.8h0.75M470.9 80.1h0.75M468.2 84.6h0.75M470.4 82.1h0.75M473.7 75.3h0.75M469.7 79.9h0.75M467.6 79.0h0.75M475.7 78.9h0.75M474.5 77.0h0.75M475.7 78.3h0.75M468.6 80.5h0.75M468.6 76.3h0.75M476.0 78.3h0.75M469.5 80.7h0.75M469.2 81.0h0.75M473.6 76.9h0.75M476.4 75.8h0.75M468.6 82.5h0.75M461.9 83.4h0.75M468.4 84.0h0.75M467.7 80.8h0.75M470.2 78.6h0.75M475.0 79.6h0.75M471.9 80.5h0.75M468.8 80.2h0.75M469.4 76.0h0.75M468.7 81.6h0.75M471.7 79.7h0.75M469.3 80.4h0.75M477.3 70.4h0.75M472.6 75.8h0.75M467.3 79.3h0.75M468.6 81.7h0.75M470.9 81.1h0.75M467.8 84.5h0.75M468.3 79.8h0.75M469.4 81.1h0.75M474.4 77.4h0.75M469.4 79.3h0.75M468.8 80.7h0.75M468.1 82.2h0.75M472.1 80.2h0.75M470.1 78.9h0.75M474.5 76.1h0.75M467.4 78.2h0.75M474.2 76.2h0.75M473.4 79.8h0.75M473.7 81.7h0.75M468.4 83.1h0.75M473.4 77.1h0.75M474.4 74.5h0.75M471.6 78.2h0.75M474.1 77.8h0.75M469.1 78.9h0.75M471.3 81.1h0.75M468.1 79.3h0.75M471.8 74.0h0.75M470.9 76.7h0.75M468.5 77.3h0.75M468.6 77.9h0.75M474.1 79.0h0.75M471.9 77.8h0.75M469.1 81.3h0.75M477.4 76.1h0.75M473.4 79.9h0.75M470.6 78.2h0.75M477.0 76.9h0.75M474.6 76.8h0.75M471.0 79.1h0.75M473.2 78.1h0.75M466.5 79.7h0.75M468.4 79.5h0.75M464.7 84.5h0.75M475.4 76.6h0.75M465.4 83.2h0.75M473.0 77.0h0.75M470.0 82.3h0.75M470.1 83.3h0.75M471.6 80.4h0.75M473.5 79.9h0.75M472.4 76.8h0.75M475.8 74.0h0.75M472.6 78.4h0.75M473.3 76.3h0.75M468.9 79.7h0.75M475.2 79.3h0.75M471.4 78.2h0.75M468.7 78.8h0.75M471.5 79.8h0.75M473.2 81.5h0.75M471.8 78.5h0.75M473.8 79.5h0.75M469.2 79.6h0.75M468.5 80.1h0.75M472.5 76.1h0.75M466.2 83.0h0.75M471.7 82.9h0.75M474.2 73.4h0.75M468.0 79.3h0.75M472.9 76.8h0.75M467.5 84.2h0.75M479.3 73.1h0.75M473.3 73.0h0.75M476.0 75.4h0.75M472.6 75.2h0.75M473.7 82.9h0.75M472.0 77.7h0.75M468.9 81.4h0.75M472.1 75.3h0.75M467.5 81.1h0.75M468.9 77.9h0.75M475.2 77.7h0.75M467.7 81.4h0.75M470.8 80.6h0.75M470.8 77.6h0.75M466.8 81.6h0.75M476.0 77.7h0.75M471.0 76.7h0.75M464.8 80.3h0.75M471.6 79.6h0.75M467.6 79.3h0.75M468.8 80.0h0.75M472.5 79.9h0.75M468.2 79.6h0.75M475.0 77.6h0.75M468.4 79.8h0.75M475.8 78.4h0.75M472.7 80.8h0.75M473.0 76.1h0.75M469.4 80.0h0.75M468.8 79.1h0.75M468.2 82.1h0.75M474.2 79.0h0.75M472.1 74.6h0.75M478.3 74.7h0.75M473.2 73.8h0.75M470.9 77.1h0.75M468.5 77.0h0.75M474.8 80.7h0.75M471.2 79.0h0.75M475.6 75.5h0.75M473.1 75.6h0.75M470.1 82.5h0.75M466.7 77.8h0.75M475.1 75.5h0.75M474.7 81.1h0.75M470.1 79.0h0.75M474.6 75.9h0.75M470.9 80.8h0.75M469.4 78.5h0.75M469.9 80.1h0.75M473.9 77.0h0.75M468.2 82.5h0.75M469.2 79.9h0.75M469.5 81.2h0.75M473.3 77.1h0.75M472.8 81.0h0.75M472.1 79.8h0.75M466.2 82.8h0.75M468.0 75.8h0.75M467.9 83.6h0.75M473.0 79.1h0.75M471.1 76.7h0.75M468.7 76.3h0.75M475.6 72.2h0.75M473.8 78.8h0.75M471.6 76.0h0.75M471.0 77.9h0.75M470.9 79.7h0.75M475.4 78.1h0.75M474.3 76.1h0.75M467.4 82.1h0.75M473.5 75.5h0.75M474.6 79.8h0.75M475.2 77.9h0.75M472.4 77.6h0.75M466.0 80.2h0.75M466.9 80.8h0.75M477.1 75.0h0.75M471.0 77.3h0.75M468.3 83.7h0.75M472.6 78.5h0.75M470.5 80.2h0.75M466.8 84.5h0.75M465.6 81.8h0.75M471.6 77.8h0.75M473.9 82.2h0.75M469.0 77.9h0.75M471.4 77.5h0.75M474.2 78.8h0.75M465.1 84.0h0.75M469.4 78.6h0.75M467.3 79.2h0.75M468.4 82.8h0.75M470.9 81.7h0.75M472.5 81.1h0.75M470.5 79.6h0.75M468.4 84.0h0.75M468.6 78.7h0.75M477.1 74.0h0.75M467.4 80.7h0.75M466.6 83.4h0.75M472.9 79.2h0.75M474.2 78.8h0.75M471.3 76.4h0.75M469.6 83.4h0.75M473.4 75.7h0.75M467.7 79.5h0.75M467.8 81.6h0.75M467.7 78.5h0.75M470.9 79.2h0.75M473.6 77.5h0.75M472.7 77.0h0.75M471.8 79.7h0.75M473.5 76.1h0.75M471.4 78.7h0.75M472.0 74.7h0.75M467.3 82.5h0.75M465.7 81.8h0.75M472.8 76.3h0.75M467.2 82.3h0.75M470.6 79.9h0.75M468.9 76.9h0.75M467.9 78.0h0.75M469.6 79.6h0.75M475.7 76.0h0.75M474.8 77.8h0.75M479.2 74.8h0.75M471.9 79.5h0.75M471.1 78.9h0.75M472.0 75.7h0.75M475.2 73.0h0.75M467.3 81.3h0.75M471.8 79.0h0.75M470.9 79.7h0.75M472.8 77.5h0.75M471.5 78.3h0.75M473.8 78.1h0.75M470.3 80.3h0.75M471.7 79.2h0.75M469.7 81.0h0.75M468.7 79.9h0.75M469.6 77.9h0.75M471.4 79.9h0.75M468.4 82.4h0.75M475.4 74.6h0.75M470.3 78.7h0.75M473.4 75.1h0.75M468.8 80.5h0.75M473.0 78.0h0.75M469.8 77.4h0.75M472.0 78.4h0.75M473.8 80.9h0.75M470.7 81.6h0.75M472.1 79.6h0.75M477.7 74.5h0.75M472.5 80.0h0.75M472.2 77.6h0.75M467.7 81.0h0.75M467.5 82.5h0.75M478.4 74.6h0.75M470.5 80.3h0.75M477.9 74.5h0.75M470.3 74.8h0.75M472.9 80.3h0.75M475.4 80.8h0.75M474.6 79.1h0.75M474.1 75.5h0.75M471.4 76.7h0.75M471.9 78.9h0.75M470.5 77.1h0.75M475.9 76.4h0.75M472.9 76.1h0.75M469.5 82.7h0.75M471.0 82.3h0.75M469.7 75.3h0.75M469.8 80.9h0.75M469.3 78.9h0.75M466.8 79.4h0.75M469.7 78.7h0.75M472.1 77.5h0.75M475.3 77.8h0.75M469.4 76.8h0.75M478.3 75.0h0.75M473.4 81.8h0.75M480.9 71.6h0.75M474.7 77.1h0.75M472.6 77.6h0.75M468.4 78.6h0.75M471.2 79.8h0.75M472.6 79.4h0.75M479.7 77.4h0.75M468.2 83.4h0.75M477.1 74.6h0.75M472.4 81.6h0.75M471.6 75.3h0.75M462.7 83.8h0.75M471.1 78.0h0.75M469.4 78.9h0.75M474.0 78.1h0.75M471.1 78.2h0.75M470.1 84.1h0.75M475.7 78.5h0.75M474.1 78.2h0.75M472.4 76.9h0.75M474.8 77.2h0.75M475.3 77.2h0.75M469.9 77.5h0.75M467.8 82.8h0.75M468.1 83.4h0.75M475.3 75.8h0.75M475.1 79.2h0.75M473.0 80.3h0.75M469.0 78.9h0.75M471.4 79.0h0.75M470.3 77.7h0.75M470.9 80.5h0.75M468.2 79.5h0.75M478.4 74.6h0.75M472.3 78.8h0.75M470.7 81.7h0.75M467.3 82.0h0.75M467.4 78.8h0.75M475.4 79.4h0.75M473.1 76.7h0.75M472.2 81.3h0.75M471.9 79.3h0.75M471.2 80.6h0.75M470.3 84.2h0.75M475.3 76.0h0.75M473.9 79.8h0.75M476.4 70.6h0.75M470.1 82.0h0.75M470.5 78.9h0.75M473.5 76.5h0.75M470.5 79.5h0.75M467.7 82.9h0.75M470.5 83.5h0.75M469.3 76.2h0.75M472.2 78.1h0.75M470.1 78.2h0.75M475.4 77.9h0.75M473.5 75.8h0.75M472.7 78.7h0.75M470.8 78.3h0.75M471.3 80.4h0.75M474.0 78.9h0.75M473.3 76.0h0.75M471.4 78.8h0.75M470.8 75.9h0.75M470.7 80.1h0.75M468.2 83.6h0.75M467.7 80.7h0.75M474.7 78.5h0.75M470.0 75.0h0.75M473.5 72.4h0.75M469.7 76.9h0.75M473.1 76.1h0.75M475.0 75.6h0.75M473.9 76.3h0.75M469.4 80.4h0.75M471.6 80.3h0.75M471.0 77.9h0.75M466.9 79.7h0.75M471.0 76.0h0.75M476.6 79.1h0.75M467.0 77.0h0.75M476.6 73.6h0.75M472.1 81.6h0.75M471.2 80.1h0.75M469.5 78.4h0.75M469.2 80.7h0.75M473.4 79.0h0.75M472.7 80.5h0.75M474.8 73.5h0.75M473.8 78.4h0.75M473.0 77.9h0.75M471.9 80.9h0.75M468.9 84.4h0.75M470.5 78.7h0.75M467.1 79.1h0.75M474.4 77.0h0.75M473.3 81.4h0.75M476.7 75.6h0.75M473.6 77.3h0.75M476.5 80.0h0.75M470.6 76.9h0.75M472.9 79.6h0.75M472.4 76.5h0.75M473.9 76.6h0.75M469.3 80.8h0.75M474.4 79.7h0.75M477.5 71.0h0.75M470.3 78.4h0.75M468.6 77.4h0.75M469.8 81.3h0.75M466.6 82.0h0.75M475.1 76.4h0.75M470.1 77.3h0.75M471.6 77.7h0.75M477.7 75.6h0.75M478.1 72.3h0.75M469.4 82.0h0.75M474.8 76.9h0.75M472.5 76.8h0.75M470.4 75.8h0.75M473.7 79.0h0.75M471.3 79.2h0.75M476.9 76.2h0.75M470.5 74.6h0.75M470.2 75.8h0.75M472.1 72.9h0.75M472.7 75.4h0.75M473.8 79.1h0.75M472.8 78.8h0.75M476.1 74.4h0.75M472.8 77.8h0.75M471.9 80.1h0.75M468.4 80.7h0.75M470.7 80.3h0.75M468.4 81.7h0.75M468.9 75.7h0.75M471.5 77.7h0.75M470.8 78.3h0.75M472.9 77.1h0.75M470.9 77.7h0.75M467.9 80.7h0.75M476.1 77.2h0.75M468.9 80.3h0.75M466.5 80.6h0.75M464.4 77.5h0.75M470.5 78.2h0.75M471.6 73.8h0.75M472.3 73.5h0.75M472.8 79.4h0.75M468.7 82.9h0.75M467.0 78.0h0.75M469.7 82.3h0.75M471.3 80.0h0.75M465.3 82.4h0.75M472.4 79.6h0.75M471.1 75.1h0.75M469.3 77.7h0.75M470.8 75.8h0.75M467.2 79.8h0.75M468.2 83.8h0.75M467.8 78.7h0.75M473.1 74.4h0.75M473.0 75.0h0.75M470.1 80.3h0.75M474.2 75.4h0.75M471.3 80.9h0.75M474.6 74.1h0.75M471.0 75.9h0.75M469.3 79.4h0.75M473.5 76.9h0.75M467.9 79.6h0.75M468.9 81.6h0.75M471.2 77.5h0.75M471.1 79.1h0.75M472.6 80.9h0.75M469.3 79.1h0.75M474.2 74.1h0.75M468.7 78.5h0.75M469.6 81.3h0.75M475.3 76.4h0.75M475.0 75.1h0.75M472.2 78.1h0.75M470.5 81.6h0.75M471.2 75.4h0.75M471.2 78.8h0.75M475.7 75.1h0.75M468.2 83.3h0.75M472.8 76.8h0.75M468.6 79.6h0.75M474.4 74.9h0.75M468.8 76.7h0.75M474.0 76.2h0.75M468.6 79.7h0.75M467.7 83.1h0.75M466.8 80.3h0.75M468.9 79.8h0.75M467.1 80.2h0.75M473.3 74.4h0.75M475.8 76.4h0.75M471.4 77.5h0.75M468.8 82.1h0.75M469.5 77.7h0.75M469.3 80.7h0.75M473.2 72.9h0.75M471.5 77.4h0.75M471.9 76.9h0.75M470.7 80.6h0.75M465.7 84.2h0.75M468.8 80.6h0.75M469.0 82.8h0.75M472.4 78.2h0.75M472.1 79.3h0.75M469.8 81.9h0.75M470.0 79.7h0.75M475.2 74.5h0.75M468.8 81.7h0.75M468.1 80.6h0.75M471.0 79.9h0.75M470.5 82.1h0.75M471.0 81.1h0.75M472.2 77.0h0.75M474.5 72.7h0.75M466.1 83.3h0.75M470.9 78.7h0.75M472.6 80.2h0.75M470.4 78.5h0.75M470.4 79.0h0.75M471.1 80.7h0.75M473.4 75.6h0.75M469.6 79.8h0.75M472.8 81.5h0.75M472.9 80.8h0.75M472.2 79.4h0.75M471.0 79.6h0.75M472.8 75.0h0.75M471.8 79.6h0.75M471.7 78.5h0.75M471.3 79.3h0.75M467.7 80.7h0.75M468.8 80.9h0.75M468.0 81.3h0.75M472.1 78.8h0.75M470.8 82.6h0.75M468.6 82.0h0.75M469.8 76.0h0.75M471.5 76.2h0.75M464.3 81.2h0.75M475.0 73.5h0.75M471.9 79.5h0.75M471.3 79.6h0.75M473.4 75.3h0.75M471.7 79.0h0.75M468.5 79.4h0.75M475.6 71.4h0.75M466.4 79.7h0.75M469.8 77.9h0.75M475.2 78.6h0.75M466.5 79.8h0.75M472.3 80.8h0.75M473.8 79.6h0.75M477.7 72.5h0.75M468.6 81.0h0.75M470.3 78.1h0.75M473.0 77.1h0.75M472.2 79.5h0.75M467.8 81.9h0.75M473.5 79.1h0.75M472.9 80.1h0.75M472.8 78.2h0.75M474.7 76.4h0.75M473.9 76.2h0.75M472.7 78.3h0.75M470.7 76.6h0.75M468.5 82.2h0.75M471.0 79.4h0.75M470.7 77.1h0.75M472.6 82.7h0.75M470.2 77.3h0.75M467.8 79.8h0.75M475.8 75.3h0.75M474.9 70.8h0.75M469.1 78.8h0.75M470.4 75.8h0.75M469.3 78.1h0.75M474.5 75.4h0.75M472.7 78.1h0.75M472.7 80.1h0.75M471.5 80.5h0.75M472.9 80.1h0.75M469.0 82.2h0.75M472.5 76.5h0.75M470.5 82.1h0.75M472.1 76.8h0.75M470.8 77.7h0.75M476.1 78.1h0.75M472.0 79.9h0.75M474.3 76.5h0.75M469.4 82.2h0.75M473.9 78.5h0.75M468.9 77.6h0.75M471.6 78.2h0.75M469.9 77.1h0.75M473.9 76.6h0.75M464.6 83.1h0.75M473.7 79.8h0.75M467.5 83.3h0.75M473.6 74.7h0.75M465.5 83.8h0.75M466.8 79.8h0.75M466.5 83.1h0.75M476.4 75.4h0.75M467.8 82.5h0.75M469.1 76.0h0.75M469.2 79.7h0.75M466.7 84.1h0.75M470.5 80.1h0.75M474.4 78.7h0.75M469.1 77.6h0.75M474.4 77.1h0.75M469.3 78.9h0.75M471.4 79.1h0.75M470.5 80.3h0.75M472.9 78.9h0.75M475.8 73.2h0.75M472.4 78.1h0.75M470.3 76.8h0.75M467.7 78.5h0.75M469.7 81.5h0.75M475.2 75.0h0.75M466.0 79.5h0.75M467.5 80.0h0.75M470.9 79.1h0.75M471.8 82.0h0.75M477.9 75.2h0.75M470.0 75.5h0.75M473.0 76.9h0.75M468.5 82.3h0.75M469.8 81.0h0.75M472.9 78.3h0.75M475.5 74.4h0.75M470.6 83.5h0.75M473.8 76.2h0.75M474.3 73.6h0.75M472.7 82.4h0.75M464.2 83.7h0.75M476.7 76.7h0.75M472.9 81.9h0.75M473.2 74.7h0.75M471.4 79.3h0.75M469.7 79.3h0.75M470.5 80.7h0.75M475.7 75.5h0.75M477.5 77.8h0.75M468.5 81.2h0.75M477.5 75.8h0.75M469.8 79.4h0.75M466.8 81.8h0.75M473.8 81.8h0.75M469.8 78.0h0.75M470.3 78.4h0.75M469.8 80.1h0.75M469.0 78.2h0.75M467.3 77.2h0.75M473.3 79.4h0.75M467.9 79.8h0.75M469.7 78.8h0.75M470.3 78.7h0.75M473.6 74.2h0.75M470.9 76.4h0.75M471.0 79.3h0.75M475.5 80.7h0.75M473.2 78.8h0.75M475.1 77.1h0.75M470.7 75.5h0.75M476.2 74.2h0.75M473.5 73.8h0.75M471.9 80.0h0.75M469.7 79.6h0.75M473.7 76.6h0.75M472.5 77.4h0.75M470.2 78.3h0.75M465.1 80.5h0.75M466.7 84.3h0.75M470.4 76.1h0.75M471.9 75.3h0.75M473.0 76.4h0.75M466.6 81.1h0.75M474.4 76.5h0.75M470.8 81.5h0.75M472.5 78.2h0.75M472.5 78.0h0.75M468.9 80.9h0.75M470.5 81.5h0.75M463.1 81.6h0.75M469.0 81.6h0.75M464.9 82.2h0.75M470.9 76.1h0.75M471.3 78.7h0.75M473.2 76.0h0.75M472.8 78.7h0.75M470.7 81.9h0.75M469.3 74.8h0.75M469.9 79.7h0.75M475.2 79.9h0.75M473.1 79.2h0.75M470.1 83.3h0.75M471.3 79.0h0.75M469.6 76.8h0.75M468.9 78.1h0.75M474.5 77.5h0.75M477.1 75.7h0.75M469.2 78.8h0.75M469.8 79.4h0.75M468.7 76.8h0.75M469.5 79.5h0.75M474.6 81.0h0.75M472.7 77.2h0.75M471.3 83.1h0.75M469.4 79.1h0.75M467.4 80.2h0.75M470.6 73.9h0.75M468.0 84.0h0.75M469.8 79.1h0.75M479.5 77.0h0.75M471.7 79.1h0.75M472.7 77.9h0.75M468.5 76.8h0.75M469.6 83.8h0.75M470.6 78.4h0.75M472.1 77.6h0.75M465.6 78.5h0.75M473.2 79.2h0.75M475.8 77.0h0.75M473.4 75.3h0.75M466.8 83.0h0.75M468.8 81.8h0.75M467.7 84.2h0.75M474.3 76.2h0.75M474.9 79.6h0.75M472.8 76.7h0.75M467.9 80.2h0.75M467.3 81.2h0.75M468.3 75.2h0.75M470.4 77.5h0.75M469.9 82.3h0.75M471.9 78.8h0.75M472.0 76.1h0.75M472.2 78.7h0.75M465.8 78.8h0.75M464.8 83.8h0.75M471.0 80.2h0.75M472.4 79.3h0.75M469.5 78.5h0.75M471.0 81.1h0.75M471.4 83.1h0.75M472.6 76.4h0.75M471.9 80.0h0.75M469.6 76.4h0.75M466.0 78.7h0.75M470.1 81.2h0.75M471.6 78.5h0.75M468.5 81.7h0.75M466.9 81.3h0.75M469.9 79.3h0.75M475.5 76.9h0.75M473.7 80.6h0.75M475.0 74.8h0.75M468.8 77.0h0.75M471.8 81.3h0.75M467.9 83.2h0.75M470.3 81.2h0.75M475.4 75.4h0.75M474.9 81.1h0.75M473.3 77.1h0.75M473.7 77.7h0.75M468.9 76.4h0.75M469.9 78.6h0.75M470.6 77.6h0.75M473.0 77.1h0.75M472.9 78.1h0.75M471.6 76.6h0.75M473.7 80.8h0.75M467.7 79.4h0.75M469.9 78.9h0.75M468.8 81.5h0.75M472.5 74.6h0.75M471.3 80.2h0.75M477.5 72.4h0.75M472.5 82.3h0.75M468.0 81.8h0.75M471.4 79.3h0.75M473.6 74.3h0.75M468.7 77.0h0.75M472.1 76.4h0.75M471.0 78.1h0.75M469.5 79.2h0.75M481.0 71.9h0.75M468.5 75.5h0.75M468.3 78.7h0.75M467.6 77.6h0.75M473.8 79.7h0.75M471.6 77.0h0.75M472.7 76.2h0.75M470.2 77.0h0.75M468.2 83.7h0.75M472.1 76.9h0.75M470.5 79.9h0.75M467.9 76.8h0.75M468.4 84.2h0.75M470.0 80.8h0.75M469.8 81.4h0.75M472.5 80.6h0.75M466.8 82.3h0.75M471.1 78.5h0.75M472.4 79.5h0.75M468.5 82.3h0.75M469.1 80.1h0.75M468.8 81.1h0.75M473.1 75.9h0.75M471.3 81.0h0.75M466.5 83.1h0.75M472.2 82.4h0.75M471.7 74.6h0.75M469.1 80.1h0.75M473.6 80.8h0.75M468.2 80.4h0.75M474.7 71.8h0.75M475.4 78.4h0.75M475.0 76.7h0.75M465.9 80.6h0.75M469.0 82.7h0.75M473.0 74.7h0.75M469.0 77.5h0.75M470.2 79.3h0.75M471.5 77.3h0.75M466.3 80.6h0.75M472.9 76.4h0.75M470.0 77.4h0.75M472.6 77.7h0.75M469.2 80.5h0.75M473.5 78.5h0.75M468.6 80.0h0.75M472.2 74.6h0.75M472.7 74.2h0.75M473.4 76.2h0.75M474.5 79.6h0.75M474.0 78.4h0.75M474.6 78.0h0.75M469.0 78.0h0.75M472.6 80.0h0.75M469.9 79.0h0.75M468.1 83.4h0.75M470.4 81.0h0.75M472.7 76.8h0.75M475.5 75.7h0.75M468.1 79.0h0.75M468.5 81.0h0.75M476.6 76.6h0.75M477.8 74.5h0.75M471.4 78.8h0.75M467.4 79.7h0.75M475.2 77.8h0.75M473.9 72.3h0.75M466.1 81.4h0.75M476.0 75.4h0.75M468.9 77.9h0.75M477.2 77.1h0.75M471.4 81.3h0.75M466.0 82.1h0.75M471.9 76.8h0.75M472.2 74.7h0.75M475.4 71.6h0.75M476.5 75.0h0.75M473.9 77.9h0.75M470.9 79.9h0.75M470.0 80.5h0.75M469.6 78.8h0.75M469.2 81.4h0.75M468.6 77.6h0.75" stroke="#000" stroke-width="0.75" stroke-opacity="0.95" fill="none"/>
<path d="M486.9 76.6h0.75M486.3 82.1h0.75M478.2 74.9h0.75M478.8 82.2h0.75M486.5 80.2h0.75M488.4 79.0h0.75M473.5 80.9h0.75M478.4 80.7h0.75M481.4 82.8h0.75M485.8 78.3h0.75M476.5 78.7h0.75M483.2 78.7h0.75M491.0 82.0h0.75M482.2 76.8h0.75M479.7 78.4h0.75M478.8 77.4h0.75M485.1 79.4h0.75M483.4 80.0h0.75M481.3 74.3h0.75M474.2 82.3h0.75M476.9 80.6h0.75M474.4 77.4h0.75M474.3 79.0h0.75M477.2 78.0h0.75M475.9 79.5h0.75M482.7 82.2h0.75M483.9 75.1h0.75M479.2 83.1h0.75M475.2 78.3h0.75M483.9 83.6h0.75M471.2 80.5h0.75M471.6 82.9h0.75M483.6 81.0h0.75M483.3 82.4h0.75M484.7 79.6h0.75M479.3 77.1h0.75M474.6 81.3h0.75M478.0 81.4h0.75M476.8 73.8h0.75M477.1 78.8h0.75M474.0 82.4h0.75M475.0 75.9h0.75M484.1 78.8h0.75M475.0 83.4h0.75M475.4 76.9h0.75M477.8 83.4h0.75M482.8 82.7h0.75M475.0 81.6h0.75M479.5 80.5h0.75M470.6 80.1h0.75M474.6 77.0h0.75M482.2 78.0h0.75M484.4 81.5h0.75M475.1 79.8h0.75M483.9 78.5h0.75M478.5 72.7h0.75M477.9 78.5h0.75M482.6 80.2h0.75M481.2 80.5h0.75M485.3 79.6h0.75M483.9 77.1h0.75M477.7 83.6h0.75M479.8 77.6h0.75M480.0 81.4h0.75M474.2 78.6h0.75" stroke="#000" stroke-width="0.75" stroke-opacity="0.6" fill="none"/>
<path d="M323.0 138.6h0.75M325.6 129.8h0.75M318.3 140.1h0.75M321.2 135.7h0.75M325.0 133.4h0.75M324.7 136.5h0.75M326.2 133.1h0.75M322.7 133.7h0.75M322.7 135.2h0.75M329.5 130.0h0.75M323.0 134.5h0.75M323.5 134.7h0.75M322.1 137.3h0.75M320.5 134.6h0.75M326.1 133.5h0.75M325.5 133.3h0.75M324.6 134.9h0.75M321.5 135.2h0.75M324.6 132.0h0.75M319.9 138.0h0.75M323.5 135.4h0.75M323.5 135.0h0.75M322.4 136.6h0.75M326.1 135.5h0.75M324.0 137.1h0.75M321.6 135.7h0.75M327.0 129.4h0.75M327.3 134.0h0.75M326.1 131.1h0.75M325.5 135.4h0.75M327.6 133.4h0.75M325.0 132.0h0.75M326.2 131.1h0.75M329.0 128.6h0.75M322.6 134.2h0.75M323.5 132.9h0.75M323.5 134.1h0.75M317.6 143.7h0.75M320.7 137.4h0.75M323.8 134.1h0.75M324.8 132.4h0.75M321.4 134.6h0.75M327.9 132.8h0.75M324.2 129.2h0.75M322.5 134.8h0.75M327.5 131.3h0.75M326.2 128.8h0.75M325.6 133.7h0.75M323.3 137.8h0.75M326.1 130.0h0.75M323.9 134.9h0.75M322.1 134.3h0.75M324.8 134.5h0.75M323.0 135.7h0.75M326.4 131.9h0.75M327.0 133.6h0.75M327.0 131.7h0.75M326.6 134.1h0.75M323.0 136.8h0.75M322.5 133.7h0.75M326.1 132.4h0.75M323.7 135.7h0.75M328.5 125.9h0.75M324.9 136.1h0.75M322.9 135.8h0.75M326.8 131.8h0.75M324.6 131.7h0.75M324.0 134.4h0.75M323.9 135.1h0.75M324.6 133.0h0.75M325.8 132.3h0.75M323.4 130.6h0.75M324.8 136.2h0.75M323.8 132.3h0.75M323.5 130.4h0.75M324.6 131.6h0.75M316.8 141.2h0.75M322.8 137.0h0.75M321.5 135.4h0.75M323.8 135.1h0.75M323.4 133.0h0.75M328.2 134.0h0.75M325.9 133.3h0.75M325.8 136.3h0.75M323.0 133.4h0.75M328.3 130.6h0.75M321.8 135.0h0.75M325.2 134.1h0.75M327.9 131.1h0.75M323.1 132.1h0.75M318.6 138.3h0.75M323.6 132.4h0.75M321.7 134.0h0.75M323.0 134.0h0.75M325.2 130.9h0.75M323.5 131.9h0.75M323.6 135.0h0.75M326.4 132.6h0.75M323.6 132.1h0.75M323.7 133.6h0.75M324.6 133.6h0.75M324.3 133.5h0.75M322.6 134.5h0.75M323.9 136.1h0.75M324.9 135.0h0.75M322.8 137.2h0.75M321.2 137.2h0.75M328.7 132.8h0.75M325.3 136.4h0.75M323.5 134.0h0.75M323.6 134.5h0.75M325.3 135.3h0.75M323.2 133.6h0.75M324.6 134.5h0.75M322.4 136.3h0.75M325.2 131.4h0.75M322.3 135.8h0.75M324.5 130.4h0.75M319.5 138.5h0.75M319.8 135.2h0.75M328.4 133.9h0.75M325.3 136.0h0.75M323.9 137.0h0.75M325.1 133.7h0.75M322.9 137.7h0.75M325.5 135.2h0.75M320.5 140.6h0.75M324.0 136.2h0.75M321.7 135.1h0.75M325.6 133.4h0.75M325.3 131.7h0.75M321.0 135.4h0.75M326.1 129.4h0.75M323.2 136.1h0.75M320.9 140.3h0.75M317.7 139.0h0.75M329.0 132.0h0.75M325.3 135.8h0.75M322.3 135.6h0.75M322.0 135.7h0.75M321.7 136.9h0.75M327.8 131.8h0.75M323.4 134.2h0.75M326.5 129.0h0.75M323.9 135.1h0.75M317.0 138.3h0.75M325.9 132.4h0.75M324.4 136.2h0.75M323.8 135.1h0.75M328.0 131.1h0.75M324.0 135.4h0.75M327.1 132.1h0.75M324.1 134.4h0.75M321.6 135.4h0.75M324.8 132.9h0.75M322.7 135.7h0.75M327.8 132.4h0.75M327.7 133.4h0.75M324.6 134.5h0.75M324.5 132.2h0.75M324.4 132.3h0.75M323.2 134.8h0.75M327.3 133.3h0.75M323.9 135.1h0.75M325.2 132.7h0.75M321.3 136.0h0.75M325.1 134.8h0.75M325.2 133.5h0.75M322.3 136.2h0.75M323.3 135.4h0.75M324.7 137.1h0.75M325.3 132.4h0.75M324.3 137.5h0.75M326.2 134.3h0.75M327.2 130.6h0.75M325.7 134.2h0.75M320.6 138.1h0.75M323.4 133.3h0.75M325.9 131.5h0.75M322.5 134.2h0.75M326.8 132.0h0.75M325.3 132.8h0.75M325.5 133.7h0.75M324.3 135.6h0.75M319.7 132.8h0.75M323.8 135.2h0.75M322.3 132.6h0.75M325.3 133.1h0.75M324.0 132.5h0.75M323.5 135.1h0.75M325.6 135.3h0.75M323.1 131.8h0.75M320.9 138.4h0.75M322.4 136.1h0.75M320.4 134.6h0.75M324.3 135.3h0.75M323.5 135.0h0.75M323.0 134.5h0.75M321.5 135.8h0.75M328.7 135.4h0.75M324.2 133.2h0.75M318.8 136.7h0.75M323.1 133.4h0.75M321.3 136.7h0.75M327.1 129.8h0.75M323.0 135.3h0.75M322.1 134.3h0.75M324.8 134.5h0.75M323.1 134.3h0.75M322.5 133.2h0.75M326.4 129.8h0.75M324.1 133.4h0.75M326.6 132.9h0.75M326.9 131.9h0.75M321.7 136.4h0.75M327.5 130.1h0.75M325.7 132.8h0.75M328.1 133.7h0.75M321.6 135.8h0.75M326.2 132.7h0.75M325.6 133.9h0.75M321.9 134.7h0.75M328.9 128.8h0.75M325.4 133.0h0.75M323.1 134.4h0.75M325.0 134.3h0.75M327.0 132.9h0.75M327.5 132.5h0.75M325.0 132.7h0.75M326.7 131.4h0.75" stroke="#000" stroke-width="0.75" stroke-opacity="0.6" fill="none"/>
<path d="M326.0 143.0h0.75M316.7 146.4h0.75M320.0 143.5h0.75M322.4 146.4h0.75M319.9 143.9h0.75M321.2 143.0h0.75M320.5 146.9h0.75M321.6 144.2h0.75M323.3 145.1h0.75M318.9 144.2h0.75M319.5 140.9h0.75M319.6 145.7h0.75M318.1 142.7h0.75M319.9 146.6h0.75M316.0 142.8h0.75M321.1 141.3h0.75M324.4 144.5h0.75M324.4 144.7h0.75M323.1 144.4h0.75M316.6 143.2h0.75M324.1 145.5h0.75M317.2 142.7h0.75M319.3 144.0h0.75M324.5 142.6h0.75M316.5 144.7h0.75M322.2 145.8h0.75M320.2 143.6h0.75M319.3 145.8h0.75M317.4 146.4h0.75M320.3 141.7h0.75M318.0 143.1h0.75M322.4 143.6h0.75M322.8 143.2h0.75M315.9 146.0h0.75M317.6 141.8h0.75M318.9 146.2h0.75M316.6 146.6h0.75M316.5 145.1h0.75M319.4 142.4h0.75M319.0 144.9h0.75M314.9 144.7h0.75M318.3 146.0h0.75M321.0 144.4h0.75M316.5 146.6h0.75M316.9 144.5h0.75M324.4 146.4h0.75M322.6 140.3h0.75M314.8 143.9h0.75M316.0 146.3h0.75M320.2 142.1h0.75M316.5 146.6h0.75M318.5 142.9h0.75M318.4 145.2h0.75M320.9 143.0h0.75M312.5 145.3h0.75M313.6 146.2h0.75M316.2 145.2h0.75M322.3 143.7h0.75M319.8 148.5h0.75M314.9 145.6h0.75M320.7 142.9h0.75M321.8 146.0h0.75M319.2 146.3h0.75M319.0 147.0h0.75M321.3 147.6h0.75M322.7 142.6h0.75M320.3 146.5h0.75M321.4 146.4h0.75M319.5 144.8h0.75M318.6 145.4h0.75M316.2 140.2h0.75M320.1 143.7h0.75M319.3 147.9h0.75M318.4 141.9h0.75M322.0 143.5h0.75M321.0 145.0h0.75M322.2 145.3h0.75M315.7 148.3h0.75M320.6 141.6h0.75M318.0 145.2h0.75M317.6 146.6h0.75M316.9 143.0h0.75M322.9 144.1h0.75M322.4 147.6h0.75M318.0 147.4h0.75M316.6 146.3h0.75M318.9 140.4h0.75M318.3 144.8h0.75M324.3 144.6h0.75M315.5 145.0h0.75M314.5 145.6h0.75M319.6 144.4h0.75M319.7 143.1h0.75M321.7 144.8h0.75M325.2 143.3h0.75M318.6 144.4h0.75M318.1 144.9h0.75M315.0 147.0h0.75M320.3 145.1h0.75M321.6 142.4h0.75M318.8 144.7h0.75M323.0 145.0h0.75M319.5 144.0h0.75M324.1 146.0h0.75M320.7 145.9h0.75M316.4 143.7h0.75M317.9 145.6h0.75M316.0 148.9h0.75M315.3 148.3h0.75M320.3 144.6h0.75M322.3 145.9h0.75M324.8 142.7h0.75M319.0 142.4h0.75M319.1 145.8h0.75M316.6 145.8h0.75M322.5 145.2h0.75M320.7 144.6h0.75M318.1 145.6h0.75M321.3 143.6h0.75M321.3 145.3h0.75M314.7 147.1h0.75M321.6 144.3h0.75M320.2 146.1h0.75M318.0 142.0h0.75M318.2 143.7h0.75M324.8 146.4h0.75M324.4 147.0h0.75M324.7 144.3h0.75M316.4 145.2h0.75M317.4 143.0h0.75M322.2 145.0h0.75M316.5 146.7h0.75M317.2 142.7h0.75M314.8 146.6h0.75M324.9 144.7h0.75M322.7 145.0h0.75M320.5 142.7h0.75M320.4 145.6h0.75M318.0 142.5h0.75" stroke="#000" stroke-width="0.75" stroke-opacity="0.3" fill="none"/>
<path d="M401.5 129.3h0.75M398.9 132.5h0.75M396.2 135.4h0.75M401.3 129.8h0.75M403.4 132.7h0.75M397.7 134.7h0.75M402.0 126.9h0.75M395.9 134.3h0.75M398.6 131.5h0.75M401.0 130.1h0.75M393.2 137.0h0.75M399.9 129.8h0.75M400.2 134.7h0.75M398.6 132.9h0.75M396.0 134.8h0.75M399.1 131.9h0.75M396.1 135.0h0.75M398.1 136.4h0.75M398.2 134.3h0.75M397.2 136.6h0.75M398.7 126.2h0.75M396.2 136.0h0.75M398.2 135.6h0.75M400.1 135.6h0.75M398.7 132.9h0.75M398.5 129.3h0.75M401.0 131.7h0.75M397.4 132.8h0.75M395.9 131.8h0.75M398.1 132.1h0.75M401.5 132.2h0.75M401.4 132.6h0.75M398.3 134.7h0.75M393.2 136.1h0.75M405.9 131.0h0.75M399.4 129.6h0.75M399.1 132.2h0.75M397.8 130.6h0.75M398.9 135.3h0.75M397.0 135.4h0.75M398.9 134.5h0.75M398.3 133.4h0.75M397.2 134.1h0.75M395.7 136.1h0.75M396.0 131.5h0.75M400.9 132.7h0.75M398.6 134.9h0.75M398.3 132.4h0.75M394.2 137.2h0.75M398.5 133.6h0.75M400.0 134.8h0.75M396.5 135.9h0.75M395.0 136.6h0.75M399.0 131.4h0.75M395.3 133.0h0.75M399.0 131.2h0.75M397.8 133.8h0.75M399.7 131.3h0.75M398.0 133.6h0.75M396.2 136.8h0.75M398.9 133.5h0.75M398.2 133.8h0.75M400.7 132.1h0.75M397.9 134.0h0.75M397.8 133.6h0.75M401.0 131.5h0.75M399.3 128.5h0.75M401.6 132.6h0.75M399.5 129.3h0.75M400.5 132.8h0.75M400.3 131.2h0.75M401.7 132.2h0.75M399.5 132.0h0.75M397.8 131.7h0.75M400.1 133.7h0.75M403.9 127.9h0.75M398.8 132.9h0.75M398.2 133.4h0.75M398.9 134.7h0.75M399.4 133.8h0.75M399.4 132.6h0.75M394.6 133.6h0.75M394.0 136.6h0.75M399.4 132.3h0.75M397.2 138.2h0.75M399.6 132.7h0.75M398.9 132.5h0.75M402.4 131.7h0.75M402.1 129.2h0.75M399.4 132.0h0.75M397.6 134.2h0.75M394.6 133.8h0.75M398.0 135.6h0.75M399.2 133.2h0.75M394.0 136.9h0.75M397.6 131.5h0.75M398.9 133.1h0.75M401.5 133.0h0.75M397.3 132.9h0.75M397.7 131.5h0.75M397.5 134.9h0.75M396.0 132.1h0.75M392.5 134.3h0.75M398.4 132.1h0.75M401.2 128.8h0.75M398.7 132.2h0.75M398.9 131.5h0.75M396.9 135.3h0.75M401.5 129.6h0.75M396.4 133.9h0.75M399.9 130.7h0.75M399.6 133.3h0.75M397.6 135.9h0.75M401.8 131.6h0.75M399.4 133.6h0.75M395.5 129.0h0.75M398.6 130.8h0.75M398.3 132.6h0.75M398.1 133.9h0.75M397.9 130.2h0.75M399.3 135.2h0.75M399.1 133.0h0.75M396.6 133.6h0.75M395.7 136.2h0.75M396.9 133.9h0.75M396.8 133.1h0.75M399.2 133.4h0.75M400.7 129.9h0.75M393.6 135.0h0.75M398.3 131.9h0.75M393.9 137.4h0.75M395.3 133.9h0.75M398.9 135.3h0.75M392.7 136.5h0.75M396.6 138.7h0.75M399.9 133.5h0.75M397.8 131.7h0.75M398.6 133.2h0.75M398.2 135.8h0.75M403.0 128.1h0.75M397.1 131.9h0.75M397.0 134.8h0.75M404.3 131.4h0.75M398.4 130.0h0.75M398.5 134.2h0.75M401.2 130.3h0.75M398.9 132.4h0.75M399.6 131.1h0.75M398.8 132.0h0.75M397.6 136.2h0.75M401.4 131.4h0.75M398.0 131.5h0.75M398.2 136.7h0.75M395.7 133.1h0.75M401.4 131.5h0.75M398.1 133.9h0.75M400.0 134.0h0.75M400.4 131.9h0.75M400.1 133.7h0.75M395.4 136.1h0.75M401.1 132.6h0.75M401.0 131.2h0.75M402.8 133.3h0.75M401.4 128.7h0.75M400.7 133.4h0.75M400.8 131.7h0.75M402.2 129.7h0.75M397.5 132.9h0.75M402.8 129.7h0.75M400.8 127.6h0.75M398.9 129.8h0.75M403.3 129.7h0.75M398.8 129.4h0.75M398.3 136.3h0.75M400.8 130.2h0.75M399.6 132.5h0.75M399.6 132.1h0.75M399.5 133.0h0.75M401.3 129.7h0.75M399.5 131.3h0.75M397.1 134.2h0.75M400.8 133.0h0.75M401.4 132.5h0.75M398.5 135.8h0.75M398.1 134.2h0.75M397.7 133.5h0.75M395.6 132.4h0.75M400.1 132.8h0.75M401.7 131.6h0.75M402.3 128.4h0.75M402.1 131.2h0.75M402.2 132.1h0.75M401.2 130.6h0.75M402.6 131.2h0.75M398.2 134.0h0.75M398.3 129.6h0.75M398.9 131.7h0.75M398.0 132.7h0.75M398.3 134.4h0.75M396.7 133.0h0.75M397.6 133.0h0.75M395.0 134.5h0.75M399.7 131.7h0.75M398.7 133.0h0.75M399.9 133.7h0.75M400.2 133.0h0.75M400.4 131.5h0.75M397.7 134.4h0.75M398.6 133.2h0.75M395.4 136.4h0.75M395.6 139.2h0.75M391.9 134.4h0.75M401.8 129.4h0.75M395.1 137.1h0.75M400.9 133.1h0.75M400.7 128.6h0.75M398.1 134.2h0.75M403.1 130.3h0.75M402.1 128.5h0.75M398.7 128.9h0.75M403.3 127.5h0.75M398.7 130.3h0.75M397.8 135.1h0.75M398.9 130.9h0.75M399.6 135.7h0.75M396.1 135.8h0.75M395.1 134.7h0.75M403.1 127.4h0.75M396.4 132.9h0.75M399.1 133.3h0.75M398.9 135.9h0.75M398.8 132.3h0.75M399.2 134.4h0.75M396.8 132.7h0.75M396.5 135.8h0.75M398.2 138.3h0.75M395.6 132.9h0.75M400.6 133.5h0.75M404.4 129.7h0.75M398.9 128.6h0.75M401.1 127.5h0.75M398.7 130.8h0.75M399.6 134.1h0.75M395.4 135.2h0.75M398.5 132.7h0.75M394.9 138.1h0.75M398.2 133.6h0.75M402.4 129.6h0.75M399.1 131.8h0.75M402.3 131.6h0.75M397.1 132.8h0.75M397.6 137.5h0.75M397.3 133.5h0.75M397.0 132.8h0.75M402.0 131.0h0.75M403.4 129.1h0.75M395.1 132.3h0.75M398.2 133.8h0.75M397.0 131.7h0.75M397.1 132.7h0.75M396.9 136.3h0.75M398.0 131.7h0.75M399.9 132.4h0.75M399.1 131.6h0.75M398.2 137.4h0.75M398.4 133.0h0.75M393.8 135.3h0.75M399.5 129.7h0.75M395.6 134.0h0.75M398.3 133.5h0.75M397.8 133.8h0.75M398.5 135.1h0.75M396.7 135.2h0.75M395.1 136.7h0.75M402.8 129.5h0.75M399.1 132.1h0.75M399.6 132.6h0.75M404.0 129.2h0.75M399.4 133.9h0.75M399.3 131.1h0.75M396.9 130.9h0.75M400.4 129.4h0.75M400.1 132.0h0.75M396.8 129.5h0.75M397.7 132.8h0.75M399.8 132.7h0.75M400.6 129.7h0.75M393.1 136.0h0.75M400.3 134.9h0.75M399.3 135.2h0.75M397.8 133.2h0.75M395.9 138.4h0.75M401.7 132.6h0.75M395.7 133.4h0.75M401.1 136.1h0.75M396.7 132.9h0.75M394.9 136.1h0.75M396.6 132.6h0.75M394.9 136.8h0.75M395.3 133.4h0.75" stroke="#000" stroke-width="0.75" stroke-opacity="0.7" fill="none"/>
<path d="M396.0 140.8h0.75M396.1 138.1h0.75M396.1 140.3h0.75M395.5 141.3h0.75M397.1 137.3h0.75M394.2 142.4h0.75M395.9 138.3h0.75M394.8 141.1h0.75M396.0 140.2h0.75M396.2 140.8h0.75M396.6 140.7h0.75M395.2 140.7h0.75M395.1 142.5h0.75M394.0 141.5h0.75M394.3 139.1h0.75M394.9 140.7h0.75M394.2 143.1h0.75M393.9 141.9h0.75M393.7 141.8h0.75M396.0 141.0h0.75M395.2 140.1h0.75M394.4 140.0h0.75M396.8 142.8h0.75M395.8 140.7h0.75M394.3 143.7h0.75M393.8 147.4h0.75M395.0 140.6h0.75M395.5 144.9h0.75M393.7 142.4h0.75M393.6 143.1h0.75M396.0 139.3h0.75M394.0 143.2h0.75M396.9 140.5h0.75M394.0 141.4h0.75M394.0 143.3h0.75M394.5 144.3h0.75M396.4 139.8h0.75M396.7 140.1h0.75M396.5 139.1h0.75M398.8 137.2h0.75M395.5 140.0h0.75M396.0 140.1h0.75M396.1 141.2h0.75M395.4 140.4h0.75M395.1 141.5h0.75M394.5 142.6h0.75M396.7 136.1h0.75M393.2 144.6h0.75M395.4 140.0h0.75M394.8 139.3h0.75M396.0 140.5h0.75M393.6 142.5h0.75M397.0 141.8h0.75M396.5 142.3h0.75M395.5 143.5h0.75M395.4 140.8h0.75M394.8 141.5h0.75M396.0 142.3h0.75M396.3 139.3h0.75M395.1 143.3h0.75" stroke="#000" stroke-width="0.75" stroke-opacity="0.6" fill="none"/>
<path d="M394.5 147.1h0.75M401.6 145.7h0.75M394.1 144.9h0.75M397.7 146.4h0.75M390.4 145.0h0.75M394.7 142.9h0.75M399.3 147.0h0.75M395.5 144.8h0.75M395.5 144.3h0.75M400.5 143.8h0.75M397.0 146.2h0.75M402.3 144.6h0.75M387.7 146.7h0.75M399.6 145.4h0.75M399.3 147.4h0.75M391.1 145.2h0.75M392.1 144.8h0.75M400.8 142.9h0.75M393.0 144.2h0.75M394.8 146.9h0.75M396.0 143.9h0.75M399.2 144.3h0.75M393.8 146.3h0.75M398.5 146.5h0.75M401.6 144.8h0.75M398.6 145.9h0.75M388.5 143.4h0.75M399.9 145.4h0.75M397.5 147.2h0.75M393.7 148.3h0.75M402.8 145.6h0.75M390.3 145.4h0.75M404.8 146.5h0.75M394.8 147.5h0.75M403.6 146.5h0.75M397.1 144.7h0.75M392.0 146.3h0.75M397.7 147.3h0.75M398.6 144.8h0.75M399.4 143.8h0.75M401.5 146.6h0.75M393.7 146.4h0.75M399.2 147.3h0.75M400.2 146.0h0.75M396.2 144.9h0.75M393.6 145.2h0.75M393.5 144.3h0.75M400.3 144.4h0.75M400.5 145.0h0.75M394.0 145.1h0.75M391.9 147.5h0.75M402.2 144.0h0.75M391.1 145.8h0.75M397.9 144.9h0.75M394.1 148.0h0.75M390.3 146.2h0.75M397.8 145.3h0.75M396.5 147.0h0.75M403.0 145.9h0.75M406.3 145.1h0.75M396.5 148.1h0.75M401.4 146.9h0.75M401.4 148.4h0.75M395.2 147.6h0.75M393.8 147.0h0.75M403.7 146.0h0.75M395.8 144.2h0.75M397.2 146.9h0.75M396.1 145.9h0.75M396.7 146.8h0.75M394.9 145.8h0.75M400.3 144.8h0.75M402.3 144.3h0.75M395.8 146.9h0.75M391.8 147.8h0.75M397.5 145.4h0.75M391.4 146.5h0.75M394.7 147.9h0.75M402.2 144.6h0.75M406.5 145.3h0.75M398.8 144.2h0.75M393.0 147.6h0.75M400.4 146.2h0.75M388.3 145.1h0.75M394.5 143.4h0.75M403.3 145.6h0.75M400.2 147.3h0.75M391.8 145.4h0.75M390.7 145.2h0.75" stroke="#000" stroke-width="0.75" stroke-opacity="0.35" fill="none"/>
<path d="M470.1 128.3h0.75M467.2 132.8h0.75M470.0 130.4h0.75M468.3 126.9h0.75M466.4 130.5h0.75M465.6 130.0h0.75M469.5 129.2h0.75M466.7 128.1h0.75M469.0 130.6h0.75M469.5 129.4h0.75M469.1 129.0h0.75M464.3 129.2h0.75M466.3 129.9h0.75M469.8 128.7h0.75M468.8 125.4h0.75M470.5 125.9h0.75M466.5 130.8h0.75M471.1 127.4h0.75M469.9 127.6h0.75M468.4 129.4h0.75M468.7 127.6h0.75M469.7 127.2h0.75M471.4 125.0h0.75M467.0 132.0h0.75M469.1 127.6h0.75M469.0 130.2h0.75M466.1 128.0h0.75M471.6 127.6h0.75M469.5 127.1h0.75M467.5 132.3h0.75M467.8 129.7h0.75M469.5 129.3h0.75M467.1 133.4h0.75M469.2 126.7h0.75M468.2 129.3h0.75M468.3 128.5h0.75M469.0 128.5h0.75M469.9 123.7h0.75M468.1 128.8h0.75M467.3 129.6h0.75M470.6 124.5h0.75M467.1 130.0h0.75M465.7 128.9h0.75M467.1 133.3h0.75M470.7 127.0h0.75M470.6 130.1h0.75M468.2 127.3h0.75M467.3 127.7h0.75M468.2 129.6h0.75M465.1 129.3h0.75M467.0 130.9h0.75M468.3 127.5h0.75M468.1 128.5h0.75M471.5 125.7h0.75M466.9 130.7h0.75M469.2 131.7h0.75M467.0 131.8h0.75M469.4 124.9h0.75M466.9 132.6h0.75M468.3 126.2h0.75M471.0 125.9h0.75M466.7 128.3h0.75M468.7 126.7h0.75M465.6 134.8h0.75M466.9 129.4h0.75M464.5 132.1h0.75M468.0 128.2h0.75M467.9 128.7h0.75M468.3 132.0h0.75M468.7 125.9h0.75M467.6 127.2h0.75M467.8 130.7h0.75M465.6 128.8h0.75M465.1 131.9h0.75M469.0 130.4h0.75M472.1 124.4h0.75M466.4 130.2h0.75M468.3 127.5h0.75M466.3 129.4h0.75M469.1 126.8h0.75M469.2 128.2h0.75M469.1 130.6h0.75M465.9 133.8h0.75M466.7 129.7h0.75M469.7 125.8h0.75M468.5 130.2h0.75M467.5 126.1h0.75M466.9 129.7h0.75M464.4 132.8h0.75M467.9 127.1h0.75M467.8 127.5h0.75M467.5 130.6h0.75M465.8 128.4h0.75M467.8 127.6h0.75M466.4 129.8h0.75M468.9 128.3h0.75M466.4 128.3h0.75M465.0 135.1h0.75M467.6 129.1h0.75M466.8 130.1h0.75M466.3 130.5h0.75M468.3 127.5h0.75M466.3 129.2h0.75M470.4 128.8h0.75M470.4 126.8h0.75M468.3 128.6h0.75M466.4 133.3h0.75M466.1 130.0h0.75M470.5 127.5h0.75M467.7 129.6h0.75M465.8 130.0h0.75M468.8 129.8h0.75M467.6 126.6h0.75M469.3 129.0h0.75M468.5 126.8h0.75M467.1 131.2h0.75M469.1 130.8h0.75M468.3 130.0h0.75M467.5 128.5h0.75M464.3 133.6h0.75M467.4 129.2h0.75M464.5 130.9h0.75M469.6 125.0h0.75M471.1 125.6h0.75M471.8 125.7h0.75M467.9 125.7h0.75M467.2 130.0h0.75M470.5 127.3h0.75M467.9 129.5h0.75M468.3 126.8h0.75M467.6 131.8h0.75M465.9 129.2h0.75M469.7 128.5h0.75M473.1 126.4h0.75M466.1 127.3h0.75M472.6 124.2h0.75M473.6 123.2h0.75M466.0 132.0h0.75M467.3 128.4h0.75M466.1 130.8h0.75M466.5 128.1h0.75M467.3 130.2h0.75M468.6 129.6h0.75M469.3 126.3h0.75M469.0 126.1h0.75M468.2 128.0h0.75M468.2 128.9h0.75M468.5 128.7h0.75M468.3 128.6h0.75M469.3 127.8h0.75M466.9 127.8h0.75M466.3 125.5h0.75M466.4 132.4h0.75M471.1 128.4h0.75M470.0 123.9h0.75M467.8 128.0h0.75M465.9 132.3h0.75M471.6 126.8h0.75M468.2 130.2h0.75M464.0 136.6h0.75M467.7 129.4h0.75M469.7 128.0h0.75M469.3 128.5h0.75M470.0 125.9h0.75M470.5 128.6h0.75M469.0 129.2h0.75M465.5 134.1h0.75M465.7 131.1h0.75M469.6 129.4h0.75M468.4 126.6h0.75M466.7 131.5h0.75M464.4 128.1h0.75M468.0 127.1h0.75M465.4 133.8h0.75M464.1 132.8h0.75M467.9 129.6h0.75M467.0 127.0h0.75M468.9 131.3h0.75M464.5 134.5h0.75M468.2 128.9h0.75M466.1 132.2h0.75M469.7 127.8h0.75M469.4 130.4h0.75M468.9 128.5h0.75M467.9 126.3h0.75M466.9 129.9h0.75M471.0 128.2h0.75M471.0 126.7h0.75M468.5 127.7h0.75M471.2 126.5h0.75M467.1 130.4h0.75M470.5 127.4h0.75M467.1 127.0h0.75M465.4 130.3h0.75M468.7 129.7h0.75M467.0 129.9h0.75M467.5 130.5h0.75M470.3 130.4h0.75M469.8 126.3h0.75M467.8 129.8h0.75M467.8 128.2h0.75M464.8 131.6h0.75M468.3 128.6h0.75M468.8 125.2h0.75M467.5 125.4h0.75M470.4 129.1h0.75M467.1 130.0h0.75M467.5 132.0h0.75M468.1 129.2h0.75M465.9 132.0h0.75M466.6 132.2h0.75M470.6 127.5h0.75M465.3 129.9h0.75M472.7 126.0h0.75M464.6 131.3h0.75M469.2 128.2h0.75M468.6 133.7h0.75M468.6 128.6h0.75M467.9 132.6h0.75M467.9 128.6h0.75M468.5 129.8h0.75M467.4 130.0h0.75M469.5 128.2h0.75M470.1 124.9h0.75M466.2 129.5h0.75M470.1 127.3h0.75M466.8 127.4h0.75M467.3 128.3h0.75M472.9 124.7h0.75M463.5 133.2h0.75M466.0 129.7h0.75M463.7 132.0h0.75M467.7 129.8h0.75M467.4 129.1h0.75M475.4 120.7h0.75M468.6 128.0h0.75M473.4 126.6h0.75M470.1 125.7h0.75M465.4 128.3h0.75M469.2 128.0h0.75M471.3 125.3h0.75M468.7 128.7h0.75M466.9 127.1h0.75M470.2 128.8h0.75M465.4 132.2h0.75M466.6 130.7h0.75M467.2 126.9h0.75M469.7 128.1h0.75M466.4 130.9h0.75M468.9 130.8h0.75M467.5 128.9h0.75M466.7 128.2h0.75M469.6 127.5h0.75M467.5 127.9h0.75M468.9 128.9h0.75M464.5 131.1h0.75M466.1 131.2h0.75M468.5 128.0h0.75M465.2 132.4h0.75M468.2 127.9h0.75M466.1 129.7h0.75M466.6 130.7h0.75M468.8 127.0h0.75M467.1 130.6h0.75M466.3 130.6h0.75M464.7 128.5h0.75M468.2 128.8h0.75M474.6 124.1h0.75M464.6 133.9h0.75M468.7 129.5h0.75M468.2 129.9h0.75M469.5 126.5h0.75M466.1 128.6h0.75M464.4 135.1h0.75M471.7 126.9h0.75M466.7 131.8h0.75M468.5 129.4h0.75M466.0 132.3h0.75M466.1 131.4h0.75M467.5 130.3h0.75M469.8 127.1h0.75M470.0 127.4h0.75M466.1 129.5h0.75M468.5 127.3h0.75M468.0 130.3h0.75M468.0 128.4h0.75M466.0 126.6h0.75M469.4 127.7h0.75M464.7 128.4h0.75M469.8 130.9h0.75M469.3 129.1h0.75M469.0 129.3h0.75M466.0 130.2h0.75M470.2 124.2h0.75M467.1 129.8h0.75M469.6 127.3h0.75M467.8 127.9h0.75M470.6 126.4h0.75M464.8 134.4h0.75M472.5 125.0h0.75M466.7 128.6h0.75M463.7 129.9h0.75M468.4 128.7h0.75M471.7 123.5h0.75M469.5 128.2h0.75M467.5 133.1h0.75M468.9 131.4h0.75M470.9 126.3h0.75M466.7 133.0h0.75M469.4 130.8h0.75M467.7 129.7h0.75M472.4 124.4h0.75M468.5 130.3h0.75M470.6 126.1h0.75M466.4 130.1h0.75M465.9 130.1h0.75M470.0 126.8h0.75M468.7 127.1h0.75M465.7 133.5h0.75M469.0 127.3h0.75M470.8 128.8h0.75M468.2 131.4h0.75M467.3 127.5h0.75M469.7 129.3h0.75M466.9 129.7h0.75M468.4 131.4h0.75M467.4 130.9h0.75M467.6 129.6h0.75M466.4 132.5h0.75M467.5 128.6h0.75M465.7 132.6h0.75M468.7 129.2h0.75M467.9 129.1h0.75M466.6 131.6h0.75M468.8 126.3h0.75M472.3 125.2h0.75M469.4 125.1h0.75M466.2 132.5h0.75M471.0 126.6h0.75M469.3 129.1h0.75M467.5 128.7h0.75M470.1 132.8h0.75M467.9 128.8h0.75M470.9 126.1h0.75M468.4 127.2h0.75M468.8 131.1h0.75M466.5 130.1h0.75M468.4 130.8h0.75M468.3 126.9h0.75M471.9 125.2h0.75M465.9 131.0h0.75M469.1 129.8h0.75M467.2 129.6h0.75M465.9 130.0h0.75M469.4 128.5h0.75M468.0 126.8h0.75M464.6 131.4h0.75M467.0 131.9h0.75M468.5 124.9h0.75M469.5 129.0h0.75M468.8 127.5h0.75M466.4 129.4h0.75M467.7 130.1h0.75M469.7 128.5h0.75M466.7 129.6h0.75M466.0 131.3h0.75M469.0 129.7h0.75M470.6 127.7h0.75M466.2 131.3h0.75M469.4 126.1h0.75M468.6 126.7h0.75M466.0 130.4h0.75M468.9 129.6h0.75M468.7 129.6h0.75M469.7 127.9h0.75M470.8 128.7h0.75M465.5 131.7h0.75M465.3 131.7h0.75M469.7 126.5h0.75M470.3 130.4h0.75M467.0 126.4h0.75M469.1 128.5h0.75M471.5 126.0h0.75M466.0 131.8h0.75M472.5 128.6h0.75M467.8 131.8h0.75M470.3 128.1h0.75M469.8 125.4h0.75M466.1 132.5h0.75M468.6 127.9h0.75M467.7 129.7h0.75M467.9 129.9h0.75M467.8 128.6h0.75M466.9 131.9h0.75M468.0 132.5h0.75M470.4 128.5h0.75M470.0 127.4h0.75M465.3 128.7h0.75M466.6 133.1h0.75M473.5 124.8h0.75M470.1 126.5h0.75M468.4 127.9h0.75M467.0 131.9h0.75M466.4 129.7h0.75M469.4 129.2h0.75M465.4 130.3h0.75M470.3 124.8h0.75M468.5 128.8h0.75M467.5 127.0h0.75M466.3 131.3h0.75M467.1 131.5h0.75M465.5 129.7h0.75M469.6 129.2h0.75M467.2 129.2h0.75M468.2 130.1h0.75M469.0 128.5h0.75M468.2 128.2h0.75M470.4 125.4h0.75M466.2 128.1h0.75M465.7 130.7h0.75M467.5 128.5h0.75M472.5 127.2h0.75M468.2 131.1h0.75M467.0 127.8h0.75M468.3 130.5h0.75M469.2 128.4h0.75M468.3 128.2h0.75M467.2 131.2h0.75M468.6 130.2h0.75M469.4 126.5h0.75M470.0 126.4h0.75M470.1 127.2h0.75M468.9 126.4h0.75M467.8 129.9h0.75M467.5 129.8h0.75M469.3 126.5h0.75M465.3 130.9h0.75M468.4 129.4h0.75M465.7 133.8h0.75M467.9 130.2h0.75M466.1 129.9h0.75M466.8 132.3h0.75M469.5 127.9h0.75M467.5 131.2h0.75M468.7 130.8h0.75M466.9 128.9h0.75M466.8 130.6h0.75M470.3 125.5h0.75M466.5 129.4h0.75M470.5 130.3h0.75M466.8 132.7h0.75M465.7 128.7h0.75M468.1 130.1h0.75M467.1 129.3h0.75M468.3 131.3h0.75M468.6 128.8h0.75M470.9 125.5h0.75M468.1 129.5h0.75M468.4 129.7h0.75M467.6 129.9h0.75M472.7 123.4h0.75M471.1 125.4h0.75M469.8 128.3h0.75M468.4 126.6h0.75M466.9 130.6h0.75M467.8 129.3h0.75M468.2 128.2h0.75M469.2 129.4h0.75M465.4 129.9h0.75M466.5 130.5h0.75M468.4 127.3h0.75M469.3 128.8h0.75M463.9 133.3h0.75M468.5 128.9h0.75M470.9 126.6h0.75M465.5 129.2h0.75M469.1 128.9h0.75M464.9 131.6h0.75M469.5 127.0h0.75M466.1 131.4h0.75M466.7 132.5h0.75M468.4 130.4h0.75M474.3 125.3h0.75M467.3 130.5h0.75M465.5 131.4h0.75M468.6 127.7h0.75M469.3 129.1h0.75M472.8 126.8h0.75M466.3 132.1h0.75M464.8 132.1h0.75M467.9 130.0h0.75M469.2 128.5h0.75M468.9 128.3h0.75M469.5 126.1h0.75M463.1 130.3h0.75M466.2 130.4h0.75M469.0 130.2h0.75M470.0 127.4h0.75M467.0 126.2h0.75M467.5 130.0h0.75M464.6 129.8h0.75M471.8 128.8h0.75M470.2 127.2h0.75M472.0 122.2h0.75M468.7 130.1h0.75M470.5 124.9h0.75M466.6 132.2h0.75M467.3 130.3h0.75M465.9 129.6h0.75M468.0 130.6h0.75M465.4 129.9h0.75M468.5 131.3h0.75M468.2 129.2h0.75M466.4 129.2h0.75M467.7 126.2h0.75M469.7 130.6h0.75M469.6 130.2h0.75M469.7 124.8h0.75M470.4 129.7h0.75M468.7 128.9h0.75M468.0 128.9h0.75M468.3 128.9h0.75M469.0 127.6h0.75M468.2 132.0h0.75M470.5 126.7h0.75M469.3 124.2h0.75M472.4 128.3h0.75M468.2 130.9h0.75M464.3 131.6h0.75M467.1 129.7h0.75M467.7 128.0h0.75M469.8 127.3h0.75M468.3 129.8h0.75M467.9 129.9h0.75M470.4 125.3h0.75M466.2 129.9h0.75M471.0 127.4h0.75M469.8 127.0h0.75M468.0 133.8h0.75M468.0 127.8h0.75M468.0 130.9h0.75M466.6 131.2h0.75M464.1 132.5h0.75M466.7 133.6h0.75M469.1 128.3h0.75M466.7 129.2h0.75M468.4 128.2h0.75M467.3 132.2h0.75M466.5 128.8h0.75M469.1 130.8h0.75M466.1 133.0h0.75M464.9 132.5h0.75M470.4 129.2h0.75M470.2 130.2h0.75M467.1 131.6h0.75M468.2 129.4h0.75M471.2 129.1h0.75M473.0 126.3h0.75M465.7 130.2h0.75M469.2 127.6h0.75M471.9 124.3h0.75M468.0 128.6h0.75M469.5 124.7h0.75M464.4 135.4h0.75M471.0 126.0h0.75M468.3 129.2h0.75M466.2 134.3h0.75M469.1 126.9h0.75M470.1 126.7h0.75M470.7 126.7h0.75M470.0 126.1h0.75M468.1 129.0h0.75M467.6 131.3h0.75M467.4 130.1h0.75M469.5 130.2h0.75M468.3 127.6h0.75M467.6 130.3h0.75M466.9 127.8h0.75M469.7 127.1h0.75M468.2 127.8h0.75M473.8 125.2h0.75M472.9 125.0h0.75M466.6 132.0h0.75M469.0 131.8h0.75M467.3 133.1h0.75M466.8 132.2h0.75M468.6 127.3h0.75M465.0 130.0h0.75M466.3 131.3h0.75M467.4 129.4h0.75M469.1 126.8h0.75M467.3 129.6h0.75M466.0 128.5h0.75M471.4 128.3h0.75M468.0 127.1h0.75M468.4 127.5h0.75M470.5 127.5h0.75M464.8 129.9h0.75M469.5 129.3h0.75M468.0 131.2h0.75M469.8 126.6h0.75M468.7 126.4h0.75M465.9 131.0h0.75M468.9 124.6h0.75M467.5 132.8h0.75M470.4 126.6h0.75M467.9 128.0h0.75M465.8 130.2h0.75M466.8 132.0h0.75M469.2 131.0h0.75M467.0 128.1h0.75M466.4 130.1h0.75M467.6 126.4h0.75M466.3 132.7h0.75M468.4 129.2h0.75M470.5 130.9h0.75M464.7 133.1h0.75M468.4 128.0h0.75M465.2 131.2h0.75M464.5 135.2h0.75M465.5 129.1h0.75M468.6 130.2h0.75M470.1 127.3h0.75M466.9 129.7h0.75M470.1 125.1h0.75M471.9 126.8h0.75M472.1 128.2h0.75M470.2 125.8h0.75M469.4 128.7h0.75M468.9 131.7h0.75M468.8 127.1h0.75M469.8 126.7h0.75M467.5 127.5h0.75M467.6 129.5h0.75M465.3 132.4h0.75M469.1 127.2h0.75M468.2 127.7h0.75M464.3 130.6h0.75M467.1 127.7h0.75M468.6 126.7h0.75M468.7 129.8h0.75M469.2 126.9h0.75M468.8 126.7h0.75M466.2 132.8h0.75M468.2 130.2h0.75M468.4 127.4h0.75M469.3 126.5h0.75M471.5 126.5h0.75M465.1 133.6h0.75M467.3 128.5h0.75" stroke="#000" stroke-width="0.75" stroke-opacity="0.95" fill="none"/>
<path d="M467.3 141.6h0.75M467.8 144.4h0.75M469.7 141.1h0.75M465.1 144.1h0.75M467.6 138.1h0.75M469.4 144.8h0.75M465.0 144.8h0.75M470.0 142.1h0.75M470.2 143.5h0.75M464.4 145.6h0.75M471.8 139.8h0.75M464.7 143.7h0.75M467.7 146.1h0.75M471.3 146.7h0.75M468.3 141.6h0.75M467.4 143.9h0.75M470.1 140.2h0.75M469.6 145.4h0.75M470.7 141.2h0.75M473.5 137.9h0.75M469.3 146.2h0.75M462.0 148.6h0.75M465.5 142.2h0.75M466.0 147.4h0.75M467.9 143.9h0.75M464.0 143.8h0.75M466.6 143.3h0.75M466.1 141.9h0.75M461.1 147.0h0.75M470.0 142.6h0.75M468.3 145.2h0.75M467.6 143.8h0.75M466.8 140.1h0.75M464.1 143.1h0.75M468.8 146.7h0.75M471.3 144.9h0.75M470.1 142.0h0.75M468.5 142.8h0.75M466.6 143.6h0.75M465.4 144.6h0.75M469.2 138.4h0.75M469.7 144.9h0.75M465.8 142.7h0.75M462.1 146.5h0.75M462.7 139.2h0.75M462.8 146.4h0.75M472.0 145.0h0.75M465.7 138.5h0.75M467.1 147.8h0.75M467.3 145.0h0.75M473.4 138.9h0.75M469.0 138.7h0.75M465.2 147.7h0.75M467.4 144.3h0.75M464.9 146.4h0.75M462.8 145.1h0.75M467.1 141.7h0.75M474.6 142.6h0.75M470.5 139.7h0.75M468.5 145.5h0.75M464.8 140.4h0.75M467.1 141.4h0.75M468.7 139.2h0.75M465.1 148.2h0.75M460.9 142.1h0.75M471.2 138.9h0.75M468.9 144.7h0.75M471.9 142.2h0.75M470.3 148.1h0.75M473.2 145.8h0.75M466.5 145.7h0.75M469.5 144.5h0.75M469.7 137.8h0.75M469.3 140.5h0.75M466.0 143.4h0.75M469.6 142.1h0.75M464.4 141.4h0.75M462.9 143.3h0.75M468.0 141.1h0.75M472.2 144.2h0.75M470.1 143.5h0.75M463.9 144.4h0.75M469.5 141.9h0.75M469.6 143.4h0.75M465.6 142.6h0.75M460.8 146.0h0.75M468.4 138.6h0.75M470.5 144.0h0.75M469.8 145.1h0.75M463.4 146.5h0.75M464.1 146.4h0.75M470.5 143.2h0.75M471.7 147.0h0.75M469.0 143.4h0.75M465.5 141.0h0.75M467.5 140.8h0.75M466.8 145.8h0.75M467.8 146.3h0.75M466.0 146.3h0.75M469.0 145.1h0.75M466.6 144.5h0.75M468.5 139.2h0.75M468.7 141.2h0.75M463.5 140.7h0.75M471.9 140.5h0.75M463.2 142.0h0.75M468.8 143.3h0.75M470.2 141.9h0.75M468.9 137.8h0.75M462.5 147.9h0.75M470.9 144.0h0.75M469.3 139.1h0.75M471.4 142.1h0.75M462.4 147.9h0.75M465.4 143.8h0.75M468.1 145.6h0.75M466.5 144.5h0.75M472.1 144.3h0.75M465.9 144.8h0.75M470.5 141.7h0.75M469.5 144.0h0.75M464.5 147.1h0.75M465.1 145.3h0.75M465.8 143.2h0.75M466.9 141.7h0.75M469.7 141.6h0.75M466.4 142.6h0.75M470.1 142.9h0.75M463.5 145.9h0.75M459.4 147.1h0.75M466.6 144.0h0.75M468.9 143.4h0.75M468.1 147.4h0.75M466.1 147.4h0.75M468.0 141.8h0.75M473.0 142.1h0.75M466.9 143.0h0.75M465.5 144.2h0.75M465.0 144.1h0.75M472.0 139.8h0.75M466.0 140.6h0.75M466.6 137.4h0.75M470.9 142.5h0.75M471.5 144.8h0.75M464.1 142.7h0.75M470.5 143.5h0.75M469.3 141.7h0.75M469.1 143.6h0.75M469.3 140.6h0.75M465.8 143.7h0.75M467.2 143.4h0.75M463.7 139.0h0.75M469.7 143.1h0.75M465.6 144.1h0.75M466.0 137.7h0.75M465.3 146.3h0.75M467.1 143.6h0.75M466.7 144.4h0.75M467.5 144.5h0.75M467.4 142.5h0.75M465.9 141.4h0.75M466.4 142.8h0.75M461.6 145.2h0.75M472.6 147.1h0.75M467.7 148.3h0.75M466.3 142.8h0.75M464.9 143.7h0.75M470.4 143.0h0.75M465.7 145.9h0.75M468.1 141.4h0.75M469.5 139.9h0.75M473.8 145.8h0.75M471.7 144.4h0.75M467.5 139.4h0.75M462.5 141.1h0.75M470.0 140.1h0.75M470.8 142.6h0.75M470.2 143.7h0.75M469.2 141.8h0.75M466.0 139.9h0.75M466.4 144.6h0.75M470.9 143.5h0.75M470.8 142.0h0.75M464.3 143.7h0.75M470.5 143.7h0.75M468.1 143.1h0.75M468.7 140.0h0.75M468.3 143.4h0.75M469.1 139.3h0.75M471.2 144.4h0.75M470.3 143.5h0.75M462.9 143.0h0.75M469.9 143.0h0.75M468.9 146.2h0.75M462.4 140.2h0.75M469.2 142.3h0.75M468.3 139.0h0.75M471.8 141.1h0.75M464.7 141.0h0.75M469.8 142.2h0.75M466.2 137.7h0.75M467.5 139.1h0.75M463.4 144.0h0.75M469.3 143.1h0.75M468.3 144.2h0.75M469.9 143.5h0.75M468.7 146.0h0.75M471.1 143.7h0.75M469.0 144.8h0.75M468.3 140.5h0.75M470.9 141.5h0.75M472.5 147.3h0.75M469.0 145.1h0.75M469.7 144.5h0.75M467.2 146.3h0.75M469.1 141.7h0.75M472.8 146.4h0.75M466.9 142.8h0.75M469.5 142.4h0.75M470.9 147.8h0.75M462.5 140.2h0.75M468.8 143.9h0.75M469.2 138.1h0.75M465.6 142.6h0.75M462.8 145.4h0.75M467.7 142.5h0.75M466.1 144.7h0.75M471.7 139.5h0.75M467.3 143.3h0.75M466.3 140.9h0.75M465.5 143.4h0.75M466.8 140.1h0.75M466.8 145.6h0.75M463.9 141.7h0.75M468.1 145.1h0.75M465.0 143.5h0.75M470.7 141.2h0.75M465.8 147.5h0.75M467.5 143.8h0.75M463.8 140.1h0.75M464.5 146.3h0.75M468.8 135.0h0.75M462.4 146.6h0.75M470.9 140.8h0.75M462.5 142.1h0.75M467.9 143.6h0.75M473.1 140.1h0.75M463.6 144.2h0.75M473.0 146.3h0.75M469.5 146.4h0.75M465.5 142.8h0.75M466.6 141.7h0.75M466.5 147.6h0.75M467.7 143.0h0.75M471.6 142.1h0.75M466.3 143.4h0.75M466.7 140.6h0.75M470.3 141.2h0.75M471.7 138.9h0.75M464.4 140.8h0.75M468.0 142.5h0.75M468.0 148.2h0.75M467.6 147.9h0.75M466.5 143.8h0.75M466.1 144.6h0.75M463.6 146.7h0.75M466.0 145.1h0.75M467.4 142.3h0.75M470.3 141.1h0.75M467.4 146.7h0.75M468.6 141.3h0.75M467.3 138.0h0.75M468.1 145.5h0.75M467.3 143.4h0.75M472.5 141.6h0.75M468.0 146.7h0.75M466.4 144.2h0.75M462.0 142.5h0.75M466.6 138.5h0.75M466.8 143.7h0.75M471.3 138.6h0.75M467.0 144.5h0.75M468.3 139.6h0.75M469.6 141.6h0.75M470.3 138.2h0.75M463.8 144.2h0.75M471.1 140.6h0.75M468.2 144.8h0.75M468.7 146.6h0.75M466.6 143.4h0.75M465.6 142.0h0.75M468.7 148.3h0.75M461.9 147.1h0.75M469.5 144.3h0.75M468.4 144.8h0.75M466.7 147.9h0.75M468.5 145.9h0.75M474.2 142.3h0.75M469.3 144.8h0.75M465.7 142.0h0.75M471.3 140.1h0.75M465.4 144.2h0.75M467.3 143.9h0.75M466.2 144.2h0.75M467.3 144.5h0.75M469.5 142.7h0.75M468.6 141.8h0.75M464.0 140.7h0.75M468.1 145.5h0.75M468.4 144.7h0.75M465.6 142.0h0.75M468.0 144.7h0.75M466.1 145.3h0.75M465.8 144.5h0.75M465.7 139.3h0.75M463.6 142.0h0.75M468.0 141.6h0.75M468.8 147.4h0.75M464.3 142.7h0.75M465.6 143.5h0.75M465.2 141.6h0.75M466.6 142.6h0.75M468.2 144.1h0.75M464.8 139.1h0.75M462.3 138.1h0.75M471.9 143.3h0.75M469.9 142.5h0.75M467.2 142.0h0.75M471.0 144.6h0.75M469.4 145.3h0.75M464.7 139.1h0.75M467.6 143.0h0.75M475.5 142.8h0.75M469.4 140.8h0.75M469.9 141.6h0.75M467.6 146.1h0.75M468.8 142.2h0.75M472.1 138.1h0.75M467.9 141.4h0.75M468.9 139.2h0.75M471.3 143.3h0.75M467.4 138.8h0.75M472.6 143.9h0.75M466.4 139.5h0.75M468.9 143.0h0.75M464.4 140.9h0.75M473.9 139.7h0.75M469.4 145.5h0.75M469.0 145.9h0.75M472.5 144.8h0.75M466.2 143.9h0.75M467.6 143.8h0.75M465.8 145.0h0.75M468.3 144.9h0.75M466.1 143.1h0.75M470.1 145.4h0.75M467.6 144.4h0.75M467.2 146.8h0.75M467.3 144.9h0.75M468.0 145.2h0.75M465.5 142.5h0.75M469.5 141.5h0.75M467.9 139.8h0.75M467.6 142.7h0.75M464.3 144.5h0.75M469.7 144.8h0.75M463.0 142.2h0.75M467.5 143.2h0.75M467.4 147.1h0.75M466.5 146.8h0.75M463.1 138.6h0.75M472.5 140.5h0.75M468.4 147.2h0.75M464.5 138.3h0.75M470.8 144.1h0.75M467.6 140.9h0.75M469.7 141.2h0.75M464.7 145.5h0.75M462.8 140.6h0.75M476.2 140.0h0.75M466.8 142.1h0.75M466.0 142.2h0.75M468.7 144.9h0.75M464.9 145.7h0.75M468.8 144.4h0.75M467.4 143.4h0.75M468.5 141.1h0.75M468.3 143.9h0.75M467.8 147.6h0.75M465.5 145.0h0.75M462.3 148.4h0.75M469.8 141.8h0.75M464.8 140.2h0.75M472.4 142.9h0.75M467.1 145.2h0.75M469.4 143.4h0.75M465.8 141.2h0.75M468.1 140.1h0.75M467.4 142.9h0.75M466.4 144.3h0.75M469.7 139.2h0.75M465.7 141.4h0.75M464.7 146.3h0.75M467.8 146.2h0.75M468.3 141.6h0.75M464.0 143.2h0.75M468.8 140.9h0.75M472.1 148.2h0.75M473.4 142.1h0.75M465.8 144.1h0.75M470.3 145.0h0.75M467.7 146.6h0.75M466.3 140.1h0.75M468.5 142.8h0.75M467.0 142.6h0.75M466.9 142.8h0.75M464.7 141.4h0.75M466.0 143.1h0.75M467.2 140.7h0.75M469.3 143.6h0.75M469.2 142.8h0.75M468.5 139.1h0.75M468.7 138.2h0.75M462.5 144.5h0.75M466.9 145.6h0.75M467.6 144.8h0.75M465.8 144.1h0.75M466.7 134.7h0.75M468.9 141.5h0.75M466.5 141.9h0.75M467.5 142.6h0.75M469.4 139.2h0.75M466.2 142.9h0.75M466.0 142.3h0.75M472.7 148.6h0.75M469.5 144.5h0.75M470.9 141.4h0.75M468.4 142.9h0.75M469.3 142.3h0.75M466.4 144.5h0.75M464.7 143.7h0.75M467.5 143.4h0.75M469.4 144.9h0.75M470.3 143.0h0.75M469.1 146.4h0.75M467.2 144.2h0.75M469.2 140.0h0.75M465.6 139.6h0.75M469.3 140.7h0.75M473.0 140.8h0.75M469.8 143.5h0.75M471.0 144.8h0.75M468.2 141.6h0.75M467.3 141.4h0.75M469.0 144.9h0.75M468.9 146.1h0.75M469.7 141.1h0.75M463.8 146.1h0.75M468.3 146.9h0.75M469.5 143.4h0.75M465.3 144.3h0.75M465.1 138.9h0.75M467.2 147.3h0.75M469.3 144.4h0.75M469.8 142.7h0.75M470.7 140.7h0.75M467.5 140.1h0.75M465.6 144.1h0.75M468.0 142.9h0.75M470.1 145.3h0.75M469.8 139.1h0.75M468.5 143.1h0.75M464.2 148.3h0.75M468.3 140.4h0.75M469.0 143.7h0.75M470.1 145.7h0.75M469.9 142.7h0.75M466.9 139.7h0.75M465.6 143.5h0.75M469.0 144.3h0.75M469.1 138.9h0.75M465.7 140.3h0.75M467.8 144.0h0.75M463.5 142.7h0.75M471.2 143.7h0.75M465.0 141.4h0.75M463.7 140.2h0.75M465.6 142.2h0.75M466.9 147.9h0.75M466.0 141.8h0.75M470.7 142.0h0.75M469.8 143.1h0.75M470.1 139.7h0.75M472.4 144.2h0.75M465.5 144.9h0.75M469.2 143.9h0.75M469.5 137.9h0.75M471.4 136.8h0.75M461.1 138.9h0.75M463.8 144.7h0.75M468.5 142.4h0.75M467.5 145.5h0.75M466.6 148.0h0.75M468.2 142.5h0.75M465.3 143.8h0.75M462.3 147.2h0.75M469.1 147.0h0.75M467.0 141.5h0.75M469.8 144.2h0.75M469.6 141.8h0.75M467.6 142.5h0.75M467.8 145.6h0.75M465.0 142.5h0.75M462.3 143.0h0.75M467.1 145.5h0.75M470.0 142.3h0.75M468.9 142.1h0.75M472.5 140.8h0.75M467.7 144.8h0.75M462.7 144.7h0.75M470.4 144.3h0.75M470.6 143.2h0.75M466.2 148.2h0.75M464.8 148.3h0.75M468.8 145.3h0.75M469.1 142.2h0.75M464.8 145.1h0.75M466.0 142.5h0.75M464.3 144.4h0.75M464.8 146.3h0.75M469.3 146.4h0.75M465.1 140.8h0.75M465.0 142.4h0.75M460.6 145.7h0.75M470.8 139.2h0.75M463.8 141.7h0.75M466.6 142.5h0.75M466.0 147.8h0.75M469.2 144.7h0.75M463.8 145.3h0.75M467.8 143.5h0.75M465.3 140.0h0.75M470.5 144.0h0.75M465.2 145.8h0.75M464.7 141.8h0.75M467.1 144.3h0.75M472.6 140.6h0.75M463.3 144.1h0.75M467.2 140.9h0.75M465.1 142.7h0.75M467.3 141.0h0.75M469.6 143.8h0.75M468.2 144.2h0.75M468.5 143.9h0.75M468.0 142.8h0.75M465.6 143.3h0.75M469.1 148.4h0.75M461.4 141.2h0.75M467.9 146.6h0.75M465.9 145.2h0.75M466.9 144.0h0.75M468.8 141.5h0.75M468.2 142.6h0.75M467.4 140.3h0.75M468.8 139.1h0.75M461.4 146.1h0.75M466.8 139.3h0.75M468.3 145.5h0.75M468.4 146.2h0.75M460.6 137.3h0.75M467.2 139.4h0.75M470.7 142.8h0.75M470.3 142.8h0.75M467.4 143.9h0.75M469.5 143.7h0.75M470.6 144.1h0.75M473.0 143.4h0.75M472.5 146.1h0.75M467.9 143.4h0.75M468.6 145.4h0.75M466.2 139.7h0.75M467.9 143.0h0.75M465.0 141.3h0.75M470.9 145.8h0.75" stroke="#000" stroke-width="0.75" stroke-opacity="0.95" fill="none"/>
<path d="M474.6 141.3h0.75M463.5 140.9h0.75M470.7 135.2h0.75M471.5 138.3h0.75M472.5 139.0h0.75M477.9 145.1h0.75M477.1 148.0h0.75M455.5 139.5h0.75M479.5 142.9h0.75M468.4 142.5h0.75M468.0 138.3h0.75M479.9 134.5h0.75M469.8 138.4h0.75M463.1 135.7h0.75M463.4 140.1h0.75M471.7 140.8h0.75M476.8 140.7h0.75M480.4 140.7h0.75M470.3 143.3h0.75M468.5 137.7h0.75M481.1 144.9h0.75M468.6 134.7h0.75M480.1 141.6h0.75M472.8 142.9h0.75M472.8 138.2h0.75M469.9 135.0h0.75M473.1 143.9h0.75M468.6 138.7h0.75M467.3 144.5h0.75M470.6 144.5h0.75M467.5 141.4h0.75M473.2 141.4h0.75M471.9 145.3h0.75M469.8 142.9h0.75M470.2 137.7h0.75M470.0 142.1h0.75M481.8 143.6h0.75M471.3 142.2h0.75M467.8 142.1h0.75M469.6 140.8h0.75M475.3 140.9h0.75M470.2 137.7h0.75M470.5 135.7h0.75M469.8 145.9h0.75M472.3 138.9h0.75M473.7 142.3h0.75M474.0 135.4h0.75M461.5 142.0h0.75M465.0 138.1h0.75M476.2 137.3h0.75M478.0 137.5h0.75M479.2 145.1h0.75M472.2 145.9h0.75M478.2 133.0h0.75" stroke="#000" stroke-width="0.75" stroke-opacity="0.55" fill="none"/>
<line x1="23.30" y1="208.80" x2="23.30" y2="309.90" stroke="#000" stroke-width="1.3" stroke-linecap="butt"/>
<line x1="19.80" y1="309.30" x2="153.20" y2="309.30" stroke="#000" stroke-width="1.3" stroke-linecap="butt"/>
<line x1="39.40" y1="309.30" x2="39.40" y2="311.70" stroke="#000" stroke-width="1.1" stroke-linecap="butt"/>
<line x1="72.20" y1="309.30" x2="72.20" y2="311.70" stroke="#000" stroke-width="1.1" stroke-linecap="butt"/>
<line x1="105.20" y1="309.30" x2="105.20" y2="311.70" stroke="#000" stroke-width="1.1" stroke-linecap="butt"/>
<line x1="138.20" y1="309.30" x2="138.20" y2="311.70" stroke="#000" stroke-width="1.1" stroke-linecap="butt"/>
<line x1="19.80" y1="209.25" x2="23.30" y2="209.25" stroke="#000" stroke-width="1.15" stroke-linecap="butt"/>
<text x="19.40" y="211.25" font-size="5.6" text-anchor="end" fill="#000" font-weight="bold" >150</text>
<line x1="19.80" y1="242.60" x2="23.30" y2="242.60" stroke="#000" stroke-width="1.15" stroke-linecap="butt"/>
<text x="19.40" y="244.60" font-size="5.6" text-anchor="end" fill="#000" font-weight="bold" >100</text>
<line x1="19.80" y1="275.95" x2="23.30" y2="275.95" stroke="#000" stroke-width="1.15" stroke-linecap="butt"/>
<text x="19.40" y="277.95" font-size="5.6" text-anchor="end" fill="#000" font-weight="bold" >50</text>
<line x1="19.80" y1="309.30" x2="23.30" y2="309.30" stroke="#000" stroke-width="1.15" stroke-linecap="butt"/>
<text x="19.40" y="311.30" font-size="5.6" text-anchor="end" fill="#000" font-weight="bold" >0</text>
<text transform="translate(4.60 253.80) rotate(-90)" x="0" y="1.86" font-size="5.2" text-anchor="middle" fill="#000" font-weight="bold" textLength="95.50" lengthAdjust="spacingAndGlyphs">OVA-specific CD8<tspan dy="-1.7" font-size="3.4">+</tspan><tspan dy="1.7"> T</tspan><tspan dy="1.3" font-size="3.6">Effector:</tspan><tspan dy="-1.3"> T</tspan><tspan dy="1.3" font-size="3.6">Reg</tspan><tspan dy="-1.3"> Ratio</tspan></text>
<rect x="27.80" y="308.55" width="23.20" height="0.75" fill="#000"/>
<rect x="61.00" y="307.00" width="22.90" height="2.30" fill="#000"/>
<line x1="72.60" y1="306.20" x2="72.60" y2="307.00" stroke="#000" stroke-width="0.8" stroke-linecap="butt"/>
<line x1="66.80" y1="306.20" x2="78.80" y2="306.20" stroke="#000" stroke-width="0.8" stroke-linecap="butt"/>
<rect x="93.40" y="308.40" width="23.40" height="0.90" fill="#000"/>
<rect x="126.90" y="261.40" width="21.70" height="47.90" fill="#000"/>
<line x1="137.80" y1="235.40" x2="137.80" y2="262.00" stroke="#000" stroke-width="1.3" stroke-linecap="butt"/>
<line x1="132.00" y1="235.40" x2="143.50" y2="235.40" stroke="#000" stroke-width="1.3" stroke-linecap="butt"/>
<text x="39.30" y="319.70" font-size="5.6" text-anchor="middle" fill="#000" font-weight="bold" textLength="26.90" lengthAdjust="spacingAndGlyphs" >Untreated</text>
<text x="73.90" y="319.70" font-size="5.6" text-anchor="middle" fill="#000" font-weight="bold" textLength="32.80" lengthAdjust="spacingAndGlyphs" >Untreated +</text>
<text x="74.00" y="326.80" font-size="5.6" text-anchor="middle" fill="#000" font-weight="bold" textLength="36.20" lengthAdjust="spacingAndGlyphs" >αIL-2Rα MAb</text>
<text x="105.30" y="319.70" font-size="5.6" text-anchor="middle" fill="#000" font-weight="bold" textLength="11.60" lengthAdjust="spacingAndGlyphs" >TMZ</text>
<text x="138.40" y="319.70" font-size="5.6" text-anchor="middle" fill="#000" font-weight="bold" textLength="16.20" lengthAdjust="spacingAndGlyphs" >TMZ +</text>
<text x="138.10" y="326.80" font-size="5.6" text-anchor="middle" fill="#000" font-weight="bold" textLength="35.90" lengthAdjust="spacingAndGlyphs" >αIL-2Rα MAb</text>
<line x1="182.70" y1="217.10" x2="182.70" y2="277.40" stroke="#000" stroke-width="1.4" stroke-linecap="butt"/>
<line x1="182.70" y1="283.00" x2="182.70" y2="310.90" stroke="#000" stroke-width="1.4" stroke-linecap="butt"/>
<line x1="179.40" y1="310.30" x2="319.80" y2="310.30" stroke="#000" stroke-width="1.4" stroke-linecap="butt"/>
<line x1="199.30" y1="310.30" x2="199.30" y2="312.90" stroke="#000" stroke-width="1.2" stroke-linecap="butt"/>
<line x1="233.80" y1="310.30" x2="233.80" y2="312.90" stroke="#000" stroke-width="1.2" stroke-linecap="butt"/>
<line x1="268.10" y1="310.30" x2="268.10" y2="312.90" stroke="#000" stroke-width="1.2" stroke-linecap="butt"/>
<line x1="302.60" y1="310.30" x2="302.60" y2="312.90" stroke="#000" stroke-width="1.2" stroke-linecap="butt"/>
<line x1="181.00" y1="277.00" x2="184.60" y2="277.00" stroke="#000" stroke-width="1.2" stroke-linecap="butt"/>
<line x1="181.00" y1="283.40" x2="184.60" y2="283.40" stroke="#000" stroke-width="1.2" stroke-linecap="butt"/>
<line x1="179.60" y1="217.80" x2="182.70" y2="217.80" stroke="#000" stroke-width="1.25" stroke-linecap="butt"/>
<text x="179.30" y="220.16" font-size="6.6" text-anchor="end" fill="#000" font-weight="bold" >100</text>
<line x1="179.60" y1="232.55" x2="182.70" y2="232.55" stroke="#000" stroke-width="1.25" stroke-linecap="butt"/>
<text x="179.30" y="234.91" font-size="6.6" text-anchor="end" fill="#000" font-weight="bold" >80</text>
<line x1="179.60" y1="247.30" x2="182.70" y2="247.30" stroke="#000" stroke-width="1.25" stroke-linecap="butt"/>
<text x="179.30" y="249.66" font-size="6.6" text-anchor="end" fill="#000" font-weight="bold" >60</text>
<line x1="179.60" y1="262.05" x2="182.70" y2="262.05" stroke="#000" stroke-width="1.25" stroke-linecap="butt"/>
<text x="179.30" y="264.41" font-size="6.6" text-anchor="end" fill="#000" font-weight="bold" >40</text>
<line x1="179.60" y1="276.80" x2="182.70" y2="276.80" stroke="#000" stroke-width="1.25" stroke-linecap="butt"/>
<text x="179.30" y="279.16" font-size="6.6" text-anchor="end" fill="#000" font-weight="bold" >20</text>
<line x1="179.60" y1="283.42" x2="182.70" y2="283.42" stroke="#000" stroke-width="1.25" stroke-linecap="butt"/>
<text x="179.30" y="285.78" font-size="6.6" text-anchor="end" fill="#000" font-weight="bold" >8</text>
<line x1="179.60" y1="296.86" x2="182.70" y2="296.86" stroke="#000" stroke-width="1.25" stroke-linecap="butt"/>
<text x="179.30" y="299.22" font-size="6.6" text-anchor="end" fill="#000" font-weight="bold" >4</text>
<line x1="179.60" y1="310.30" x2="182.70" y2="310.30" stroke="#000" stroke-width="1.25" stroke-linecap="butt"/>
<text x="179.30" y="312.66" font-size="6.6" text-anchor="end" fill="#000" font-weight="bold" >0</text>
<text transform="translate(160.40 264.00) rotate(-90)" x="0" y="2.72" font-size="7.6" text-anchor="middle" fill="#000" font-weight="bold" textLength="87.00" lengthAdjust="spacingAndGlyphs">Cytokine counts (pg/ml)</text>
<rect x="185.30" y="307.80" width="12.90" height="2.50" fill="#000"/>
<rect x="200.90" y="306.80" width="12.30" height="3.50" fill="#9c9c9c" stroke="#1a1a1a" stroke-width="1.25"/>
<line x1="207.20" y1="301.90" x2="207.20" y2="306.20" stroke="#000" stroke-width="1.3" stroke-linecap="butt"/>
<line x1="203.80" y1="301.90" x2="210.80" y2="301.90" stroke="#000" stroke-width="1.3" stroke-linecap="butt"/>
<rect x="219.30" y="303.50" width="13.30" height="6.80" fill="#000"/>
<rect x="234.60" y="309.60" width="13.40" height="0.70" fill="#444"/>
<rect x="254.20" y="307.20" width="12.70" height="3.10" fill="#000"/>
<rect x="269.90" y="253.00" width="12.30" height="57.30" fill="#9c9c9c" stroke="#1a1a1a" stroke-width="1.25"/>
<line x1="276.10" y1="229.00" x2="276.10" y2="252.40" stroke="#000" stroke-width="1.4" stroke-linecap="butt"/>
<line x1="272.30" y1="229.00" x2="279.90" y2="229.00" stroke="#000" stroke-width="1.4" stroke-linecap="butt"/>
<rect x="287.70" y="289.20" width="13.40" height="21.10" fill="#000"/>
<line x1="294.50" y1="286.20" x2="294.50" y2="289.20" stroke="#000" stroke-width="1.4" stroke-linecap="butt"/>
<line x1="290.90" y1="286.20" x2="298.20" y2="286.20" stroke="#000" stroke-width="1.4" stroke-linecap="butt"/>
<rect x="304.60" y="262.60" width="11.80" height="47.70" fill="#9c9c9c" stroke="#1a1a1a" stroke-width="1.25"/>
<line x1="310.50" y1="256.70" x2="310.50" y2="262.00" stroke="#000" stroke-width="1.4" stroke-linecap="butt"/>
<line x1="307.20" y1="256.70" x2="313.90" y2="256.70" stroke="#000" stroke-width="1.4" stroke-linecap="butt"/>
<rect x="268.00" y="274.60" width="50.50" height="6.60" fill="#fff"/>
<text x="276.40" y="228.44" font-size="8.2" text-anchor="middle" fill="#000" font-weight="bold" >*</text>
<text x="310.40" y="255.84" font-size="8.2" text-anchor="middle" fill="#000" font-weight="bold" >*</text>
<text x="294.80" y="285.44" font-size="8.2" text-anchor="middle" fill="#000" font-weight="bold" >*</text>
<rect x="287.20" y="200.80" width="11.50" height="6.20" fill="#000"/>
<rect x="287.80" y="212.10" width="10.30" height="4.90" fill="#9c9c9c" stroke="#1a1a1a" stroke-width="1.25"/>
<text x="303.90" y="206.62" font-size="7.6" text-anchor="start" fill="#000" textLength="13.30" lengthAdjust="spacingAndGlyphs" >IL-2</text>
<text x="303.90" y="217.12" font-size="7.6" text-anchor="start" fill="#000" textLength="13.30" lengthAdjust="spacingAndGlyphs" >IL-7</text>
<text x="199.20" y="321.73" font-size="5.95" text-anchor="middle" fill="#000" font-weight="bold" textLength="28.00" lengthAdjust="spacingAndGlyphs" >Untreated</text>
<text x="234.10" y="321.73" font-size="5.95" text-anchor="middle" fill="#000" font-weight="bold" textLength="33.20" lengthAdjust="spacingAndGlyphs" >Untreated +</text>
<text x="234.00" y="328.93" font-size="5.95" text-anchor="middle" fill="#000" font-weight="bold" textLength="36.40" lengthAdjust="spacingAndGlyphs" >αIL-2Rα MAb</text>
<text x="268.10" y="321.73" font-size="5.95" text-anchor="middle" fill="#000" font-weight="bold" textLength="11.80" lengthAdjust="spacingAndGlyphs" >TMZ</text>
<text x="302.60" y="321.73" font-size="5.95" text-anchor="middle" fill="#000" font-weight="bold" textLength="17.30" lengthAdjust="spacingAndGlyphs" >TMZ +</text>
<text x="302.90" y="328.93" font-size="5.95" text-anchor="middle" fill="#000" font-weight="bold" textLength="38.00" lengthAdjust="spacingAndGlyphs" >αIL-2Rα MAb</text>
<line x1="368.80" y1="206.30" x2="368.80" y2="277.60" stroke="#000" stroke-width="1.5" stroke-linecap="butt"/>
<line x1="368.80" y1="284.00" x2="368.80" y2="309.20" stroke="#000" stroke-width="1.5" stroke-linecap="butt"/>
<line x1="364.30" y1="308.50" x2="514.90" y2="308.50" stroke="#000" stroke-width="1.5" stroke-linecap="butt"/>
<line x1="386.60" y1="308.50" x2="386.60" y2="311.30" stroke="#000" stroke-width="1.2" stroke-linecap="butt"/>
<line x1="423.30" y1="308.50" x2="423.30" y2="311.30" stroke="#000" stroke-width="1.2" stroke-linecap="butt"/>
<line x1="459.50" y1="308.50" x2="459.50" y2="311.30" stroke="#000" stroke-width="1.2" stroke-linecap="butt"/>
<line x1="496.60" y1="308.50" x2="496.60" y2="311.30" stroke="#000" stroke-width="1.2" stroke-linecap="butt"/>
<line x1="366.60" y1="277.00" x2="371.00" y2="277.00" stroke="#000" stroke-width="1.2" stroke-linecap="butt"/>
<line x1="366.60" y1="284.60" x2="371.00" y2="284.60" stroke="#000" stroke-width="1.2" stroke-linecap="butt"/>
<line x1="364.30" y1="207.00" x2="368.80" y2="207.00" stroke="#000" stroke-width="1.3" stroke-linecap="butt"/>
<text x="364.00" y="209.61" font-size="7.3" text-anchor="end" fill="#000" font-weight="bold" >3500</text>
<line x1="364.30" y1="218.65" x2="368.80" y2="218.65" stroke="#000" stroke-width="1.3" stroke-linecap="butt"/>
<text x="364.00" y="221.26" font-size="7.3" text-anchor="end" fill="#000" font-weight="bold" >3000</text>
<line x1="364.30" y1="230.30" x2="368.80" y2="230.30" stroke="#000" stroke-width="1.3" stroke-linecap="butt"/>
<text x="364.00" y="232.91" font-size="7.3" text-anchor="end" fill="#000" font-weight="bold" >2500</text>
<line x1="364.30" y1="241.95" x2="368.80" y2="241.95" stroke="#000" stroke-width="1.3" stroke-linecap="butt"/>
<text x="364.00" y="244.56" font-size="7.3" text-anchor="end" fill="#000" font-weight="bold" >2000</text>
<line x1="364.30" y1="253.60" x2="368.80" y2="253.60" stroke="#000" stroke-width="1.3" stroke-linecap="butt"/>
<text x="364.00" y="256.21" font-size="7.3" text-anchor="end" fill="#000" font-weight="bold" >1500</text>
<line x1="364.30" y1="265.25" x2="368.80" y2="265.25" stroke="#000" stroke-width="1.3" stroke-linecap="butt"/>
<text x="364.00" y="267.86" font-size="7.3" text-anchor="end" fill="#000" font-weight="bold" >1000</text>
<line x1="364.30" y1="276.90" x2="368.80" y2="276.90" stroke="#000" stroke-width="1.3" stroke-linecap="butt"/>
<text x="364.00" y="279.51" font-size="7.3" text-anchor="end" fill="#000" font-weight="bold" >500</text>
<line x1="364.30" y1="284.50" x2="368.80" y2="284.50" stroke="#000" stroke-width="1.3" stroke-linecap="butt"/>
<text x="364.00" y="287.11" font-size="7.3" text-anchor="end" fill="#000" font-weight="bold" >30</text>
<line x1="364.30" y1="292.50" x2="368.80" y2="292.50" stroke="#000" stroke-width="1.3" stroke-linecap="butt"/>
<text x="364.00" y="295.11" font-size="7.3" text-anchor="end" fill="#000" font-weight="bold" >20</text>
<line x1="364.30" y1="300.50" x2="368.80" y2="300.50" stroke="#000" stroke-width="1.3" stroke-linecap="butt"/>
<text x="364.00" y="303.11" font-size="7.3" text-anchor="end" fill="#000" font-weight="bold" >10</text>
<line x1="364.30" y1="308.50" x2="368.80" y2="308.50" stroke="#000" stroke-width="1.3" stroke-linecap="butt"/>
<text x="364.00" y="311.11" font-size="7.3" text-anchor="end" fill="#000" font-weight="bold" >0</text>
<text transform="translate(340.10 255.80) rotate(-90)" x="0" y="2.72" font-size="7.6" text-anchor="middle" fill="#000" font-weight="bold" textLength="45.60" lengthAdjust="spacingAndGlyphs">IFNγ (pg/mL)</text>
<rect x="374.00" y="294.10" width="25.20" height="14.40" fill="#000"/>
<line x1="386.60" y1="290.30" x2="386.60" y2="294.10" stroke="#000" stroke-width="1.35" stroke-linecap="butt"/>
<line x1="380.20" y1="290.30" x2="393.00" y2="290.30" stroke="#000" stroke-width="1.35" stroke-linecap="butt"/>
<rect x="410.70" y="300.20" width="25.20" height="8.30" fill="#000"/>
<line x1="423.30" y1="295.70" x2="423.30" y2="300.20" stroke="#000" stroke-width="1.35" stroke-linecap="butt"/>
<line x1="417.00" y1="295.70" x2="429.40" y2="295.70" stroke="#000" stroke-width="1.35" stroke-linecap="butt"/>
<rect x="446.90" y="266.60" width="25.20" height="41.90" fill="#000"/>
<line x1="460.20" y1="260.50" x2="460.20" y2="266.60" stroke="#000" stroke-width="1.35" stroke-linecap="butt"/>
<line x1="454.00" y1="260.50" x2="466.90" y2="260.50" stroke="#000" stroke-width="1.35" stroke-linecap="butt"/>
<rect x="484.00" y="234.20" width="25.20" height="74.30" fill="#000"/>
<line x1="496.50" y1="216.30" x2="496.50" y2="234.20" stroke="#000" stroke-width="1.35" stroke-linecap="butt"/>
<line x1="490.00" y1="216.30" x2="503.00" y2="216.30" stroke="#000" stroke-width="1.35" stroke-linecap="butt"/>
<rect x="440.00" y="277.90" width="72.00" height="7.10" fill="#fff"/>
<polyline fill="none" stroke="#000" stroke-width="1.4" points="384.3,233.2 384.3,229.9 459.5,229.9 459.5,233.2"/>
<polyline fill="none" stroke="#000" stroke-width="1.4" points="417.5,213.4 417.5,210.1 495.6,210.1 495.6,213.4"/>
<text x="423.90" y="229.22" font-size="9" text-anchor="middle" fill="#000" font-weight="bold" >*</text>
<text x="457.60" y="208.02" font-size="9" text-anchor="middle" fill="#000" font-weight="bold" >**</text>
<text x="385.60" y="319.81" font-size="7.0" text-anchor="middle" fill="#000" textLength="31.30" lengthAdjust="spacingAndGlyphs" >Untreated</text>
<text x="423.50" y="319.81" font-size="7.0" text-anchor="middle" fill="#000" textLength="37.90" lengthAdjust="spacingAndGlyphs" >Untreated +</text>
<text x="423.60" y="328.71" font-size="7.0" text-anchor="middle" fill="#000" textLength="42.60" lengthAdjust="spacingAndGlyphs" >αIL-2Rα MAb</text>
<text x="460.40" y="319.81" font-size="7.0" text-anchor="middle" fill="#000" textLength="13.00" lengthAdjust="spacingAndGlyphs" >TMZ</text>
<text x="497.40" y="319.81" font-size="7.0" text-anchor="middle" fill="#000" textLength="19.30" lengthAdjust="spacingAndGlyphs" >TMZ +</text>
<text x="497.40" y="328.71" font-size="7.0" text-anchor="middle" fill="#000" textLength="42.40" lengthAdjust="spacingAndGlyphs" >αIL-2Rα MAb</text>
</svg>
</body></html>
